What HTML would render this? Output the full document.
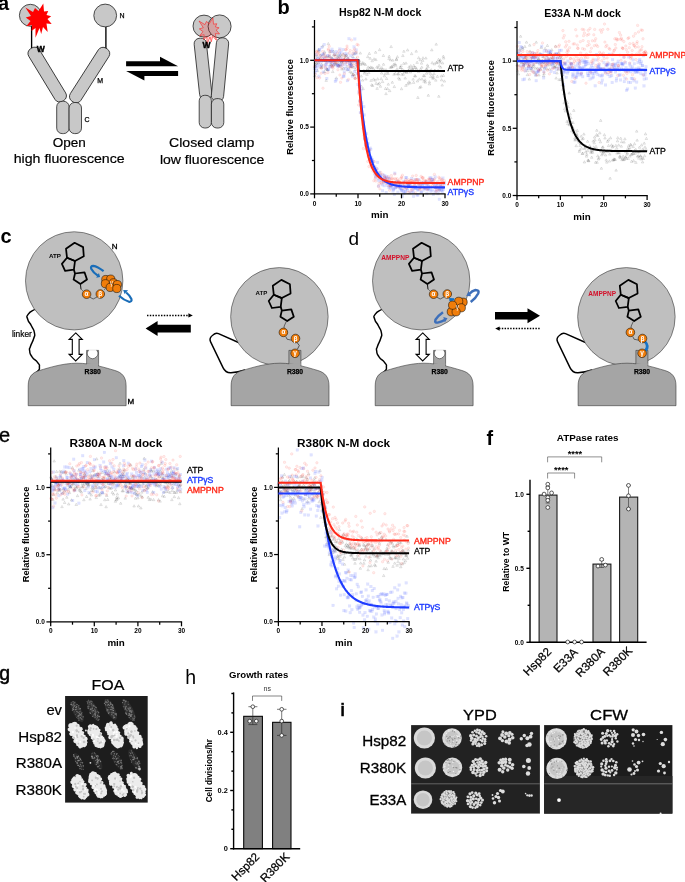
<!DOCTYPE html>
<html><head><meta charset="utf-8"><title>Figure</title>
<style>
html,body{margin:0;padding:0;background:#fff;}
svg{display:block;}
svg text{font-family:"Liberation Sans",Arial,Helvetica,sans-serif;fill:#000;}
</style></head><body>
<svg width="685" height="882" viewBox="0 0 685 882">
<rect width="685" height="882" fill="#fff"/>
<g id="pa">
<text x="-1.9" y="9.6" font-size="20" font-weight="bold">a</text>
<line x1="31.6" y1="25" x2="31.6" y2="48.5" stroke="#000" stroke-width="1.35"/>
<line x1="105.9" y1="25" x2="105.9" y2="48.5" stroke="#000" stroke-width="1.35"/>
<circle cx="30.4" cy="15.3" r="11" fill="#c8c8c8" stroke="#1a1a1a" stroke-width="0.75"/>
<circle cx="105.2" cy="15.5" r="11.4" fill="#c8c8c8" stroke="#1a1a1a" stroke-width="0.75"/>
<rect x="-6.25" y="-30.75" width="12.5" height="61.5" rx="5.5" fill="#c8c8c8" stroke="#1a1a1a" stroke-width="0.75" transform="translate(47.2 74.6) rotate(-31.3)"/>
<rect x="-6.25" y="-31.5" width="12.5" height="63" rx="5.5" fill="#c8c8c8" stroke="#1a1a1a" stroke-width="0.75" transform="translate(89.6 75.1) rotate(32.6)"/>
<rect x="56.7" y="101.3" width="12.4" height="32.3" rx="5.5" fill="#c8c8c8" stroke="#1a1a1a" stroke-width="0.75"/>
<rect x="69.1" y="102.5" width="12.4" height="31.1" rx="5.5" fill="#c8c8c8" stroke="#1a1a1a" stroke-width="0.75"/>
<polygon fill="#ff0000" points="25.4,7.4 33,12 35,7.9 38.5,11 43.3,3.5 44,11.5 48.2,10.9 46.5,15 51.2,16.2 47.5,19 51.7,24.1 46.5,23.5 47.7,32 43,27 41.2,34.1 39.5,28 35.5,37.7 35.5,28 31.5,31.1 32,25 26.3,26.3 30.5,21 25.8,17.5 31,16"/>
<text x="36.8" y="52.4" font-size="8.5" font-weight="bold" stroke="#000" stroke-width="0.4">W</text>
<text x="119.5" y="18.2" font-size="7" stroke="#000" stroke-width="0.25">N</text>
<text x="97.3" y="82.8" font-size="7" stroke="#000" stroke-width="0.25">M</text>
<text x="84.5" y="121.8" font-size="7" stroke="#000" stroke-width="0.25">C</text>
<text x="69.25" y="146.8" font-size="13.3" text-anchor="middle" textLength="33.1" lengthAdjust="spacingAndGlyphs" style="stroke:#000;stroke-width:0.2;">Open</text>
<text x="69.2" y="163.2" font-size="13.3" text-anchor="middle" textLength="111" lengthAdjust="spacingAndGlyphs" style="stroke:#000;stroke-width:0.2;">high fluorescence</text>
</g>
<g id="pa2">
<polygon points="126.1,61.3 160,61.3 160,56.7 178.1,66.3 126.1,66.3" fill="#000"/>
<polygon points="178.1,70.9 126.1,70.9 144.4,80.6 144.4,76 178.1,76" fill="#000"/>
<rect x="-6.15" y="-30.75" width="12.3" height="61.5" rx="5.5" fill="#c8c8c8" stroke="#1a1a1a" stroke-width="0.75" transform="translate(203 68.8) rotate(-6.2)"/>
<rect x="-6.15" y="-31.9" width="12.3" height="63.8" rx="5.5" fill="#c8c8c8" stroke="#1a1a1a" stroke-width="0.75" transform="translate(220 69.6) rotate(5.5)"/>
<rect x="199.2" y="95.3" width="12.2" height="32.7" rx="5.5" fill="#c8c8c8" stroke="#1a1a1a" stroke-width="0.75"/>
<rect x="211.4" y="98.6" width="12.4" height="29.4" rx="5.5" fill="#c8c8c8" stroke="#1a1a1a" stroke-width="0.75"/>
<circle cx="204" cy="26.1" r="11" fill="#c8c8c8" stroke="#1a1a1a" stroke-width="0.75"/>
<circle cx="219.6" cy="26.4" r="11.5" fill="#c8c8c8" stroke="#1a1a1a" stroke-width="0.75"/>
<polygon fill="#ff0000" fill-opacity="0.18" stroke="#ff2020" stroke-width="0.6" points="199.0,21.0 204.9,24.6 206.5,21.4 209.2,23.8 212.9,17.9 213.5,24.2 216.8,23.7 215.4,26.9 219.1,27.8 216.2,30.0 219.5,34.0 215.4,33.5 216.4,40.2 212.7,36.3 211.3,41.8 210.0,37.0 206.9,44.6 206.9,37.0 203.7,39.5 204.1,34.7 199.7,35.7 203.0,31.6 199.3,28.9 203.3,27.7"/>
<text x="202.6" y="48" font-size="8.5" font-weight="bold" stroke="#000" stroke-width="0.4">W</text>
<text x="211.7" y="147.1" font-size="13.3" text-anchor="middle" textLength="85.4" lengthAdjust="spacingAndGlyphs" style="stroke:#000;stroke-width:0.2;">Closed clamp</text>
<text x="212.15" y="163.8" font-size="13.3" text-anchor="middle" textLength="104.5" lengthAdjust="spacingAndGlyphs" style="stroke:#000;stroke-width:0.2;">low fluorescence</text>
</g>
<g id="plots">
<defs><marker id="mS" markerWidth="4" markerHeight="4" refX="2" refY="2" markerUnits="userSpaceOnUse"><rect x="0.65" y="0.65" width="2.7" height="2.7" fill="#2a44ff" fill-opacity="0.15" stroke="#2a44ff" stroke-opacity="0.08" stroke-width="0.35"/></marker><marker id="mC" markerWidth="4" markerHeight="4" refX="2" refY="2" markerUnits="userSpaceOnUse"><circle cx="2" cy="2" r="1.25" fill="#ff3a2a" fill-opacity="0.09" stroke="#ff3a2a" stroke-opacity="0.2" stroke-width="0.45"/></marker><marker id="mT" markerWidth="4" markerHeight="4" refX="2" refY="2.2" markerUnits="userSpaceOnUse"><path d="M2 0.8 L3.3 3.1 L0.7 3.1 Z" fill="#000" fill-opacity="0.03" stroke="#000" stroke-opacity="0.26" stroke-width="0.4"/></marker></defs>
<polyline points="314.7,75.8 315.1,66.4 315.6,64.3 316.0,62.8 316.5,59.4 316.8,63.4 317.1,56.2 317.6,70.8 318.4,49.9 318.7,62.7 318.9,51.3 319.3,59.5 319.8,60.2 320.3,58.5 320.8,55.4 321.3,67.7 321.7,64.5 322.0,67.2 322.7,46.2 323.0,60.7 323.3,59.5 323.6,54.3 324.4,71.8 324.6,52.0 325.3,60.2 325.4,60.5 326.2,80.5 326.4,56.4 326.7,69.1 327.2,69.6 327.5,69.7 328.3,43.8 328.4,60.2 328.8,56.9 329.6,56.2 329.9,51.8 330.2,60.7 330.8,64.2 331.0,64.8 331.5,57.9 332.3,58.2 332.7,66.2 332.8,71.7 333.4,51.4 333.6,55.2 334.1,60.6 334.8,63.2 334.9,54.9 335.3,65.1 336.0,63.0 336.3,78.1 336.8,54.9 337.3,57.2 337.5,63.8 338.3,58.0 338.4,65.4 339.1,55.8 339.6,62.1 340.0,66.4 340.1,65.0 340.5,55.0 341.3,61.6 341.5,55.9 341.9,69.2 342.3,60.8 342.8,63.0 343.4,54.2 343.7,68.4 344.4,59.9 344.5,59.0 345.0,56.1 345.4,58.6 346.0,55.6 346.5,55.2 347.0,66.5 347.3,69.7 347.5,58.9 348.3,60.0 348.6,58.8 349.0,60.7 349.4,61.1 350.1,66.7 350.1,71.8 350.9,63.7 351.2,64.0 351.7,72.8 351.9,66.6 352.6,74.8 352.8,56.6 353.3,74.5 353.8,67.5 354.2,53.8 354.4,75.2 355.2,78.2 355.6,69.5 355.9,52.6 356.3,58.7 356.9,62.9 357.0,67.1 357.5,65.3 358.2,73.2 358.7,70.8 358.8,63.1 359.4,70.4 359.7,61.2 360.3,53.2 360.6,64.5 361.2,76.2 361.4,86.4 362.2,63.9 362.6,80.2 362.8,62.8 363.1,88.8 363.9,70.6 364.2,63.8 364.4,73.3 365.0,72.0 365.4,64.6 365.9,79.1 366.5,70.7 367.0,74.5 367.0,69.9 367.8,56.8 368.1,67.2 368.4,70.5 368.8,72.8 369.3,53.6 369.7,68.3 370.1,58.4 370.6,67.2 371.1,80.5 371.7,85.0 372.0,67.7 372.2,60.9 372.6,85.6 373.1,68.4 373.6,79.2 374.1,59.1 374.6,70.6 375.1,80.3 375.6,52.4 375.9,59.7 376.1,83.5 376.9,67.2 377.1,88.5 377.7,79.0 378.2,84.2 378.3,67.9 379.0,65.4 379.4,83.2 379.6,49.8 380.4,86.4 380.6,68.9 381.2,78.9 381.6,73.2 381.9,67.8 382.4,69.8 382.6,81.7 383.4,55.6 383.5,64.4 384.0,69.8 384.4,76.0 385.0,73.9 385.5,88.6 386.0,93.8 386.1,69.9 386.6,78.6 387.2,72.3 387.6,88.8 388.0,73.6 388.3,84.3 389.0,58.7 389.2,56.4 389.7,90.8 390.2,67.5 390.6,59.9 391.1,46.7 391.5,66.7 391.8,67.2 392.3,82.4 392.8,60.3 393.2,66.3 393.8,64.4 394.0,74.4 394.3,86.7 395.1,64.0 395.3,73.5 395.8,65.4 396.4,59.8 396.5,59.2 397.0,69.0 397.4,56.9 397.9,74.2 398.5,74.0 398.7,78.1 399.1,71.5 399.7,79.4 400.1,67.5 400.6,67.6 401.1,65.7 401.5,88.9 401.9,74.4 402.4,69.3 402.9,55.7 403.3,74.3 403.8,63.5 403.9,51.4 404.3,71.2 404.8,72.1 405.2,78.2 405.9,85.5 406.0,63.2 406.6,71.7 406.9,72.6 407.6,50.1 407.8,84.0 408.4,70.4 408.9,82.0 409.1,67.0 409.5,69.1 410.1,83.1 410.4,72.1 410.8,65.9 411.6,53.8 412.0,68.2 412.5,69.1 412.7,70.2 413.1,79.3 413.6,82.5 413.8,65.6 414.5,67.7 414.8,75.9 415.4,76.1 415.6,67.5 416.2,51.3 416.7,69.1 417.1,62.5 417.4,81.1 417.9,97.6 418.5,71.7 418.7,57.9 419.3,79.2 419.8,87.5 420.2,59.9 420.6,69.3 420.9,86.8 421.5,63.3 421.8,67.3 422.0,79.2 422.7,60.5 423.0,58.0 423.5,75.7 424.0,81.4 424.4,75.9 425.1,80.1 425.4,82.3 425.9,58.2 426.2,69.1 426.5,73.4 426.9,69.2 427.4,65.2 428.0,66.9 428.3,95.4 428.8,72.2 429.4,82.0 429.4,84.0 430.1,70.8 430.7,73.8 430.8,76.6 431.3,70.0 431.8,50.0 432.2,62.9 432.7,78.3 433.0,76.1 433.6,78.1 434.0,73.8 434.3,64.0 434.6,70.4 435.1,70.7 435.8,80.3 436.2,44.3 436.7,62.3 436.8,62.8 437.4,76.5 438.1,70.5 438.5,59.6 438.8,96.4 439.3,65.9 439.6,61.2 440.0,62.3 440.3,60.1 440.7,67.3 441.3,76.1 441.6,80.0 442.2,85.2 442.6,63.1 443.3,56.4 443.4,75.5 443.7,58.2 444.4,81.2" fill="none" stroke="none" marker-start="url(#mT)" marker-mid="url(#mT)" marker-end="url(#mT)"/>
<polyline points="314.7,68.5 315.0,72.7 315.4,66.0 316.2,54.6 316.5,70.6 317.0,67.9 317.2,65.8 317.9,58.1 318.0,58.6 318.7,63.9 319.0,76.2 319.3,49.4 319.7,50.0 320.2,66.4 321.0,55.7 321.2,61.9 321.5,65.6 321.9,47.4 322.6,54.5 323.1,58.4 323.3,72.1 323.8,53.7 324.2,44.5 324.9,57.2 325.3,65.2 325.5,68.4 326.1,62.6 326.3,64.7 326.8,78.5 327.3,61.6 327.5,55.6 328.2,69.8 328.5,69.2 329.1,55.9 329.3,66.3 330.0,62.2 330.1,61.8 330.8,51.2 331.0,66.9 331.5,58.6 332.0,49.2 332.7,63.2 332.8,51.8 333.2,64.7 333.9,59.3 334.1,60.9 334.8,64.4 334.9,54.1 335.3,81.4 336.2,79.9 336.4,51.6 337.0,59.0 337.4,64.9 337.7,65.9 338.1,65.8 338.8,65.9 339.2,55.9 339.6,53.2 339.8,49.0 340.4,64.5 340.8,58.5 341.1,52.3 341.7,62.1 342.2,65.3 342.4,59.7 343.1,49.6 343.4,76.2 344.0,76.2 344.3,71.9 344.8,53.7 345.2,68.4 345.4,64.8 346.0,62.0 346.5,61.0 347.0,54.0 347.4,80.7 347.7,57.9 347.9,69.8 348.5,69.2 349.0,38.7 349.4,64.0 349.8,63.9 350.4,66.2 350.7,55.7 351.1,62.5 351.4,65.4 351.9,66.0 352.5,76.2 353.1,61.9 353.3,58.5 353.7,53.9 354.1,46.9 354.5,71.5 354.8,39.0 355.4,61.5 355.9,53.7 356.2,50.0 356.9,66.1 357.1,73.6 357.8,60.4 358.0,84.4 358.6,70.0 358.8,92.0 359.3,86.4 359.9,101.1 360.3,112.6 360.8,105.9 361.0,89.9 361.5,109.8 361.8,102.7 362.3,117.5 362.6,116.4 363.4,124.5 363.8,106.7 364.1,115.0 364.5,138.9 364.8,138.8 365.5,144.3 366.0,145.0 366.2,133.7 366.7,145.6 367.1,138.9 367.7,144.0 367.9,143.3 368.7,152.0 369.1,151.9 369.5,151.0 369.9,159.6 370.1,148.1 370.8,149.3 371.0,157.4 371.4,160.7 371.7,159.2 372.5,160.0 372.7,162.2 373.2,161.5 373.8,168.2 374.2,168.6 374.6,173.9 375.0,166.9 375.5,177.1 375.8,170.7 376.3,175.3 376.7,168.7 377.2,174.9 377.6,162.4 378.2,178.8 378.5,186.1 378.9,180.7 379.4,172.3 379.9,175.4 380.0,175.4 380.4,176.6 380.9,177.5 381.3,180.7 382.1,184.8 382.6,179.5 382.6,190.7 383.1,175.0 383.5,182.5 384.2,185.7 384.4,178.1 384.8,175.7 385.6,178.3 386.0,180.8 386.2,192.5 386.6,176.7 387.2,185.4 387.3,181.9 388.1,177.9 388.6,183.0 388.8,187.4 389.4,178.4 389.6,184.0 390.2,188.0 390.5,184.9 391.0,185.9 391.5,185.8 392.1,184.6 392.3,188.0 392.6,185.2 393.0,191.0 393.6,189.7 394.0,188.3 394.4,194.5 394.8,173.2 395.4,188.0 395.7,184.8 396.1,187.4 396.6,181.9 397.3,186.9 397.6,182.1 397.9,192.2 398.2,186.5 398.9,183.4 399.4,184.1 399.9,187.4 400.1,188.6 400.5,184.5 400.9,188.9 401.5,190.1 401.9,190.8 402.5,196.3 402.7,183.8 403.1,190.9 403.7,181.3 403.9,193.5 404.5,187.8 405.0,191.8 405.3,191.3 405.7,177.7 406.3,185.4 406.6,177.6 406.9,188.7 407.6,190.1 407.8,185.1 408.3,185.6 408.6,186.5 409.1,185.7 409.8,185.1 410.0,192.8 410.7,186.6 410.8,185.8 411.6,178.5 412.0,191.1 412.1,187.8 412.9,186.5 413.3,192.5 413.5,196.3 413.8,189.1 414.5,183.9 415.0,179.6 415.4,188.0 415.7,186.8 416.1,188.6 416.8,186.2 417.0,194.8 417.6,190.3 417.9,195.2 418.3,189.5 418.9,179.6 419.2,186.0 419.7,184.2 420.0,187.4 420.6,187.3 421.1,192.5 421.4,183.0 421.7,191.8 422.1,185.3 422.5,186.2 423.3,183.6 423.4,182.7 424.2,189.9 424.5,187.8 425.0,184.2 425.2,187.7 425.8,188.4 426.2,181.8 426.7,184.1 426.9,193.7 427.6,189.7 427.7,186.2 428.4,188.5 428.7,185.8 429.1,189.8 429.6,182.4 430.1,178.0 430.4,188.1 431.1,191.3 431.1,178.0 431.7,181.6 432.3,189.9 432.5,179.4 432.9,179.8 433.4,194.5 434.0,184.0 434.6,186.5 435.0,191.9 435.2,177.0 435.8,183.9 436.2,190.2 436.4,187.0 436.8,183.2 437.6,184.6 438.0,193.7 438.3,187.9 438.8,190.7 439.3,199.3 439.7,189.5 440.0,188.7 440.4,185.7 440.8,185.0 441.2,190.1 442.0,190.0 442.3,191.9 442.6,187.8 442.9,178.1 443.5,189.5 444.0,184.0 444.2,183.1" fill="none" stroke="none" marker-start="url(#mS)" marker-mid="url(#mS)" marker-end="url(#mS)"/>
<polyline points="314.6,66.3 315.3,74.3 315.4,59.6 315.9,54.7 316.6,51.9 316.8,51.3 317.2,77.7 317.8,52.3 318.0,61.2 318.8,54.7 319.2,53.8 319.6,77.9 320.1,58.2 320.5,67.7 320.8,59.9 321.2,73.2 321.6,68.2 321.9,56.6 322.7,51.6 323.0,88.2 323.4,60.4 323.9,65.7 324.2,57.3 324.7,54.3 325.0,73.5 325.5,56.9 325.8,67.6 326.3,59.9 326.7,62.9 327.4,57.4 327.9,72.6 328.3,50.1 328.4,48.9 329.2,46.2 329.5,54.7 330.1,51.6 330.5,58.1 330.9,66.7 331.1,61.4 331.8,65.6 332.1,61.5 332.5,67.1 333.0,68.2 333.5,65.4 333.7,62.0 334.3,54.5 334.5,59.7 335.2,56.6 335.6,63.0 335.9,61.1 336.3,59.7 337.0,59.9 337.1,62.8 337.7,52.8 337.9,69.7 338.7,58.5 338.8,66.3 339.6,50.2 339.9,75.0 340.2,57.9 340.5,82.3 341.3,60.5 341.5,68.1 341.9,78.1 342.5,64.9 342.8,54.4 343.2,62.0 343.7,58.0 344.0,59.6 344.4,73.8 345.2,56.1 345.5,49.6 345.9,62.9 346.2,49.9 347.0,46.1 347.1,48.2 347.6,62.3 347.9,58.6 348.5,79.4 349.2,53.0 349.2,65.4 350.0,61.5 350.2,50.5 350.5,68.1 350.9,60.1 351.4,40.1 352.0,66.7 352.6,53.6 352.7,63.2 353.5,74.9 353.7,50.8 354.2,65.5 354.7,48.9 354.9,78.4 355.3,78.2 355.9,64.2 356.3,52.1 356.6,62.3 357.0,44.4 357.5,57.2 358.2,45.0 358.6,105.0 358.9,94.0 359.5,100.9 359.7,92.4 360.2,102.2 360.9,112.7 361.2,109.1 361.5,111.3 361.9,116.5 362.3,115.7 363.0,128.4 363.4,148.6 363.8,121.9 364.1,135.4 364.7,131.7 365.0,138.4 365.4,137.2 365.7,146.2 366.4,149.1 366.6,142.7 367.1,146.6 367.8,161.4 368.2,155.8 368.4,156.8 368.9,166.6 369.5,149.9 369.6,159.4 370.4,162.1 370.6,162.5 371.3,165.8 371.6,160.2 371.8,167.6 372.4,168.2 372.9,171.1 373.1,166.4 373.8,180.8 374.2,166.6 374.4,161.8 375.1,178.8 375.6,176.8 375.9,181.1 376.3,174.6 376.8,172.5 377.2,169.0 377.6,173.5 378.0,174.8 378.4,186.3 379.0,183.4 379.3,177.4 379.9,188.9 380.1,174.0 380.7,172.3 381.0,182.3 381.3,183.6 382.1,178.6 382.5,174.4 382.7,180.0 383.2,179.8 383.5,181.8 383.9,181.8 384.7,176.9 384.8,176.9 385.3,182.1 386.0,178.9 386.1,179.6 386.5,183.4 387.0,179.0 387.3,181.7 387.9,182.7 388.4,176.5 388.9,186.0 389.4,179.0 389.6,190.2 390.0,185.7 390.6,185.6 391.1,178.7 391.4,175.6 391.9,181.9 392.4,178.4 392.8,179.1 393.3,184.2 393.4,183.8 394.2,184.5 394.7,182.6 394.8,174.1 395.3,178.5 395.6,179.5 396.3,186.7 396.7,184.6 397.0,184.6 397.3,178.8 398.1,180.8 398.5,181.5 399.0,187.1 399.1,181.1 399.5,186.0 400.0,183.1 400.7,178.4 401.1,182.2 401.5,176.9 401.9,178.1 402.4,175.2 402.8,185.6 403.3,188.5 403.7,182.5 404.1,183.4 404.6,182.2 404.8,186.1 405.4,181.2 405.7,179.8 406.2,188.1 406.8,188.0 407.2,180.8 407.6,183.2 408.0,192.3 408.4,181.6 408.8,179.8 409.2,181.8 409.6,183.7 410.2,191.3 410.4,180.6 411.1,188.2 411.2,180.4 411.8,180.5 412.3,189.8 412.7,176.1 413.1,181.2 413.7,186.4 414.2,185.9 414.3,181.1 415.1,183.4 415.3,192.9 415.7,179.5 416.2,175.4 416.7,180.0 416.9,179.4 417.7,179.8 418.1,184.1 418.5,182.7 418.6,183.6 419.4,188.2 419.5,181.0 419.9,189.8 420.5,184.9 421.1,176.3 421.4,189.1 421.7,182.7 422.2,177.6 422.5,178.1 423.1,180.5 423.3,177.7 423.8,188.0 424.6,188.0 424.9,180.4 425.3,183.0 425.8,181.8 426.0,180.7 426.6,181.3 427.0,189.8 427.3,183.9 427.7,188.3 428.4,182.8 428.7,179.1 429.3,179.1 429.5,179.9 430.1,181.5 430.6,186.2 430.9,182.2 431.4,179.4 431.9,183.1 432.3,183.0 432.7,185.9 433.1,181.4 433.6,183.3 434.1,180.5 434.4,174.4 434.6,178.9 435.2,187.8 435.9,187.5 436.0,191.3 436.5,186.9 437.1,189.9 437.6,181.5 437.8,183.3 438.4,187.1 438.8,177.2 439.2,190.1 439.8,179.7 439.8,178.1 440.5,184.4 441.0,186.3 441.3,182.0 441.8,180.2 442.1,179.3 442.8,181.8 443.0,184.9 443.3,187.3 444.0,182.4 444.4,180.7" fill="none" stroke="none" marker-start="url(#mC)" marker-mid="url(#mC)" marker-end="url(#mC)"/>
<line x1="314.5" y1="20" x2="314.5" y2="194.525" stroke="#000" stroke-width="1.25"/>
<line x1="313.875" y1="193.9" x2="445.625" y2="193.9" stroke="#000" stroke-width="1.25"/>
<line x1="310.2" y1="193.90" x2="314.5" y2="193.90" stroke="#000" stroke-width="1.25"/>
<text x="308.9" y="196.2" font-size="6.5" font-weight="bold" text-anchor="end">0.0</text>
<line x1="311.9" y1="160.50" x2="314.5" y2="160.50" stroke="#000" stroke-width="1.25"/>
<line x1="310.2" y1="127.10" x2="314.5" y2="127.10" stroke="#000" stroke-width="1.25"/>
<text x="308.9" y="129.4" font-size="6.5" font-weight="bold" text-anchor="end">0.5</text>
<line x1="311.9" y1="93.70" x2="314.5" y2="93.70" stroke="#000" stroke-width="1.25"/>
<line x1="310.2" y1="60.30" x2="314.5" y2="60.30" stroke="#000" stroke-width="1.25"/>
<text x="308.9" y="62.6" font-size="6.5" font-weight="bold" text-anchor="end">1.0</text>
<line x1="311.9" y1="26.90" x2="314.5" y2="26.90" stroke="#000" stroke-width="1.25"/>
<line x1="314.50" y1="193.9" x2="314.50" y2="198.3" stroke="#000" stroke-width="1.25"/>
<text x="314.5" y="205.6" font-size="6.5" font-weight="bold" text-anchor="middle">0</text>
<line x1="336.25" y1="193.9" x2="336.25" y2="196.70000000000002" stroke="#000" stroke-width="1.25"/>
<line x1="358.00" y1="193.9" x2="358.00" y2="198.3" stroke="#000" stroke-width="1.25"/>
<text x="358.0" y="205.6" font-size="6.5" font-weight="bold" text-anchor="middle">10</text>
<line x1="379.75" y1="193.9" x2="379.75" y2="196.70000000000002" stroke="#000" stroke-width="1.25"/>
<line x1="401.50" y1="193.9" x2="401.50" y2="198.3" stroke="#000" stroke-width="1.25"/>
<text x="401.5" y="205.6" font-size="6.5" font-weight="bold" text-anchor="middle">20</text>
<line x1="423.25" y1="193.9" x2="423.25" y2="196.70000000000002" stroke="#000" stroke-width="1.25"/>
<line x1="445.00" y1="193.9" x2="445.00" y2="198.3" stroke="#000" stroke-width="1.25"/>
<text x="445.0" y="205.6" font-size="6.5" font-weight="bold" text-anchor="middle">30</text>
<text x="380.1" y="15.5" font-size="10.6" font-weight="bold" text-anchor="middle">Hsp82 N-M dock</text>
<text transform="translate(293.2 107) rotate(-90)" font-size="9.3" font-weight="bold" text-anchor="middle">Relative fluorescence</text>
<text x="379.8" y="218.2" font-size="9.8" font-weight="bold" text-anchor="middle">min</text>
<polyline points="314.50,60.30 315.04,60.30 315.59,60.30 316.13,60.30 316.68,60.30 317.22,60.30 317.76,60.30 318.31,60.30 318.85,60.30 319.39,60.30 319.94,60.30 320.48,60.30 321.02,60.30 321.57,60.30 322.11,60.30 322.66,60.30 323.20,60.30 323.74,60.30 324.29,60.30 324.83,60.30 325.38,60.30 325.92,60.30 326.46,60.30 327.01,60.30 327.55,60.30 328.09,60.30 328.64,60.30 329.18,60.30 329.73,60.30 330.27,60.30 330.81,60.30 331.36,60.30 331.90,60.30 332.44,60.30 332.99,60.30 333.53,60.30 334.07,60.30 334.62,60.30 335.16,60.30 335.71,60.30 336.25,60.30 336.79,60.30 337.34,60.30 337.88,60.30 338.43,60.30 338.97,60.30 339.51,60.30 340.06,60.30 340.60,60.30 341.14,60.30 341.69,60.30 342.23,60.30 342.77,60.30 343.32,60.30 343.86,60.30 344.41,60.30 344.95,60.30 345.49,60.30 346.04,60.30 346.58,60.30 347.12,60.30 347.67,60.30 348.21,60.30 348.76,60.30 349.30,60.30 349.84,60.30 350.39,60.30 350.93,60.30 351.48,60.30 352.02,60.30 352.56,60.30 353.11,60.30 353.65,60.30 354.19,60.30 354.74,60.30 355.28,60.30 355.82,60.30 356.37,60.30 356.69,60.30 356.70,60.30 356.91,60.30 357.46,60.30 357.56,60.30 357.57,60.30 358.00,60.30 358.00,60.30 358.00,60.30 358.43,60.30 358.44,70.99 358.54,70.99 359.09,70.99 359.63,70.99 360.18,70.99 360.72,70.99 361.26,70.99 361.81,70.99 362.35,70.99 362.89,70.99 363.44,70.99 363.98,70.99 364.52,70.99 365.07,70.99 365.61,70.99 366.16,70.99 366.70,70.99 367.24,70.99 367.79,70.99 368.33,70.99 368.88,70.99 369.42,70.99 369.96,70.99 370.51,70.99 371.05,70.99 371.59,70.99 372.14,70.99 372.68,70.99 373.23,70.99 373.77,70.99 374.31,70.99 374.86,70.99 375.40,70.99 375.94,70.99 376.49,70.99 377.03,70.99 377.57,70.99 378.12,70.99 378.66,70.99 379.21,70.99 379.75,70.99 380.29,70.99 380.84,70.99 381.38,70.99 381.93,70.99 382.47,70.99 383.01,70.99 383.56,70.99 384.10,70.99 384.64,70.99 385.19,70.99 385.73,70.99 386.27,70.99 386.82,70.99 387.36,70.99 387.91,70.99 388.45,70.99 388.99,70.99 389.54,70.99 390.08,70.99 390.62,70.99 391.17,70.99 391.71,70.99 392.26,70.99 392.80,70.99 393.34,70.99 393.89,70.99 394.43,70.99 394.98,70.99 395.52,70.99 396.06,70.99 396.61,70.99 397.15,70.99 397.69,70.99 398.24,70.99 398.78,70.99 399.32,70.99 399.87,70.99 400.41,70.99 400.96,70.99 401.50,70.99 402.04,70.99 402.59,70.99 403.13,70.99 403.68,70.99 404.22,70.99 404.76,70.99 405.31,70.99 405.85,70.99 406.39,70.99 406.94,70.99 407.48,70.99 408.02,70.99 408.57,70.99 409.11,70.99 409.66,70.99 410.20,70.99 410.74,70.99 411.29,70.99 411.83,70.99 412.38,70.99 412.92,70.99 413.46,70.99 414.01,70.99 414.55,70.99 415.09,70.99 415.64,70.99 416.18,70.99 416.73,70.99 417.27,70.99 417.81,70.99 418.36,70.99 418.90,70.99 419.44,70.99 419.99,70.99 420.53,70.99 421.07,70.99 421.62,70.99 422.16,70.99 422.71,70.99 423.25,70.99 423.79,70.99 424.34,70.99 424.88,70.99 425.43,70.99 425.97,70.99 426.51,70.99 427.06,70.99 427.60,70.99 428.14,70.99 428.69,70.99 429.23,70.99 429.77,70.99 430.32,70.99 430.86,70.99 431.41,70.99 431.95,70.99 432.49,70.99 433.04,70.99 433.58,70.99 434.12,70.99 434.67,70.99 435.21,70.99 435.76,70.99 436.30,70.99 436.84,70.99 437.39,70.99 437.93,70.99 438.48,70.99 439.02,70.99 439.56,70.99 440.11,70.99 440.65,70.99 441.19,70.99 441.74,70.99 442.28,70.99 442.82,70.99 443.37,70.99 443.91,70.99 444.46,70.99 445.00,70.99" fill="none" stroke="#000000" stroke-width="2.0" stroke-linejoin="miter"/>
<polyline points="314.50,60.30 315.04,60.30 315.59,60.30 316.13,60.30 316.68,60.30 317.22,60.30 317.76,60.30 318.31,60.30 318.85,60.30 319.39,60.30 319.94,60.30 320.48,60.30 321.02,60.30 321.57,60.30 322.11,60.30 322.66,60.30 323.20,60.30 323.74,60.30 324.29,60.30 324.83,60.30 325.38,60.30 325.92,60.30 326.46,60.30 327.01,60.30 327.55,60.30 328.09,60.30 328.64,60.30 329.18,60.30 329.73,60.30 330.27,60.30 330.81,60.30 331.36,60.30 331.90,60.30 332.44,60.30 332.99,60.30 333.53,60.30 334.07,60.30 334.62,60.30 335.16,60.30 335.71,60.30 336.25,60.30 336.79,60.30 337.34,60.30 337.88,60.30 338.43,60.30 338.97,60.30 339.51,60.30 340.06,60.30 340.60,60.30 341.14,60.30 341.69,60.30 342.23,60.30 342.77,60.30 343.32,60.30 343.86,60.30 344.41,60.30 344.95,60.30 345.49,60.30 346.04,60.30 346.58,60.30 347.12,60.30 347.67,60.30 348.21,60.30 348.76,60.30 349.30,60.30 349.84,60.30 350.39,60.30 350.93,60.30 351.48,60.30 352.02,60.30 352.56,60.30 353.11,60.30 353.65,60.30 354.19,60.30 354.74,60.30 355.28,60.30 355.82,60.30 356.37,60.30 356.69,60.30 356.70,60.30 356.91,60.30 357.46,60.30 357.56,60.30 357.57,60.33 358.00,66.23 358.00,66.25 358.00,66.28 358.43,71.90 358.44,71.96 358.54,73.31 359.09,79.95 359.63,86.20 360.18,92.09 360.72,97.64 361.26,102.87 361.81,107.79 362.35,112.42 362.89,116.78 363.44,120.89 363.98,124.76 364.52,128.41 365.07,131.84 365.61,135.07 366.16,138.12 366.70,140.99 367.24,143.69 367.79,146.23 368.33,148.62 368.88,150.88 369.42,153.00 369.96,155.00 370.51,156.89 371.05,158.66 371.59,160.33 372.14,161.91 372.68,163.39 373.23,164.78 373.77,166.10 374.31,167.34 374.86,168.50 375.40,169.60 375.94,170.63 376.49,171.61 377.03,172.52 377.57,173.39 378.12,174.20 378.66,174.97 379.21,175.69 379.75,176.37 380.29,177.01 380.84,177.61 381.38,178.18 381.93,178.71 382.47,179.22 383.01,179.69 383.56,180.14 384.10,180.56 384.64,180.95 385.19,181.32 385.73,181.68 386.27,182.01 386.82,182.32 387.36,182.61 387.91,182.89 388.45,183.15 388.99,183.39 389.54,183.62 390.08,183.84 390.62,184.04 391.17,184.24 391.71,184.42 392.26,184.59 392.80,184.75 393.34,184.90 393.89,185.05 394.43,185.18 394.98,185.31 395.52,185.43 396.06,185.54 396.61,185.64 397.15,185.74 397.69,185.84 398.24,185.93 398.78,186.01 399.32,186.09 399.87,186.16 400.41,186.23 400.96,186.30 401.50,186.36 402.04,186.42 402.59,186.47 403.13,186.52 403.68,186.57 404.22,186.62 404.76,186.66 405.31,186.70 405.85,186.74 406.39,186.77 406.94,186.81 407.48,186.84 408.02,186.87 408.57,186.90 409.11,186.92 409.66,186.95 410.20,186.97 410.74,186.99 411.29,187.02 411.83,187.03 412.38,187.05 412.92,187.07 413.46,187.09 414.01,187.10 414.55,187.12 415.09,187.13 415.64,187.14 416.18,187.16 416.73,187.17 417.27,187.18 417.81,187.19 418.36,187.20 418.90,187.21 419.44,187.22 419.99,187.22 420.53,187.23 421.07,187.24 421.62,187.25 422.16,187.25 422.71,187.26 423.25,187.26 423.79,187.27 424.34,187.27 424.88,187.28 425.43,187.28 425.97,187.29 426.51,187.29 427.06,187.29 427.60,187.30 428.14,187.30 428.69,187.30 429.23,187.31 429.77,187.31 430.32,187.31 430.86,187.31 431.41,187.32 431.95,187.32 432.49,187.32 433.04,187.32 433.58,187.32 434.12,187.33 434.67,187.33 435.21,187.33 435.76,187.33 436.30,187.33 436.84,187.33 437.39,187.33 437.93,187.34 438.48,187.34 439.02,187.34 439.56,187.34 440.11,187.34 440.65,187.34 441.19,187.34 441.74,187.34 442.28,187.34 442.82,187.34 443.37,187.34 443.91,187.34 444.46,187.34 445.00,187.35" fill="none" stroke="#1f3cff" stroke-width="2.1" stroke-linejoin="miter"/>
<polyline points="314.50,60.30 315.04,60.30 315.59,60.30 316.13,60.30 316.68,60.30 317.22,60.30 317.76,60.30 318.31,60.30 318.85,60.30 319.39,60.30 319.94,60.30 320.48,60.30 321.02,60.30 321.57,60.30 322.11,60.30 322.66,60.30 323.20,60.30 323.74,60.30 324.29,60.30 324.83,60.30 325.38,60.30 325.92,60.30 326.46,60.30 327.01,60.30 327.55,60.30 328.09,60.30 328.64,60.30 329.18,60.30 329.73,60.30 330.27,60.30 330.81,60.30 331.36,60.30 331.90,60.30 332.44,60.30 332.99,60.30 333.53,60.30 334.07,60.30 334.62,60.30 335.16,60.30 335.71,60.30 336.25,60.30 336.79,60.30 337.34,60.30 337.88,60.30 338.43,60.30 338.97,60.30 339.51,60.30 340.06,60.30 340.60,60.30 341.14,60.30 341.69,60.30 342.23,60.30 342.77,60.30 343.32,60.30 343.86,60.30 344.41,60.30 344.95,60.30 345.49,60.30 346.04,60.30 346.58,60.30 347.12,60.30 347.67,60.30 348.21,60.30 348.76,60.30 349.30,60.30 349.84,60.30 350.39,60.30 350.93,60.30 351.48,60.30 352.02,60.30 352.56,60.30 353.11,60.30 353.65,60.30 354.19,60.30 354.74,60.30 355.28,60.30 355.82,60.30 356.37,60.30 356.69,60.30 356.70,60.30 356.91,60.30 357.46,60.30 357.56,60.30 357.57,60.34 358.00,67.64 358.00,67.67 358.00,67.71 358.43,74.57 358.44,74.64 358.54,76.27 359.09,84.22 359.63,91.59 360.18,98.40 360.72,104.70 361.26,110.54 361.81,115.94 362.35,120.94 362.89,125.56 363.44,129.84 363.98,133.80 364.52,137.46 365.07,140.86 365.61,143.99 366.16,146.90 366.70,149.59 367.24,152.07 367.79,154.38 368.33,156.51 368.88,158.48 369.42,160.30 369.96,161.99 370.51,163.55 371.05,165.00 371.59,166.34 372.14,167.58 372.68,168.72 373.23,169.78 373.77,170.76 374.31,171.67 374.86,172.51 375.40,173.29 375.94,174.01 376.49,174.68 377.03,175.29 377.57,175.86 378.12,176.39 378.66,176.88 379.21,177.33 379.75,177.75 380.29,178.14 380.84,178.50 381.38,178.83 381.93,179.14 382.47,179.42 383.01,179.68 383.56,179.93 384.10,180.15 384.64,180.36 385.19,180.55 385.73,180.73 386.27,180.90 386.82,181.05 387.36,181.19 387.91,181.32 388.45,181.44 388.99,181.55 389.54,181.66 390.08,181.75 390.62,181.84 391.17,181.92 391.71,182.00 392.26,182.07 392.80,182.14 393.34,182.20 393.89,182.25 394.43,182.30 394.98,182.35 395.52,182.40 396.06,182.44 396.61,182.47 397.15,182.51 397.69,182.54 398.24,182.57 398.78,182.60 399.32,182.63 399.87,182.65 400.41,182.67 400.96,182.69 401.50,182.71 402.04,182.73 402.59,182.74 403.13,182.76 403.68,182.77 404.22,182.79 404.76,182.80 405.31,182.81 405.85,182.82 406.39,182.83 406.94,182.84 407.48,182.85 408.02,182.85 408.57,182.86 409.11,182.87 409.66,182.87 410.20,182.88 410.74,182.88 411.29,182.89 411.83,182.89 412.38,182.90 412.92,182.90 413.46,182.90 414.01,182.91 414.55,182.91 415.09,182.91 415.64,182.91 416.18,182.92 416.73,182.92 417.27,182.92 417.81,182.92 418.36,182.92 418.90,182.93 419.44,182.93 419.99,182.93 420.53,182.93 421.07,182.93 421.62,182.93 422.16,182.93 422.71,182.93 423.25,182.93 423.79,182.94 424.34,182.94 424.88,182.94 425.43,182.94 425.97,182.94 426.51,182.94 427.06,182.94 427.60,182.94 428.14,182.94 428.69,182.94 429.23,182.94 429.77,182.94 430.32,182.94 430.86,182.94 431.41,182.94 431.95,182.94 432.49,182.94 433.04,182.94 433.58,182.94 434.12,182.94 434.67,182.94 435.21,182.94 435.76,182.94 436.30,182.94 436.84,182.94 437.39,182.94 437.93,182.94 438.48,182.94 439.02,182.94 439.56,182.94 440.11,182.94 440.65,182.94 441.19,182.94 441.74,182.94 442.28,182.94 442.82,182.94 443.37,182.94 443.91,182.94 444.46,182.94 445.00,182.94" fill="none" stroke="#ff2a1a" stroke-width="2.1" stroke-linejoin="miter"/>
<text x="447.6" y="70.8" font-size="8.7" style="stroke:#000;stroke-width:0.3">ATP</text>
<text x="447.6" y="184.6" font-size="8.7" style="fill:#ff2a1a;stroke:#ff2a1a;stroke-width:0.38">AMPPNP</text>
<text x="447.6" y="194.6" font-size="8.7" style="fill:#1f3cff;stroke:#1f3cff;stroke-width:0.38">ATPγS</text>
<polyline points="517.1,65.0 517.6,70.9 518.0,57.5 518.5,74.0 518.9,61.0 519.3,60.5 519.8,49.2 520.1,55.6 520.6,36.4 521.2,54.4 521.7,62.6 521.9,62.4 522.4,47.5 522.8,49.0 523.1,59.5 523.9,64.6 524.1,67.5 524.6,63.3 524.9,46.7 525.3,57.7 526.0,56.1 526.5,42.3 526.8,60.3 527.3,70.8 527.4,74.8 527.9,59.0 528.6,55.3 528.8,66.0 529.3,79.2 529.7,45.3 530.0,51.3 530.8,54.6 531.0,70.4 531.6,60.6 531.8,68.4 532.4,67.1 532.6,57.8 533.4,55.1 533.6,66.3 533.9,64.7 534.3,56.1 534.9,72.9 535.4,68.2 536.0,75.2 536.2,42.3 536.7,62.4 537.3,68.3 537.4,60.7 538.1,59.6 538.5,58.7 538.9,75.1 539.1,59.6 539.6,63.0 540.0,53.6 540.4,69.4 541.2,47.6 541.5,66.7 542.1,60.4 542.3,61.3 542.6,62.9 543.3,56.8 543.6,75.8 544.0,73.7 544.4,68.1 544.9,63.2 545.1,48.6 545.8,59.6 546.2,61.6 546.7,55.3 546.9,69.0 547.4,45.6 547.7,65.2 548.2,59.7 548.7,60.2 549.0,53.8 549.5,69.1 550.1,65.0 550.4,53.4 550.8,58.2 551.5,54.5 551.8,49.9 552.4,57.8 552.8,60.9 553.1,62.0 553.3,60.7 554.0,65.7 554.3,63.2 554.6,67.2 555.2,66.9 555.6,46.3 556.1,78.2 556.4,66.6 557.0,73.1 557.6,61.7 557.8,63.9 558.3,69.7 558.5,53.1 559.1,79.7 559.5,57.6 559.8,61.3 560.3,56.2 560.8,79.5 561.4,58.3 561.7,72.5 562.2,84.8 562.5,74.9 562.8,89.4 563.6,86.1 564.0,93.7 564.2,102.9 564.7,108.9 565.4,99.7 565.4,111.1 566.2,103.6 566.7,105.3 567.0,121.5 567.4,102.7 567.9,123.7 568.1,106.8 568.7,121.0 569.2,93.1 569.3,124.9 569.9,124.3 570.2,114.2 570.8,117.7 571.4,122.5 571.8,131.1 572.3,127.4 572.6,127.1 573.0,122.7 573.5,132.8 573.8,110.5 574.2,130.0 574.8,138.2 575.0,140.2 575.5,139.5 576.2,145.8 576.5,135.2 576.8,133.6 577.2,130.6 577.6,136.5 578.3,140.3 578.8,140.9 579.0,142.3 579.3,151.5 579.8,150.0 580.1,145.6 580.7,143.6 581.2,136.3 581.5,148.4 582.2,139.2 582.3,153.6 582.8,153.4 583.2,138.4 583.9,134.2 584.4,162.1 584.4,148.6 585.2,147.8 585.6,145.9 585.7,152.0 586.5,156.3 586.8,154.4 587.4,150.8 587.6,141.4 588.0,160.2 588.3,160.7 588.8,160.9 589.3,148.9 589.7,145.9 590.3,147.4 590.8,151.4 591.0,152.7 591.7,157.4 592.1,151.0 592.5,152.4 593.0,149.6 593.2,141.2 593.7,147.2 594.2,143.0 594.6,137.2 594.9,140.1 595.6,162.4 596.0,146.6 596.5,134.9 596.8,130.4 597.1,162.4 597.8,135.6 597.8,156.0 598.4,159.1 599.0,157.9 599.4,139.5 599.8,133.0 600.4,142.0 600.7,120.5 601.2,151.5 601.4,168.4 601.8,154.9 602.4,147.4 602.9,153.5 603.0,147.0 603.6,152.3 604.2,151.5 604.4,134.9 605.0,138.1 605.6,155.1 605.7,151.1 606.2,160.2 606.8,162.3 607.2,150.9 607.5,141.5 608.0,151.8 608.4,140.0 608.6,145.7 609.4,161.2 609.8,154.2 610.1,178.4 610.5,138.0 611.0,150.6 611.5,145.1 611.8,151.0 612.4,147.1 612.5,160.2 613.1,146.2 613.6,160.1 614.0,159.1 614.5,159.5 615.1,150.9 615.2,159.5 615.9,145.7 616.1,170.3 616.8,148.3 617.0,153.2 617.5,141.0 617.8,137.9 618.4,152.8 618.7,145.2 619.2,152.5 619.7,157.0 620.0,156.0 620.4,157.8 620.8,138.5 621.3,146.3 621.7,141.8 622.0,159.8 622.8,158.9 623.1,156.4 623.7,159.8 624.0,142.2 624.3,159.4 624.9,139.0 625.3,157.3 625.8,151.6 625.9,157.1 626.4,158.6 627.0,154.3 627.4,153.0 627.7,148.7 628.2,158.5 628.6,145.8 629.0,149.4 629.6,147.6 629.9,156.2 630.5,144.5 631.0,145.2 631.2,154.5 631.6,161.5 632.1,154.3 632.5,153.4 633.1,146.7 633.6,160.8 633.7,153.6 634.5,143.9 634.7,150.6 635.2,153.4 635.8,149.6 635.9,162.5 636.7,131.3 637.1,140.3 637.5,156.3 637.7,152.1 638.3,156.0 638.8,158.3 638.9,152.0 639.5,147.4 640.1,151.0 640.3,156.1 640.7,156.1 641.1,159.2 641.6,145.1 642.2,158.0 642.6,162.1 642.9,149.3 643.3,158.6 643.8,150.9 644.2,143.3 644.6,155.9 645.0,147.2 645.5,134.0 646.1,149.6 646.4,138.6" fill="none" stroke="none" marker-start="url(#mT)" marker-mid="url(#mT)" marker-end="url(#mT)"/>
<polyline points="517.4,60.1 517.9,59.9 517.9,53.3 518.4,53.7 519.1,59.0 519.3,42.5 519.9,50.9 520.4,65.8 520.8,46.5 521.1,56.5 521.5,55.8 522.0,47.7 522.6,58.3 522.9,79.7 523.4,65.5 523.9,64.8 524.1,57.5 524.6,79.1 524.8,56.1 525.3,70.9 525.7,63.0 526.5,61.5 526.7,68.6 527.2,61.9 527.8,63.6 528.1,54.4 528.4,68.7 528.9,66.3 529.4,64.2 530.0,61.7 530.1,67.9 530.8,58.0 531.2,68.6 531.3,61.7 532.1,56.7 532.3,52.9 532.7,64.1 533.0,57.3 533.7,58.1 533.9,71.3 534.6,53.9 535.1,58.7 535.6,75.0 535.8,57.6 536.2,80.7 536.8,72.6 537.1,62.6 537.5,71.6 538.1,56.8 538.6,70.3 538.6,71.6 539.2,61.1 539.5,63.9 540.0,68.5 540.4,54.4 540.8,62.5 541.3,61.6 541.7,46.3 542.2,54.3 542.6,56.3 543.1,62.7 543.7,77.9 543.8,71.4 544.2,51.1 544.7,68.3 545.4,60.6 545.8,66.6 546.1,59.9 546.5,51.1 546.9,56.7 547.6,62.6 547.9,63.1 548.4,52.9 548.6,58.9 549.3,50.7 549.8,60.8 550.2,60.1 550.3,52.0 550.9,52.2 551.1,71.4 551.7,64.0 552.4,64.6 552.8,67.7 553.2,63.3 553.5,58.8 553.8,55.6 554.5,72.5 555.0,61.8 555.5,58.3 555.8,54.1 556.2,69.3 556.4,54.0 556.8,54.2 557.3,58.8 557.9,56.9 558.3,61.9 558.9,68.5 559.3,66.3 559.4,50.4 560.1,64.7 560.6,60.1 560.7,61.5 561.3,50.3 561.7,72.5 562.2,67.8 562.8,74.8 563.2,70.9 563.6,84.6 564.0,71.7 564.2,63.8 564.6,63.8 565.0,72.3 565.5,63.2 566.0,64.8 566.3,77.3 566.9,68.6 567.5,73.0 567.9,61.1 568.4,71.3 568.8,68.3 569.1,69.0 569.4,66.0 569.9,68.3 570.6,68.0 570.9,63.4 571.4,64.3 571.7,63.7 572.1,67.0 572.7,76.9 573.0,73.9 573.2,75.1 573.9,82.2 574.2,70.1 574.5,68.8 575.0,82.1 575.4,66.1 576.0,76.7 576.2,77.7 577.0,75.2 577.2,73.0 577.8,63.7 578.1,72.6 578.6,66.4 579.2,63.1 579.5,67.3 580.0,75.0 580.4,68.4 580.8,60.9 581.2,74.2 581.6,73.1 582.0,67.7 582.7,76.7 582.9,68.8 583.2,62.2 583.9,60.2 584.1,67.0 584.8,62.0 585.2,61.9 585.4,65.0 586.0,64.6 586.3,61.9 586.9,69.4 587.1,61.6 587.5,73.0 587.9,75.6 588.4,63.7 588.8,75.5 589.4,69.9 589.8,73.0 590.1,79.0 590.6,68.3 591.0,71.7 591.4,65.6 592.2,78.0 592.5,73.8 593.0,63.1 593.2,67.4 593.5,77.0 594.1,73.7 594.8,71.4 595.2,85.8 595.5,71.0 595.9,59.9 596.5,54.5 596.7,72.0 597.2,67.9 597.8,74.5 598.1,65.9 598.6,66.9 599.0,64.6 599.1,67.2 599.9,75.7 600.2,69.1 600.5,68.6 601.0,69.2 601.6,83.0 601.8,76.0 602.3,80.1 602.6,75.0 603.1,68.8 603.6,55.8 604.0,62.7 604.7,69.9 605.1,70.9 605.5,85.0 605.8,72.3 606.0,66.1 606.8,64.7 607.3,64.8 607.4,65.2 607.9,74.4 608.3,63.7 608.9,69.1 609.3,54.3 609.7,69.2 610.0,76.6 610.4,71.3 611.1,64.6 611.4,71.4 611.7,75.6 612.2,82.5 612.6,59.7 613.0,66.7 613.8,65.1 614.2,69.5 614.5,67.5 614.9,64.0 615.4,64.9 615.5,72.0 616.3,80.9 616.6,78.5 616.9,67.8 617.5,69.4 617.7,63.3 618.2,61.2 618.7,66.7 619.2,75.2 619.5,70.0 620.1,74.9 620.5,80.0 621.0,63.6 621.5,68.9 621.8,63.7 622.4,65.1 622.5,63.2 623.3,64.2 623.5,69.7 623.8,57.2 624.3,81.6 625.0,78.2 625.2,70.6 625.5,62.8 626.0,67.7 626.5,90.3 626.8,71.1 627.6,89.0 627.8,70.3 628.4,82.3 628.7,57.0 629.0,69.9 629.6,63.8 630.2,66.0 630.5,82.5 630.7,71.8 631.3,78.4 631.8,68.9 632.4,66.9 632.7,78.6 633.1,59.9 633.5,70.7 633.9,80.8 634.3,63.7 635.0,72.4 635.3,88.1 635.7,70.8 636.1,68.8 636.6,71.9 636.7,82.1 637.5,71.2 638.0,62.6 638.2,72.2 638.5,69.3 639.0,67.9 639.3,61.1 639.8,59.5 640.6,63.6 640.9,73.7 641.4,70.2 641.5,62.0 642.3,65.7 642.5,65.5 643.2,74.9 643.5,55.7 644.0,85.9 644.2,79.1 644.8,70.8 645.0,75.2 645.4,72.6 646.0,66.7 646.4,78.7" fill="none" stroke="none" marker-start="url(#mS)" marker-mid="url(#mS)" marker-end="url(#mS)"/>
<polyline points="517.4,46.3 517.5,66.1 518.1,69.2 518.4,56.9 518.8,66.0 519.4,59.3 519.6,51.1 520.2,55.1 520.7,61.8 520.9,68.0 521.7,70.3 522.0,66.9 522.6,69.2 522.8,51.6 523.3,64.5 523.5,66.5 524.1,63.1 524.5,70.8 525.1,59.2 525.4,56.9 526.0,59.9 526.1,57.7 526.5,62.6 527.3,51.6 527.5,65.3 527.9,56.6 528.6,66.5 528.7,62.8 529.4,64.8 529.6,74.5 530.2,52.5 530.8,65.9 530.9,58.6 531.4,61.5 531.7,57.0 532.5,71.6 532.9,52.4 533.4,64.0 533.7,72.5 534.0,44.6 534.4,53.7 534.8,57.3 535.6,56.2 535.6,62.7 536.2,56.6 536.8,53.0 537.0,75.1 537.5,53.6 537.9,50.5 538.6,69.6 538.9,70.8 539.4,55.2 539.8,60.7 540.1,54.9 540.7,69.8 541.1,64.4 541.3,65.6 541.9,66.0 542.4,60.9 542.5,42.9 543.2,66.3 543.6,62.5 544.0,72.3 544.2,57.4 544.8,60.2 545.5,65.1 545.6,63.0 546.2,65.2 546.6,51.1 547.0,55.5 547.6,70.2 547.9,63.4 548.2,58.6 548.9,63.0 549.4,73.9 549.7,60.9 550.1,62.8 550.4,54.8 550.8,54.6 551.3,62.8 551.8,57.7 552.2,68.8 552.6,61.7 553.0,58.0 553.4,55.9 553.8,68.1 554.4,54.2 554.8,54.5 555.4,61.9 555.6,46.7 556.3,62.6 556.7,62.7 556.9,63.8 557.6,57.9 557.7,61.6 558.4,68.5 558.6,46.6 559.2,53.3 559.4,45.0 559.9,63.5 560.2,64.2 561.0,56.2 561.3,55.9 561.9,67.7 562.3,65.3 562.5,62.0 562.9,30.6 563.3,37.9 563.9,58.9 564.3,35.5 564.9,62.8 565.3,47.0 565.7,41.8 566.2,56.7 566.7,45.0 566.9,52.4 567.5,49.9 567.7,54.9 568.3,50.9 568.5,67.5 569.0,41.3 569.5,47.7 570.1,62.9 570.3,58.7 570.7,58.3 571.1,63.9 571.8,81.4 572.1,67.0 572.6,67.4 573.2,44.0 573.6,58.9 573.6,63.2 574.4,61.4 574.5,43.8 574.9,78.4 575.7,29.7 576.1,56.7 576.3,60.6 576.9,36.0 577.3,45.1 577.7,48.2 578.1,48.4 578.4,58.6 579.1,60.2 579.6,64.0 579.8,61.4 580.3,41.7 580.7,53.1 581.2,73.3 581.5,58.1 582.2,29.3 582.5,48.6 583.1,40.5 583.5,35.7 583.9,29.8 584.4,33.0 584.5,49.3 584.9,56.3 585.6,57.7 586.0,83.2 586.4,54.0 587.0,35.2 587.3,45.7 587.8,57.7 588.2,30.3 588.4,41.5 588.8,34.2 589.2,44.6 590.0,28.4 590.4,51.7 590.7,72.2 591.2,61.7 591.4,48.2 592.0,63.1 592.4,40.8 593.0,59.2 593.1,60.5 593.8,34.8 594.3,45.7 594.7,29.4 594.9,40.9 595.7,38.7 595.9,65.3 596.4,45.1 596.8,68.4 597.4,55.6 597.7,46.4 598.1,60.2 598.6,57.9 599.1,82.5 599.2,63.7 599.6,52.3 600.2,30.0 600.5,53.9 601.0,69.8 601.5,32.3 601.8,60.8 602.2,54.7 602.8,29.6 603.3,53.0 603.5,68.5 604.2,58.6 604.5,24.1 604.9,42.1 605.5,73.3 605.8,46.7 606.1,64.8 606.8,45.3 607.1,57.9 607.7,62.4 607.8,29.3 608.2,72.7 609.0,48.2 609.1,71.0 609.8,49.3 610.3,69.4 610.8,71.1 610.9,73.3 611.4,66.9 612.1,54.6 612.4,64.6 612.9,64.0 613.1,52.8 613.6,68.9 614.0,50.6 614.4,50.1 614.8,38.8 615.3,44.5 615.9,48.1 616.3,70.2 616.5,38.6 616.9,40.0 617.7,75.4 617.8,39.6 618.2,65.4 618.7,65.7 619.4,32.5 619.9,55.0 620.3,39.3 620.6,35.1 621.0,60.2 621.4,38.2 622.0,40.0 622.2,47.8 622.8,48.3 622.9,48.6 623.4,75.2 623.9,41.6 624.2,57.2 624.9,61.8 625.4,71.7 625.8,46.0 626.3,49.6 626.7,79.1 626.9,73.6 627.6,52.3 628.0,38.5 628.3,71.6 628.8,37.7 629.3,47.7 629.8,43.7 629.9,62.9 630.6,56.3 630.7,58.6 631.5,57.1 632.0,54.5 632.2,50.4 632.5,74.8 633.1,43.4 633.5,36.2 634.0,45.2 634.3,45.9 634.6,78.9 635.4,33.6 635.5,47.2 636.0,59.6 636.6,54.0 636.8,43.5 637.2,41.7 637.6,25.4 638.3,46.9 638.5,31.9 639.0,51.9 639.5,54.6 639.9,69.6 640.2,49.9 641.0,54.4 641.1,29.9 641.5,49.8 642.0,46.7 642.4,30.3 643.0,38.8 643.4,74.9 643.7,52.9 644.1,52.5 644.7,53.0 645.2,51.4 645.5,52.1 645.9,54.6 646.6,53.3" fill="none" stroke="none" marker-start="url(#mC)" marker-mid="url(#mC)" marker-end="url(#mC)"/>
<line x1="517.0" y1="21" x2="517.0" y2="196.125" stroke="#000" stroke-width="1.25"/>
<line x1="516.375" y1="195.5" x2="647.725" y2="195.5" stroke="#000" stroke-width="1.25"/>
<line x1="512.7" y1="195.50" x2="517.0" y2="195.50" stroke="#000" stroke-width="1.25"/>
<text x="511.4" y="197.8" font-size="6.5" font-weight="bold" text-anchor="end">0.0</text>
<line x1="514.4" y1="161.90" x2="517.0" y2="161.90" stroke="#000" stroke-width="1.25"/>
<line x1="512.7" y1="128.30" x2="517.0" y2="128.30" stroke="#000" stroke-width="1.25"/>
<text x="511.4" y="130.6" font-size="6.5" font-weight="bold" text-anchor="end">0.5</text>
<line x1="514.4" y1="94.70" x2="517.0" y2="94.70" stroke="#000" stroke-width="1.25"/>
<line x1="512.7" y1="61.10" x2="517.0" y2="61.10" stroke="#000" stroke-width="1.25"/>
<text x="511.4" y="63.4" font-size="6.5" font-weight="bold" text-anchor="end">1.0</text>
<line x1="514.4" y1="27.50" x2="517.0" y2="27.50" stroke="#000" stroke-width="1.25"/>
<line x1="517.00" y1="195.5" x2="517.00" y2="199.9" stroke="#000" stroke-width="1.25"/>
<text x="517.0" y="207.0" font-size="6.5" font-weight="bold" text-anchor="middle">0</text>
<line x1="538.68" y1="195.5" x2="538.68" y2="198.3" stroke="#000" stroke-width="1.25"/>
<line x1="560.37" y1="195.5" x2="560.37" y2="199.9" stroke="#000" stroke-width="1.25"/>
<text x="560.4" y="207.0" font-size="6.5" font-weight="bold" text-anchor="middle">10</text>
<line x1="582.05" y1="195.5" x2="582.05" y2="198.3" stroke="#000" stroke-width="1.25"/>
<line x1="603.73" y1="195.5" x2="603.73" y2="199.9" stroke="#000" stroke-width="1.25"/>
<text x="603.7" y="207.0" font-size="6.5" font-weight="bold" text-anchor="middle">20</text>
<line x1="625.42" y1="195.5" x2="625.42" y2="198.3" stroke="#000" stroke-width="1.25"/>
<line x1="647.10" y1="195.5" x2="647.10" y2="199.9" stroke="#000" stroke-width="1.25"/>
<text x="647.1" y="207.0" font-size="6.5" font-weight="bold" text-anchor="middle">30</text>
<text x="582.5" y="16.5" font-size="10.6" font-weight="bold" text-anchor="middle">E33A N-M dock</text>
<text transform="translate(493.9 108) rotate(-90)" font-size="9.3" font-weight="bold" text-anchor="middle">Relative fluorescence</text>
<text x="582.0" y="220.0" font-size="9.8" font-weight="bold" text-anchor="middle">min</text>
<polyline points="517.00,61.10 517.54,61.10 518.08,61.10 518.63,61.10 519.17,61.10 519.71,61.10 520.25,61.10 520.79,61.10 521.34,61.10 521.88,61.10 522.42,61.10 522.96,61.10 523.50,61.10 524.05,61.10 524.59,61.10 525.13,61.10 525.67,61.10 526.22,61.10 526.76,61.10 527.30,61.10 527.84,61.10 528.38,61.10 528.93,61.10 529.47,61.10 530.01,61.10 530.55,61.10 531.09,61.10 531.64,61.10 532.18,61.10 532.72,61.10 533.26,61.10 533.80,61.10 534.35,61.10 534.89,61.10 535.43,61.10 535.97,61.10 536.51,61.10 537.06,61.10 537.60,61.10 538.14,61.10 538.68,61.10 539.23,61.10 539.77,61.10 540.31,61.10 540.85,61.10 541.39,61.10 541.94,61.10 542.48,61.10 543.02,61.10 543.56,61.10 544.10,61.10 544.65,61.10 545.19,61.10 545.73,61.10 546.27,61.10 546.81,61.10 547.36,61.10 547.90,61.10 548.44,61.10 548.98,61.10 549.52,61.10 550.07,61.10 550.61,61.10 551.15,61.10 551.69,61.10 552.24,61.10 552.78,61.10 553.32,61.10 553.86,61.10 554.40,61.10 554.95,61.10 555.49,61.10 556.03,61.10 556.57,61.10 557.11,61.10 557.66,61.10 558.20,61.10 558.74,61.10 559.06,61.10 559.07,61.10 559.28,61.10 559.82,61.10 559.93,61.10 559.94,61.10 560.36,61.10 560.37,61.10 560.37,61.12 560.80,65.47 560.80,65.51 560.91,66.56 561.45,71.68 561.99,76.50 562.53,81.02 563.08,85.27 563.62,89.26 564.16,93.01 564.70,96.53 565.25,99.84 565.79,102.95 566.33,105.87 566.87,108.61 567.41,111.19 567.96,113.61 568.50,115.88 569.04,118.02 569.58,120.03 570.12,121.91 570.67,123.68 571.21,125.35 571.75,126.91 572.29,128.38 572.83,129.76 573.38,131.06 573.92,132.27 574.46,133.42 575.00,134.49 575.54,135.50 576.09,136.45 576.63,137.34 577.17,138.18 577.71,138.96 578.26,139.70 578.80,140.39 579.34,141.04 579.88,141.66 580.42,142.23 580.97,142.77 581.51,143.28 582.05,143.76 582.59,144.20 583.13,144.62 583.68,145.02 584.22,145.39 584.76,145.74 585.30,146.07 585.84,146.38 586.39,146.66 586.93,146.94 587.47,147.19 588.01,147.43 588.56,147.66 589.10,147.87 589.64,148.07 590.18,148.25 590.72,148.43 591.27,148.59 591.81,148.75 592.35,148.89 592.89,149.03 593.43,149.16 593.98,149.28 594.52,149.39 595.06,149.50 595.60,149.60 596.14,149.69 596.69,149.78 597.23,149.86 597.77,149.94 598.31,150.01 598.85,150.08 599.40,150.15 599.94,150.21 600.48,150.27 601.02,150.32 601.57,150.37 602.11,150.42 602.65,150.46 603.19,150.50 603.73,150.54 604.28,150.58 604.82,150.61 605.36,150.64 605.90,150.68 606.44,150.70 606.99,150.73 607.53,150.76 608.07,150.78 608.61,150.80 609.15,150.82 609.70,150.84 610.24,150.86 610.78,150.88 611.32,150.90 611.86,150.91 612.41,150.92 612.95,150.94 613.49,150.95 614.03,150.96 614.58,150.97 615.12,150.98 615.66,150.99 616.20,151.00 616.74,151.01 617.29,151.02 617.83,151.03 618.37,151.04 618.91,151.04 619.45,151.05 620.00,151.05 620.54,151.06 621.08,151.07 621.62,151.07 622.16,151.08 622.71,151.08 623.25,151.08 623.79,151.09 624.33,151.09 624.87,151.09 625.42,151.10 625.96,151.10 626.50,151.10 627.04,151.11 627.59,151.11 628.13,151.11 628.67,151.11 629.21,151.12 629.75,151.12 630.30,151.12 630.84,151.12 631.38,151.12 631.92,151.12 632.46,151.13 633.01,151.13 633.55,151.13 634.09,151.13 634.63,151.13 635.17,151.13 635.72,151.13 636.26,151.13 636.80,151.13 637.34,151.14 637.88,151.14 638.43,151.14 638.97,151.14 639.51,151.14 640.05,151.14 640.60,151.14 641.14,151.14 641.68,151.14 642.22,151.14 642.76,151.14 643.31,151.14 643.85,151.14 644.39,151.14 644.93,151.14 645.47,151.14 646.02,151.14 646.56,151.14 647.10,151.14" fill="none" stroke="#000000" stroke-width="2.0" stroke-linejoin="miter"/>
<polyline points="517.00,61.10 517.54,61.10 518.08,61.10 518.63,61.10 519.17,61.10 519.71,61.10 520.25,61.10 520.79,61.10 521.34,61.10 521.88,61.10 522.42,61.10 522.96,61.10 523.50,61.10 524.05,61.10 524.59,61.10 525.13,61.10 525.67,61.10 526.22,61.10 526.76,61.10 527.30,61.10 527.84,61.10 528.38,61.10 528.93,61.10 529.47,61.10 530.01,61.10 530.55,61.10 531.09,61.10 531.64,61.10 532.18,61.10 532.72,61.10 533.26,61.10 533.80,61.10 534.35,61.10 534.89,61.10 535.43,61.10 535.97,61.10 536.51,61.10 537.06,61.10 537.60,61.10 538.14,61.10 538.68,61.10 539.23,61.10 539.77,61.10 540.31,61.10 540.85,61.10 541.39,61.10 541.94,61.10 542.48,61.10 543.02,61.10 543.56,61.10 544.10,61.10 544.65,61.10 545.19,61.10 545.73,61.10 546.27,61.10 546.81,61.10 547.36,61.10 547.90,61.10 548.44,61.10 548.98,61.10 549.52,61.10 550.07,61.10 550.61,61.10 551.15,61.10 551.69,61.10 552.24,61.10 552.78,61.10 553.32,61.10 553.86,61.10 554.40,61.10 554.95,61.10 555.49,61.10 556.03,61.10 556.57,61.10 557.11,61.10 557.66,61.10 558.20,61.10 558.74,61.10 559.06,61.10 559.07,61.10 559.28,61.10 559.82,61.10 559.93,61.10 559.94,61.10 560.36,61.10 560.37,61.10 560.37,61.11 560.80,63.35 560.80,63.37 560.91,63.83 561.45,65.71 561.99,67.00 562.53,67.89 563.08,68.50 563.62,68.92 564.16,69.20 564.70,69.40 565.25,69.54 565.79,69.63 566.33,69.69 566.87,69.74 567.41,69.77 567.96,69.79 568.50,69.80 569.04,69.81 569.58,69.82 570.12,69.83 570.67,69.83 571.21,69.83 571.75,69.83 572.29,69.83 572.83,69.83 573.38,69.83 573.92,69.84 574.46,69.84 575.00,69.84 575.54,69.84 576.09,69.84 576.63,69.84 577.17,69.84 577.71,69.84 578.26,69.84 578.80,69.84 579.34,69.84 579.88,69.84 580.42,69.84 580.97,69.84 581.51,69.84 582.05,69.84 582.59,69.84 583.13,69.84 583.68,69.84 584.22,69.84 584.76,69.84 585.30,69.84 585.84,69.84 586.39,69.84 586.93,69.84 587.47,69.84 588.01,69.84 588.56,69.84 589.10,69.84 589.64,69.84 590.18,69.84 590.72,69.84 591.27,69.84 591.81,69.84 592.35,69.84 592.89,69.84 593.43,69.84 593.98,69.84 594.52,69.84 595.06,69.84 595.60,69.84 596.14,69.84 596.69,69.84 597.23,69.84 597.77,69.84 598.31,69.84 598.85,69.84 599.40,69.84 599.94,69.84 600.48,69.84 601.02,69.84 601.57,69.84 602.11,69.84 602.65,69.84 603.19,69.84 603.73,69.84 604.28,69.84 604.82,69.84 605.36,69.84 605.90,69.84 606.44,69.84 606.99,69.84 607.53,69.84 608.07,69.84 608.61,69.84 609.15,69.84 609.70,69.84 610.24,69.84 610.78,69.84 611.32,69.84 611.86,69.84 612.41,69.84 612.95,69.84 613.49,69.84 614.03,69.84 614.58,69.84 615.12,69.84 615.66,69.84 616.20,69.84 616.74,69.84 617.29,69.84 617.83,69.84 618.37,69.84 618.91,69.84 619.45,69.84 620.00,69.84 620.54,69.84 621.08,69.84 621.62,69.84 622.16,69.84 622.71,69.84 623.25,69.84 623.79,69.84 624.33,69.84 624.87,69.84 625.42,69.84 625.96,69.84 626.50,69.84 627.04,69.84 627.59,69.84 628.13,69.84 628.67,69.84 629.21,69.84 629.75,69.84 630.30,69.84 630.84,69.84 631.38,69.84 631.92,69.84 632.46,69.84 633.01,69.84 633.55,69.84 634.09,69.84 634.63,69.84 635.17,69.84 635.72,69.84 636.26,69.84 636.80,69.84 637.34,69.84 637.88,69.84 638.43,69.84 638.97,69.84 639.51,69.84 640.05,69.84 640.60,69.84 641.14,69.84 641.68,69.84 642.22,69.84 642.76,69.84 643.31,69.84 643.85,69.84 644.39,69.84 644.93,69.84 645.47,69.84 646.02,69.84 646.56,69.84 647.10,69.84" fill="none" stroke="#1f3cff" stroke-width="2.1" stroke-linejoin="miter"/>
<polyline points="517.00,55.05 517.54,55.05 518.08,55.05 518.63,55.05 519.17,55.05 519.71,55.05 520.25,55.05 520.79,55.05 521.34,55.05 521.88,55.05 522.42,55.05 522.96,55.05 523.50,55.05 524.05,55.05 524.59,55.05 525.13,55.05 525.67,55.05 526.22,55.05 526.76,55.05 527.30,55.05 527.84,55.05 528.38,55.05 528.93,55.05 529.47,55.05 530.01,55.05 530.55,55.05 531.09,55.05 531.64,55.05 532.18,55.05 532.72,55.05 533.26,55.05 533.80,55.05 534.35,55.05 534.89,55.05 535.43,55.05 535.97,55.05 536.51,55.05 537.06,55.05 537.60,55.05 538.14,55.05 538.68,55.05 539.23,55.05 539.77,55.05 540.31,55.05 540.85,55.05 541.39,55.05 541.94,55.05 542.48,55.05 543.02,55.05 543.56,55.05 544.10,55.05 544.65,55.05 545.19,55.05 545.73,55.05 546.27,55.05 546.81,55.05 547.36,55.05 547.90,55.05 548.44,55.05 548.98,55.05 549.52,55.05 550.07,55.05 550.61,55.05 551.15,55.05 551.69,55.05 552.24,55.05 552.78,55.05 553.32,55.05 553.86,55.05 554.40,55.05 554.95,55.05 555.49,55.05 556.03,55.05 556.57,55.05 557.11,55.05 557.66,55.05 558.20,55.05 558.74,55.05 559.06,55.05 559.07,55.05 559.28,55.05 559.82,55.05 559.93,55.05 559.94,55.05 560.36,55.05 560.37,55.05 560.37,55.05 560.80,55.05 560.80,55.05 560.91,55.05 561.45,55.05 561.99,55.05 562.53,55.05 563.08,55.05 563.62,55.05 564.16,55.05 564.70,55.05 565.25,55.05 565.79,55.05 566.33,55.05 566.87,55.05 567.41,55.05 567.96,55.05 568.50,55.05 569.04,55.05 569.58,55.05 570.12,55.05 570.67,55.05 571.21,55.05 571.75,55.05 572.29,55.05 572.83,55.05 573.38,55.05 573.92,55.05 574.46,55.05 575.00,55.05 575.54,55.05 576.09,55.05 576.63,55.05 577.17,55.05 577.71,55.05 578.26,55.05 578.80,55.05 579.34,55.05 579.88,55.05 580.42,55.05 580.97,55.05 581.51,55.05 582.05,55.05 582.59,55.05 583.13,55.05 583.68,55.05 584.22,55.05 584.76,55.05 585.30,55.05 585.84,55.05 586.39,55.05 586.93,55.05 587.47,55.05 588.01,55.05 588.56,55.05 589.10,55.05 589.64,55.05 590.18,55.05 590.72,55.05 591.27,55.05 591.81,55.05 592.35,55.05 592.89,55.05 593.43,55.05 593.98,55.05 594.52,55.05 595.06,55.05 595.60,55.05 596.14,55.05 596.69,55.05 597.23,55.05 597.77,55.05 598.31,55.05 598.85,55.05 599.40,55.05 599.94,55.05 600.48,55.05 601.02,55.05 601.57,55.05 602.11,55.05 602.65,55.05 603.19,55.05 603.73,55.05 604.28,55.05 604.82,55.05 605.36,55.05 605.90,55.05 606.44,55.05 606.99,55.05 607.53,55.05 608.07,55.05 608.61,55.05 609.15,55.05 609.70,55.05 610.24,55.05 610.78,55.05 611.32,55.05 611.86,55.05 612.41,55.05 612.95,55.05 613.49,55.05 614.03,55.05 614.58,55.05 615.12,55.05 615.66,55.05 616.20,55.05 616.74,55.05 617.29,55.05 617.83,55.05 618.37,55.05 618.91,55.05 619.45,55.05 620.00,55.05 620.54,55.05 621.08,55.05 621.62,55.05 622.16,55.05 622.71,55.05 623.25,55.05 623.79,55.05 624.33,55.05 624.87,55.05 625.42,55.05 625.96,55.05 626.50,55.05 627.04,55.05 627.59,55.05 628.13,55.05 628.67,55.05 629.21,55.05 629.75,55.05 630.30,55.05 630.84,55.05 631.38,55.05 631.92,55.05 632.46,55.05 633.01,55.05 633.55,55.05 634.09,55.05 634.63,55.05 635.17,55.05 635.72,55.05 636.26,55.05 636.80,55.05 637.34,55.05 637.88,55.05 638.43,55.05 638.97,55.05 639.51,55.05 640.05,55.05 640.60,55.05 641.14,55.05 641.68,55.05 642.22,55.05 642.76,55.05 643.31,55.05 643.85,55.05 644.39,55.05 644.93,55.05 645.47,55.05 646.02,55.05 646.56,55.05 647.10,55.05" fill="none" stroke="#ff2a1a" stroke-width="2.1" stroke-linejoin="miter"/>
<text x="649.5" y="58.4" font-size="8.7" style="fill:#ff2a1a;stroke:#ff2a1a;stroke-width:0.38">AMPPNP</text>
<text x="649.5" y="74" font-size="8.7" style="fill:#1f3cff;stroke:#1f3cff;stroke-width:0.38">ATPγS</text>
<text x="649.5" y="154" font-size="8.7" style="stroke:#000;stroke-width:0.3">ATP</text>
<polyline points="50.7,477.2 51.4,478.3 51.6,479.2 52.3,480.1 52.5,485.7 52.9,499.6 53.5,494.7 54.2,481.5 54.2,461.1 54.8,481.8 55.1,489.5 55.9,476.4 56.0,482.1 56.6,471.7 57.2,479.8 57.3,492.8 58.0,482.3 58.4,485.0 58.9,488.9 59.3,490.6 59.7,479.8 59.9,471.3 60.3,489.5 60.9,477.0 61.4,471.6 62.0,506.8 62.4,482.7 62.5,493.2 63.1,499.3 63.3,489.1 63.8,472.8 64.5,491.3 64.6,502.6 65.3,471.7 65.9,481.2 66.3,474.3 66.5,481.7 66.8,497.4 67.3,479.8 67.7,485.4 68.2,489.3 68.7,504.1 69.2,482.9 69.5,492.7 70.1,486.7 70.3,486.9 70.7,487.2 71.5,500.1 71.9,485.3 72.4,467.7 72.6,475.1 73.0,484.1 73.4,479.8 74.1,483.4 74.2,490.0 74.7,489.3 75.4,486.7 75.7,478.7 76.2,504.6 76.5,487.9 77.0,487.1 77.5,495.8 77.8,481.4 78.4,481.0 78.8,470.4 79.2,490.2 79.5,481.8 80.0,488.9 80.3,491.1 80.9,478.9 81.4,492.1 81.9,486.8 82.3,483.6 82.7,487.1 83.2,485.2 83.6,478.0 83.9,499.9 84.3,474.0 84.7,482.8 85.3,475.8 85.6,484.3 86.0,488.5 86.6,496.6 87.2,483.3 87.3,483.7 87.8,482.4 88.2,485.9 88.5,484.6 89.1,484.4 89.8,493.3 90.1,499.2 90.3,474.9 90.9,477.6 91.3,495.1 91.6,490.6 92.1,487.7 92.7,470.8 93.1,490.3 93.7,488.4 94.0,475.5 94.4,483.0 94.9,474.6 95.1,485.7 95.9,487.9 96.2,497.7 96.7,459.0 96.8,484.7 97.6,473.1 97.7,476.5 98.1,482.2 98.7,495.4 99.0,487.4 99.4,481.3 100.0,495.1 100.4,493.3 101.0,504.7 101.4,488.1 101.6,479.6 102.3,472.6 102.8,480.2 103.0,492.9 103.7,478.1 104.0,483.3 104.5,487.2 104.8,499.9 105.3,474.0 105.8,486.4 106.1,506.9 106.6,482.4 106.8,495.6 107.4,470.7 107.7,499.6 108.2,483.6 108.9,475.7 109.1,487.9 109.6,477.4 110.1,488.4 110.3,479.4 110.8,479.7 111.4,488.2 111.6,483.0 112.3,492.5 112.6,480.9 113.2,482.7 113.5,494.2 114.0,484.0 114.4,472.2 114.7,479.6 115.4,501.4 115.5,490.1 116.2,499.9 116.7,497.4 117.0,499.2 117.3,494.2 117.9,481.7 118.3,498.0 118.9,477.1 119.0,486.0 119.6,468.9 120.0,463.4 120.5,476.5 120.7,503.4 121.3,480.1 121.6,474.7 122.3,491.0 122.8,476.9 123.2,490.9 123.6,474.6 123.8,471.8 124.2,469.8 124.9,485.8 125.2,498.3 125.8,483.9 126.3,488.6 126.6,486.3 126.8,478.9 127.5,479.4 127.7,492.4 128.1,492.1 128.5,480.5 129.0,483.2 129.5,488.1 130.0,483.4 130.3,482.5 130.7,465.0 131.4,488.0 131.9,488.3 132.3,478.0 132.7,476.4 133.0,489.2 133.6,480.3 133.8,488.9 134.1,506.1 134.8,493.2 135.1,490.1 135.5,498.4 136.3,491.1 136.5,494.7 136.8,494.2 137.3,482.9 137.9,498.0 138.5,506.1 138.7,486.9 139.1,494.4 139.6,481.9 140.0,485.2 140.4,476.5 140.9,508.1 141.1,495.9 141.8,492.3 142.3,497.2 142.7,481.9 142.8,483.9 143.7,469.5 144.1,490.2 144.2,458.4 144.8,477.4 145.2,473.3 145.7,479.7 146.2,486.2 146.6,485.2 147.1,482.1 147.5,488.1 148.0,488.1 148.2,497.4 148.7,482.0 149.3,499.7 149.7,481.7 150.2,480.4 150.6,476.8 150.9,499.3 151.1,469.9 151.6,471.2 152.2,478.5 152.5,492.0 153.1,482.0 153.6,499.8 153.7,471.1 154.4,481.9 154.8,480.7 155.0,480.0 155.6,482.4 156.2,486.1 156.6,479.8 157.1,481.6 157.2,484.9 157.8,472.3 158.4,485.5 158.6,499.9 159.0,482.0 159.6,476.4 160.1,501.3 160.6,471.1 160.7,485.2 161.2,463.6 161.8,477.0 162.2,474.0 162.5,495.9 163.1,478.1 163.4,481.0 164.0,492.1 164.3,496.5 164.7,487.2 165.1,482.7 165.8,481.8 166.1,491.8 166.6,481.9 167.0,475.8 167.2,483.2 168.0,485.9 168.3,491.5 168.8,479.8 169.2,482.6 169.4,476.3 170.0,492.6 170.5,480.7 170.7,473.5 171.5,470.8 171.9,499.8 172.3,490.6 172.4,487.7 173.1,475.8 173.4,484.1 174.1,492.6 174.3,496.8 174.9,492.4 175.2,482.2 175.7,474.3 175.9,480.7 176.7,492.4 176.9,469.4 177.3,489.7 177.9,480.6 178.3,484.8 178.6,497.9 179.1,476.1 179.6,485.8 179.8,503.9 180.6,485.1 180.7,492.0" fill="none" stroke="none" marker-start="url(#mT)" marker-mid="url(#mT)" marker-end="url(#mT)"/>
<polyline points="50.7,485.8 51.5,480.0 51.8,488.0 52.2,491.0 52.8,507.7 53.3,489.8 53.5,472.1 53.8,486.6 54.2,488.6 55.0,503.0 55.5,485.1 55.5,482.8 56.3,482.1 56.4,482.6 56.8,477.9 57.3,483.8 57.8,480.8 58.4,487.7 58.8,495.7 59.3,490.0 59.6,484.1 59.9,477.3 60.4,475.7 60.7,485.5 61.3,481.0 61.9,493.2 62.0,472.6 62.5,479.4 63.0,488.5 63.3,480.3 63.7,471.2 64.6,487.7 64.8,467.0 65.3,488.5 65.7,489.7 66.1,483.7 66.7,477.5 67.0,467.1 67.5,477.5 67.7,494.2 68.2,480.7 68.9,482.6 69.2,467.6 69.5,485.4 70.2,473.7 70.3,486.7 70.8,477.9 71.2,474.8 71.9,475.8 72.3,482.4 72.7,500.5 73.0,479.4 73.7,459.2 73.8,476.4 74.2,470.9 74.9,490.5 75.4,483.9 75.6,477.8 76.3,474.3 76.5,481.3 77.0,479.7 77.6,480.8 77.8,484.6 78.1,481.5 78.9,503.2 79.3,480.2 79.7,469.3 80.2,474.3 80.5,474.4 81.1,477.1 81.5,479.0 81.9,471.4 82.2,469.1 82.7,455.7 83.0,468.4 83.6,477.2 83.8,466.6 84.6,471.1 84.8,490.6 85.3,476.1 85.5,479.0 86.0,472.2 86.4,482.9 87.1,474.2 87.3,462.6 87.8,481.7 88.1,487.0 88.7,482.4 89.0,492.6 89.6,481.0 89.9,471.6 90.7,481.5 91.0,468.6 91.2,478.0 91.9,481.3 92.4,476.3 92.8,486.9 92.9,485.2 93.7,481.5 93.9,468.0 94.4,459.7 94.8,476.0 95.2,467.0 95.8,491.4 96.3,480.5 96.5,474.8 97.0,474.8 97.5,491.9 97.9,483.8 98.1,488.0 98.7,478.6 99.2,474.8 99.7,480.7 100.1,465.4 100.5,468.7 100.7,487.8 101.4,483.3 101.8,470.7 102.1,492.5 102.4,492.9 103.2,480.4 103.6,486.7 103.7,462.0 104.4,452.4 104.7,471.6 105.3,471.2 105.9,473.2 106.1,466.7 106.6,474.0 107.1,479.7 107.5,478.6 108.0,473.7 108.4,480.8 108.7,474.2 109.2,483.8 109.4,471.1 109.9,475.6 110.3,463.6 110.8,483.9 111.2,476.8 111.9,477.0 112.0,466.9 112.6,481.1 112.9,487.1 113.3,479.5 113.8,469.2 114.3,481.3 114.9,478.3 115.4,480.9 115.8,487.2 116.3,457.7 116.6,484.8 117.2,477.5 117.2,485.8 117.8,480.1 118.2,484.7 118.5,471.5 119.3,476.4 119.4,472.9 120.2,471.0 120.3,475.4 120.8,477.3 121.1,479.6 121.6,480.8 122.0,478.6 122.5,474.4 122.9,476.8 123.4,465.8 123.8,460.6 124.5,476.8 125.0,480.4 125.2,487.1 125.5,486.6 126.3,474.8 126.4,482.5 127.0,491.5 127.4,473.3 127.8,476.8 128.3,463.2 128.6,481.7 129.0,477.9 129.7,479.4 129.8,491.8 130.3,487.9 130.7,487.5 131.1,488.4 131.7,474.0 132.1,492.6 132.4,486.1 133.0,485.4 133.5,486.7 133.9,483.1 134.4,476.0 134.6,493.4 135.3,477.7 135.5,469.0 136.0,485.8 136.4,472.4 136.9,486.4 137.4,475.8 137.6,495.8 138.4,484.9 138.7,475.2 139.0,486.1 139.6,477.8 140.1,471.1 140.4,475.3 141.0,472.7 141.4,466.6 141.6,486.6 142.3,464.8 142.8,490.3 142.9,478.1 143.6,472.7 144.0,483.5 144.3,480.2 144.9,460.1 145.3,474.4 145.8,468.1 146.0,481.4 146.5,490.0 146.9,477.2 147.3,492.4 147.6,479.2 148.4,484.2 148.7,486.4 149.3,485.1 149.4,474.8 149.9,471.9 150.5,475.6 150.8,469.8 151.4,483.3 151.6,461.2 152.3,480.5 152.7,483.1 153.2,478.7 153.7,492.4 154.0,474.1 154.5,467.5 154.6,485.0 155.2,484.1 155.7,479.7 156.0,471.1 156.6,473.8 157.0,482.2 157.5,469.9 158.0,473.6 158.2,474.5 158.6,475.0 159.0,471.4 159.4,486.5 160.0,473.9 160.6,468.8 160.8,481.8 161.3,489.1 161.9,474.0 162.3,462.2 162.7,479.4 163.2,479.3 163.5,492.5 164.1,486.6 164.4,479.8 164.6,475.6 165.1,488.4 165.7,481.1 166.0,489.7 166.5,469.2 166.7,477.4 167.4,472.5 167.9,475.1 168.3,477.7 168.9,476.0 169.1,468.1 169.7,474.3 170.0,480.7 170.4,467.9 171.0,476.4 171.3,483.8 171.9,476.7 172.2,473.5 172.7,487.8 173.1,473.1 173.5,471.6 173.7,473.5 174.2,467.7 174.9,484.4 175.2,477.3 175.8,474.5 176.2,478.8 176.6,484.2 177.1,481.7 177.6,468.5 177.7,486.8 178.3,490.5 178.9,483.3 179.0,478.1 179.5,486.6 180.1,478.5 180.5,474.5 180.7,489.3" fill="none" stroke="none" marker-start="url(#mS)" marker-mid="url(#mS)" marker-end="url(#mS)"/>
<polyline points="50.9,498.3 51.3,499.2 51.9,472.4 52.1,499.2 52.7,494.5 53.3,493.6 53.5,506.3 54.0,479.4 54.3,490.1 54.6,476.8 55.3,486.9 55.8,495.1 56.3,498.2 56.4,490.3 56.8,478.5 57.3,486.4 58.0,485.2 58.2,489.7 58.6,485.2 59.2,483.9 59.5,489.2 59.9,481.2 60.3,474.4 60.9,494.7 61.2,481.7 61.7,480.6 62.0,484.9 62.5,478.0 63.2,493.2 63.5,481.0 64.0,481.8 64.2,490.7 64.8,494.2 65.1,472.6 65.9,472.0 66.1,481.7 66.5,472.2 66.8,491.3 67.4,484.1 67.7,483.7 68.3,483.3 68.7,491.6 69.2,483.0 69.8,463.8 70.0,472.8 70.6,480.2 70.8,476.9 71.4,477.7 71.8,483.7 72.3,468.9 72.8,476.1 73.2,488.7 73.7,470.5 74.0,491.0 74.4,473.0 74.9,489.9 75.1,474.2 75.7,476.0 76.2,477.9 76.8,474.1 76.8,466.0 77.5,486.0 78.1,479.5 78.5,479.9 78.7,465.0 79.0,486.8 79.4,463.6 80.2,476.4 80.3,472.0 81.0,472.7 81.4,462.6 81.9,494.9 82.4,476.8 82.8,477.5 83.1,479.6 83.4,473.4 83.9,486.8 84.2,476.9 84.6,475.7 85.1,472.5 85.6,466.0 86.1,465.3 86.5,480.8 86.8,481.7 87.2,481.1 87.7,469.7 88.2,476.2 88.7,477.7 89.1,479.6 89.5,463.0 89.8,463.7 90.4,456.4 90.7,464.4 91.5,479.0 91.7,475.8 92.1,479.1 92.8,492.1 93.0,478.3 93.7,466.0 93.8,471.0 94.2,469.9 94.9,483.0 95.1,479.1 95.7,495.7 96.0,487.3 96.7,495.4 97.0,480.0 97.5,474.4 97.7,476.3 98.1,474.5 98.7,482.1 99.1,476.0 99.7,472.9 100.0,474.1 100.6,466.9 100.7,482.4 101.5,458.0 101.8,477.6 102.1,489.9 102.8,484.8 103.1,484.3 103.5,477.1 104.0,478.7 104.5,467.3 104.7,476.9 105.4,469.3 105.6,467.4 106.3,494.5 106.7,473.5 107.1,467.8 107.3,490.9 108.0,487.3 108.2,475.1 108.6,475.3 109.2,479.8 109.6,460.8 110.1,473.1 110.5,483.7 110.8,477.8 111.4,472.6 111.9,463.1 112.0,474.1 112.6,484.4 113.0,459.5 113.5,480.9 113.8,471.5 114.2,465.8 114.9,475.8 115.3,478.3 115.5,450.7 116.1,479.5 116.7,472.0 117.1,473.1 117.5,472.7 117.8,479.1 118.2,469.8 118.7,481.2 119.0,465.9 119.6,483.4 120.2,480.6 120.6,481.7 120.7,484.3 121.4,478.0 121.8,471.7 122.1,486.2 122.4,488.1 123.1,473.9 123.6,469.4 124.1,482.5 124.3,463.3 125.0,470.8 125.0,465.3 125.7,477.6 126.2,496.0 126.5,486.7 127.0,469.5 127.4,480.0 128.0,490.8 128.3,466.5 128.6,486.8 129.3,487.6 129.7,464.5 130.2,465.4 130.4,483.9 130.8,488.6 131.2,490.9 131.6,475.9 132.0,495.9 132.5,468.3 133.2,469.6 133.4,476.1 133.8,479.4 134.4,476.2 134.9,486.9 135.2,484.4 135.4,469.4 136.0,484.3 136.4,466.5 136.8,464.1 137.4,477.5 137.9,480.3 138.3,492.5 138.7,469.2 139.1,471.5 139.5,488.8 139.9,463.1 140.3,479.4 140.7,472.2 141.5,478.7 141.8,477.3 142.0,497.7 142.8,474.5 143.0,474.7 143.3,486.7 143.9,471.1 144.4,490.8 145.0,486.7 145.4,467.5 145.8,464.6 146.0,489.6 146.5,480.0 146.9,479.7 147.3,475.2 147.9,471.4 148.2,462.1 148.9,471.3 149.0,478.2 149.4,480.1 149.8,483.8 150.6,485.4 150.9,476.2 151.3,494.5 151.6,467.8 152.3,462.1 152.7,461.6 153.0,481.5 153.3,494.2 154.1,468.1 154.1,467.3 155.0,476.3 155.4,475.0 155.5,479.6 156.2,483.9 156.7,473.9 156.7,494.8 157.5,475.2 158.0,478.3 158.5,465.7 158.5,501.1 159.0,465.3 159.7,476.8 160.2,483.5 160.5,458.9 161.0,457.2 161.3,461.7 161.8,474.0 162.3,468.0 162.7,472.0 163.1,473.1 163.4,469.8 163.9,456.5 164.1,478.1 164.8,465.4 165.2,463.5 165.8,459.6 165.9,487.8 166.3,475.3 167.1,486.4 167.4,489.0 167.8,469.5 168.2,487.2 168.5,468.9 169.1,488.4 169.7,483.2 169.9,463.5 170.4,480.0 170.9,485.0 171.1,467.1 171.9,477.6 172.0,475.7 172.5,478.1 173.0,460.1 173.6,478.2 174.1,468.8 174.5,472.8 174.6,478.4 175.3,478.9 175.5,473.2 176.0,481.5 176.7,464.8 176.8,473.6 177.5,488.0 178.0,472.7 178.3,479.1 178.8,478.4 179.2,475.2 179.6,475.8 180.1,491.4 180.2,456.4 180.8,484.6" fill="none" stroke="none" marker-start="url(#mC)" marker-mid="url(#mC)" marker-end="url(#mC)"/>
<line x1="50.7" y1="447.5" x2="50.7" y2="622.525" stroke="#000" stroke-width="1.25"/>
<line x1="50.075" y1="621.9" x2="182.125" y2="621.9" stroke="#000" stroke-width="1.25"/>
<line x1="46.400000000000006" y1="621.90" x2="50.7" y2="621.90" stroke="#000" stroke-width="1.25"/>
<text x="44.8" y="624.2" font-size="6.5" font-weight="bold" text-anchor="end">0.0</text>
<line x1="48.1" y1="588.30" x2="50.7" y2="588.30" stroke="#000" stroke-width="1.25"/>
<line x1="46.400000000000006" y1="554.70" x2="50.7" y2="554.70" stroke="#000" stroke-width="1.25"/>
<text x="44.8" y="557.0" font-size="6.5" font-weight="bold" text-anchor="end">0.5</text>
<line x1="48.1" y1="521.10" x2="50.7" y2="521.10" stroke="#000" stroke-width="1.25"/>
<line x1="46.400000000000006" y1="487.50" x2="50.7" y2="487.50" stroke="#000" stroke-width="1.25"/>
<text x="44.8" y="489.8" font-size="6.5" font-weight="bold" text-anchor="end">1.0</text>
<line x1="48.1" y1="453.90" x2="50.7" y2="453.90" stroke="#000" stroke-width="1.25"/>
<line x1="50.70" y1="621.9" x2="50.70" y2="626.3" stroke="#000" stroke-width="1.25"/>
<text x="50.7" y="633.4" font-size="6.5" font-weight="bold" text-anchor="middle">0</text>
<line x1="72.50" y1="621.9" x2="72.50" y2="624.6999999999999" stroke="#000" stroke-width="1.25"/>
<line x1="94.30" y1="621.9" x2="94.30" y2="626.3" stroke="#000" stroke-width="1.25"/>
<text x="94.3" y="633.4" font-size="6.5" font-weight="bold" text-anchor="middle">10</text>
<line x1="116.10" y1="621.9" x2="116.10" y2="624.6999999999999" stroke="#000" stroke-width="1.25"/>
<line x1="137.90" y1="621.9" x2="137.90" y2="626.3" stroke="#000" stroke-width="1.25"/>
<text x="137.9" y="633.4" font-size="6.5" font-weight="bold" text-anchor="middle">20</text>
<line x1="159.70" y1="621.9" x2="159.70" y2="624.6999999999999" stroke="#000" stroke-width="1.25"/>
<line x1="181.50" y1="621.9" x2="181.50" y2="626.3" stroke="#000" stroke-width="1.25"/>
<text x="181.5" y="633.4" font-size="6.5" font-weight="bold" text-anchor="middle">30</text>
<text x="115.9" y="446.6" font-size="11.8" font-weight="bold" text-anchor="middle">R380A N-M dock</text>
<text transform="translate(28.6 534.5) rotate(-90)" font-size="9.3" font-weight="bold" text-anchor="middle">Relative fluorescence</text>
<text x="116.1" y="646.2" font-size="9.8" font-weight="bold" text-anchor="middle">min</text>
<polyline points="50.70,481.32 51.25,481.32 51.79,481.32 52.34,481.32 52.88,481.32 53.43,481.32 53.97,481.32 54.52,481.32 55.06,481.32 55.61,481.32 56.15,481.32 56.70,481.32 57.24,481.32 57.79,481.32 58.33,481.32 58.88,481.32 59.42,481.32 59.97,481.32 60.51,481.32 61.06,481.32 61.60,481.32 62.15,481.32 62.69,481.32 63.23,481.32 63.78,481.32 64.33,481.32 64.87,481.32 65.42,481.32 65.96,481.32 66.51,481.32 67.05,481.32 67.59,481.32 68.14,481.32 68.69,481.32 69.23,481.32 69.78,481.32 70.32,481.32 70.87,481.32 71.41,481.32 71.96,481.32 72.50,481.32 73.05,481.32 73.59,481.32 74.14,481.32 74.68,481.32 75.23,481.32 75.77,481.32 76.31,481.32 76.86,481.32 77.41,481.32 77.95,481.32 78.50,481.32 79.04,481.32 79.59,481.32 80.13,481.32 80.68,481.32 81.22,481.32 81.77,481.32 82.31,481.32 82.86,481.32 83.40,481.32 83.95,481.32 84.49,481.32 85.04,481.32 85.58,481.32 86.12,481.32 86.67,481.32 87.22,481.32 87.76,481.32 88.31,481.32 88.85,481.32 89.40,481.32 89.94,481.32 90.49,481.32 91.03,481.32 91.58,481.32 92.12,481.32 92.67,481.32 92.99,481.32 92.99,481.32 93.21,481.32 93.75,481.32 93.86,481.32 93.87,481.32 94.30,481.32 94.30,481.32 94.30,481.32 94.73,481.32 94.74,481.32 94.84,481.32 95.39,481.32 95.94,481.32 96.48,481.32 97.03,481.32 97.57,481.32 98.12,481.32 98.66,481.32 99.21,481.32 99.75,481.32 100.30,481.32 100.84,481.32 101.39,481.32 101.93,481.32 102.48,481.32 103.02,481.32 103.56,481.32 104.11,481.32 104.66,481.32 105.20,481.32 105.75,481.32 106.29,481.32 106.84,481.32 107.38,481.32 107.93,481.32 108.47,481.32 109.02,481.32 109.56,481.32 110.11,481.32 110.65,481.32 111.20,481.32 111.74,481.32 112.29,481.32 112.83,481.32 113.38,481.32 113.92,481.32 114.47,481.32 115.01,481.32 115.56,481.32 116.10,481.32 116.65,481.32 117.19,481.32 117.74,481.32 118.28,481.32 118.83,481.32 119.37,481.32 119.92,481.32 120.46,481.32 121.01,481.32 121.55,481.32 122.10,481.32 122.64,481.32 123.19,481.32 123.73,481.32 124.28,481.32 124.82,481.32 125.37,481.32 125.91,481.32 126.46,481.32 127.00,481.32 127.55,481.32 128.09,481.32 128.63,481.32 129.18,481.32 129.73,481.32 130.27,481.32 130.81,481.32 131.36,481.32 131.91,481.32 132.45,481.32 133.00,481.32 133.54,481.32 134.09,481.32 134.63,481.32 135.18,481.32 135.72,481.32 136.27,481.32 136.81,481.32 137.36,481.32 137.90,481.32 138.45,481.32 138.99,481.32 139.54,481.32 140.08,481.32 140.62,481.32 141.17,481.32 141.72,481.32 142.26,481.32 142.81,481.32 143.35,481.32 143.90,481.32 144.44,481.32 144.99,481.32 145.53,481.32 146.08,481.32 146.62,481.32 147.17,481.32 147.71,481.32 148.25,481.32 148.80,481.32 149.35,481.32 149.89,481.32 150.44,481.32 150.98,481.32 151.53,481.32 152.07,481.32 152.62,481.32 153.16,481.32 153.71,481.32 154.25,481.32 154.80,481.32 155.34,481.32 155.88,481.32 156.43,481.32 156.98,481.32 157.52,481.32 158.06,481.32 158.61,481.32 159.16,481.32 159.70,481.32 160.25,481.32 160.79,481.32 161.34,481.32 161.88,481.32 162.43,481.32 162.97,481.32 163.52,481.32 164.06,481.32 164.61,481.32 165.15,481.32 165.70,481.32 166.24,481.32 166.79,481.32 167.33,481.32 167.88,481.32 168.42,481.32 168.97,481.32 169.51,481.32 170.06,481.32 170.60,481.32 171.15,481.32 171.69,481.32 172.24,481.32 172.78,481.32 173.33,481.32 173.87,481.32 174.42,481.32 174.96,481.32 175.51,481.32 176.05,481.32 176.60,481.32 177.14,481.32 177.69,481.32 178.23,481.32 178.78,481.32 179.32,481.32 179.87,481.32 180.41,481.32 180.96,481.32 181.50,481.32" fill="none" stroke="#1f3cff" stroke-width="2.1" stroke-linejoin="miter"/>
<polyline points="50.70,481.72 51.25,481.72 51.79,481.72 52.34,481.72 52.88,481.72 53.43,481.72 53.97,481.72 54.52,481.72 55.06,481.72 55.61,481.72 56.15,481.72 56.70,481.72 57.24,481.72 57.79,481.72 58.33,481.72 58.88,481.72 59.42,481.72 59.97,481.72 60.51,481.72 61.06,481.72 61.60,481.72 62.15,481.72 62.69,481.72 63.23,481.72 63.78,481.72 64.33,481.72 64.87,481.72 65.42,481.72 65.96,481.72 66.51,481.72 67.05,481.72 67.59,481.72 68.14,481.72 68.69,481.72 69.23,481.72 69.78,481.72 70.32,481.72 70.87,481.72 71.41,481.72 71.96,481.72 72.50,481.72 73.05,481.72 73.59,481.72 74.14,481.72 74.68,481.72 75.23,481.72 75.77,481.72 76.31,481.72 76.86,481.72 77.41,481.72 77.95,481.72 78.50,481.72 79.04,481.72 79.59,481.72 80.13,481.72 80.68,481.72 81.22,481.72 81.77,481.72 82.31,481.72 82.86,481.72 83.40,481.72 83.95,481.72 84.49,481.72 85.04,481.72 85.58,481.72 86.12,481.72 86.67,481.72 87.22,481.72 87.76,481.72 88.31,481.72 88.85,481.72 89.40,481.72 89.94,481.72 90.49,481.72 91.03,481.72 91.58,481.72 92.12,481.72 92.67,481.72 92.99,481.72 92.99,481.72 93.21,481.72 93.75,481.72 93.86,481.72 93.87,481.72 94.30,481.72 94.30,481.72 94.30,481.72 94.73,481.72 94.74,481.72 94.84,481.72 95.39,481.72 95.94,481.72 96.48,481.72 97.03,481.72 97.57,481.72 98.12,481.72 98.66,481.72 99.21,481.72 99.75,481.72 100.30,481.72 100.84,481.72 101.39,481.72 101.93,481.72 102.48,481.72 103.02,481.72 103.56,481.72 104.11,481.72 104.66,481.72 105.20,481.72 105.75,481.72 106.29,481.72 106.84,481.72 107.38,481.72 107.93,481.72 108.47,481.72 109.02,481.72 109.56,481.72 110.11,481.72 110.65,481.72 111.20,481.72 111.74,481.72 112.29,481.72 112.83,481.72 113.38,481.72 113.92,481.72 114.47,481.72 115.01,481.72 115.56,481.72 116.10,481.72 116.65,481.72 117.19,481.72 117.74,481.72 118.28,481.72 118.83,481.72 119.37,481.72 119.92,481.72 120.46,481.72 121.01,481.72 121.55,481.72 122.10,481.72 122.64,481.72 123.19,481.72 123.73,481.72 124.28,481.72 124.82,481.72 125.37,481.72 125.91,481.72 126.46,481.72 127.00,481.72 127.55,481.72 128.09,481.72 128.63,481.72 129.18,481.72 129.73,481.72 130.27,481.72 130.81,481.72 131.36,481.72 131.91,481.72 132.45,481.72 133.00,481.72 133.54,481.72 134.09,481.72 134.63,481.72 135.18,481.72 135.72,481.72 136.27,481.72 136.81,481.72 137.36,481.72 137.90,481.72 138.45,481.72 138.99,481.72 139.54,481.72 140.08,481.72 140.62,481.72 141.17,481.72 141.72,481.72 142.26,481.72 142.81,481.72 143.35,481.72 143.90,481.72 144.44,481.72 144.99,481.72 145.53,481.72 146.08,481.72 146.62,481.72 147.17,481.72 147.71,481.72 148.25,481.72 148.80,481.72 149.35,481.72 149.89,481.72 150.44,481.72 150.98,481.72 151.53,481.72 152.07,481.72 152.62,481.72 153.16,481.72 153.71,481.72 154.25,481.72 154.80,481.72 155.34,481.72 155.88,481.72 156.43,481.72 156.98,481.72 157.52,481.72 158.06,481.72 158.61,481.72 159.16,481.72 159.70,481.72 160.25,481.72 160.79,481.72 161.34,481.72 161.88,481.72 162.43,481.72 162.97,481.72 163.52,481.72 164.06,481.72 164.61,481.72 165.15,481.72 165.70,481.72 166.24,481.72 166.79,481.72 167.33,481.72 167.88,481.72 168.42,481.72 168.97,481.72 169.51,481.72 170.06,481.72 170.60,481.72 171.15,481.72 171.69,481.72 172.24,481.72 172.78,481.72 173.33,481.72 173.87,481.72 174.42,481.72 174.96,481.72 175.51,481.72 176.05,481.72 176.60,481.72 177.14,481.72 177.69,481.72 178.23,481.72 178.78,481.72 179.32,481.72 179.87,481.72 180.41,481.72 180.96,481.72 181.50,481.72" fill="none" stroke="#000000" stroke-width="2.0" stroke-linejoin="miter"/>
<polyline points="50.70,480.78 51.25,480.78 51.79,480.78 52.34,480.78 52.88,480.78 53.43,480.78 53.97,480.78 54.52,480.78 55.06,480.78 55.61,480.78 56.15,480.78 56.70,480.78 57.24,480.78 57.79,480.78 58.33,480.78 58.88,480.78 59.42,480.78 59.97,480.78 60.51,480.78 61.06,480.78 61.60,480.78 62.15,480.78 62.69,480.78 63.23,480.78 63.78,480.78 64.33,480.78 64.87,480.78 65.42,480.78 65.96,480.78 66.51,480.78 67.05,480.78 67.59,480.78 68.14,480.78 68.69,480.78 69.23,480.78 69.78,480.78 70.32,480.78 70.87,480.78 71.41,480.78 71.96,480.78 72.50,480.78 73.05,480.78 73.59,480.78 74.14,480.78 74.68,480.78 75.23,480.78 75.77,480.78 76.31,480.78 76.86,480.78 77.41,480.78 77.95,480.78 78.50,480.78 79.04,480.78 79.59,480.78 80.13,480.78 80.68,480.78 81.22,480.78 81.77,480.78 82.31,480.78 82.86,480.78 83.40,480.78 83.95,480.78 84.49,480.78 85.04,480.78 85.58,480.78 86.12,480.78 86.67,480.78 87.22,480.78 87.76,480.78 88.31,480.78 88.85,480.78 89.40,480.78 89.94,480.78 90.49,480.78 91.03,480.78 91.58,480.78 92.12,480.78 92.67,480.78 92.99,480.78 92.99,480.78 93.21,480.78 93.75,480.78 93.86,480.78 93.87,480.78 94.30,480.78 94.30,480.78 94.30,480.78 94.73,480.78 94.74,480.78 94.84,480.78 95.39,480.78 95.94,480.78 96.48,480.78 97.03,480.78 97.57,480.78 98.12,480.78 98.66,480.78 99.21,480.78 99.75,480.78 100.30,480.78 100.84,480.78 101.39,480.78 101.93,480.78 102.48,480.78 103.02,480.78 103.56,480.78 104.11,480.78 104.66,480.78 105.20,480.78 105.75,480.78 106.29,480.78 106.84,480.78 107.38,480.78 107.93,480.78 108.47,480.78 109.02,480.78 109.56,480.78 110.11,480.78 110.65,480.78 111.20,480.78 111.74,480.78 112.29,480.78 112.83,480.78 113.38,480.78 113.92,480.78 114.47,480.78 115.01,480.78 115.56,480.78 116.10,480.78 116.65,480.78 117.19,480.78 117.74,480.78 118.28,480.78 118.83,480.78 119.37,480.78 119.92,480.78 120.46,480.78 121.01,480.78 121.55,480.78 122.10,480.78 122.64,480.78 123.19,480.78 123.73,480.78 124.28,480.78 124.82,480.78 125.37,480.78 125.91,480.78 126.46,480.78 127.00,480.78 127.55,480.78 128.09,480.78 128.63,480.78 129.18,480.78 129.73,480.78 130.27,480.78 130.81,480.78 131.36,480.78 131.91,480.78 132.45,480.78 133.00,480.78 133.54,480.78 134.09,480.78 134.63,480.78 135.18,480.78 135.72,480.78 136.27,480.78 136.81,480.78 137.36,480.78 137.90,480.78 138.45,480.78 138.99,480.78 139.54,480.78 140.08,480.78 140.62,480.78 141.17,480.78 141.72,480.78 142.26,480.78 142.81,480.78 143.35,480.78 143.90,480.78 144.44,480.78 144.99,480.78 145.53,480.78 146.08,480.78 146.62,480.78 147.17,480.78 147.71,480.78 148.25,480.78 148.80,480.78 149.35,480.78 149.89,480.78 150.44,480.78 150.98,480.78 151.53,480.78 152.07,480.78 152.62,480.78 153.16,480.78 153.71,480.78 154.25,480.78 154.80,480.78 155.34,480.78 155.88,480.78 156.43,480.78 156.98,480.78 157.52,480.78 158.06,480.78 158.61,480.78 159.16,480.78 159.70,480.78 160.25,480.78 160.79,480.78 161.34,480.78 161.88,480.78 162.43,480.78 162.97,480.78 163.52,480.78 164.06,480.78 164.61,480.78 165.15,480.78 165.70,480.78 166.24,480.78 166.79,480.78 167.33,480.78 167.88,480.78 168.42,480.78 168.97,480.78 169.51,480.78 170.06,480.78 170.60,480.78 171.15,480.78 171.69,480.78 172.24,480.78 172.78,480.78 173.33,480.78 173.87,480.78 174.42,480.78 174.96,480.78 175.51,480.78 176.05,480.78 176.60,480.78 177.14,480.78 177.69,480.78 178.23,480.78 178.78,480.78 179.32,480.78 179.87,480.78 180.41,480.78 180.96,480.78 181.50,480.78" fill="none" stroke="#ff2a1a" stroke-width="2.1" stroke-linejoin="miter"/>
<text x="187" y="473.2" font-size="8.7" style="stroke:#000;stroke-width:0.3">ATP</text>
<text x="187" y="483.2" font-size="8.7" style="fill:#1f3cff;stroke:#1f3cff;stroke-width:0.38">ATPγS</text>
<text x="187" y="493.2" font-size="8.7" style="fill:#ff2a1a;stroke:#ff2a1a;stroke-width:0.38">AMPPNP</text>
<polyline points="278.6,486.8 279.2,482.6 279.5,491.2 279.9,496.9 280.5,499.9 280.9,493.9 281.4,491.7 281.5,485.7 282.2,481.6 282.6,477.2 282.8,487.0 283.6,489.4 284.0,484.6 284.4,474.7 284.5,489.4 285.3,491.0 285.6,484.7 285.9,487.7 286.5,491.4 287.0,490.6 287.5,488.8 287.8,483.1 288.1,492.3 288.6,495.4 288.8,481.5 289.6,480.7 289.9,487.8 290.5,497.4 290.8,489.3 291.0,483.4 291.4,476.7 292.2,499.9 292.3,489.6 293.1,491.0 293.4,487.4 293.8,498.4 294.4,481.6 294.7,488.8 295.2,490.9 295.5,494.9 296.2,488.3 296.5,481.9 296.8,481.7 297.5,491.7 297.7,477.3 298.3,496.3 298.5,486.4 298.9,485.7 299.5,481.9 299.9,485.1 300.2,490.2 300.8,482.3 301.0,476.5 301.7,487.6 302.1,508.8 302.7,487.1 303.1,476.8 303.6,485.4 303.9,499.0 304.1,488.4 304.8,486.7 305.1,490.4 305.6,494.7 306.2,477.6 306.6,489.0 307.0,483.1 307.3,479.6 307.6,501.7 308.2,492.1 308.7,473.8 308.9,498.2 309.3,487.4 309.7,490.5 310.3,486.9 310.9,486.2 311.3,489.8 311.7,487.9 312.2,489.2 312.4,485.1 312.9,494.1 313.2,483.6 314.0,491.6 314.2,480.4 314.7,478.0 314.9,484.5 315.3,493.1 316.1,488.5 316.3,495.3 316.8,498.0 317.3,493.8 317.7,488.4 318.0,492.5 318.6,487.0 319.2,501.9 319.4,488.3 319.8,491.1 320.1,470.5 320.8,517.5 321.3,504.0 321.4,485.2 322.0,510.3 322.3,490.9 322.8,494.2 323.3,502.9 324.0,521.8 324.1,502.5 324.8,504.7 325.2,525.6 325.7,507.7 325.8,536.9 326.5,527.9 326.7,537.1 327.4,542.4 327.9,532.4 328.1,535.2 328.6,524.1 328.9,543.5 329.3,554.7 330.0,539.8 330.2,550.2 330.8,542.9 331.3,536.7 331.5,530.0 332.2,535.7 332.4,552.8 333.0,539.7 333.1,549.0 333.9,551.2 334.2,538.5 334.7,550.4 334.9,545.5 335.4,541.6 335.8,551.4 336.4,547.2 337.0,542.2 337.4,558.3 337.8,555.7 337.9,556.5 338.7,538.7 339.1,559.3 339.5,529.8 340.0,556.4 340.1,541.0 340.7,554.5 341.1,551.5 341.6,549.3 342.1,535.9 342.6,542.3 343.0,559.5 343.3,553.7 343.7,534.6 344.4,557.1 344.6,564.4 345.0,553.1 345.3,545.9 345.8,552.9 346.4,544.1 346.6,547.3 347.4,539.9 347.6,545.4 348.2,546.3 348.4,571.7 349.2,548.2 349.2,546.7 349.8,543.8 350.5,547.8 350.8,554.9 351.3,555.7 351.5,548.6 351.9,554.3 352.6,553.0 352.8,558.1 353.3,553.0 353.6,547.3 354.2,559.5 354.6,549.2 355.0,563.4 355.3,544.1 355.7,559.3 356.3,550.9 356.9,539.1 357.4,558.0 357.5,555.3 358.0,549.9 358.4,552.6 359.1,545.9 359.4,545.2 359.9,558.9 360.3,568.4 360.7,563.2 361.1,552.7 361.5,549.5 361.9,539.6 362.2,538.6 362.8,553.0 363.4,544.9 363.9,563.4 364.3,545.6 364.5,560.0 365.2,548.0 365.4,549.1 366.0,556.3 366.4,546.2 366.9,551.7 367.2,544.7 367.6,550.0 368.1,569.9 368.6,544.1 368.9,566.2 369.3,548.7 369.8,553.0 370.1,556.7 370.5,560.2 371.2,565.9 371.6,545.7 372.0,551.7 372.3,553.2 372.7,545.4 373.1,554.8 373.7,554.0 374.1,548.5 374.6,564.9 374.8,556.3 375.5,565.8 376.1,561.3 376.3,552.8 376.6,556.2 377.3,556.3 377.7,555.3 378.1,557.9 378.7,539.5 378.8,554.4 379.5,543.3 379.6,533.0 380.0,555.9 380.9,551.3 381.3,554.2 381.5,537.0 382.1,539.6 382.4,539.7 382.7,553.6 383.1,553.1 383.7,575.7 384.1,568.7 384.5,553.3 385.2,551.5 385.5,554.4 386.0,539.7 386.4,568.8 386.9,548.4 387.3,549.8 387.7,545.1 388.2,562.4 388.3,553.5 388.7,554.6 389.2,541.2 389.9,557.3 390.2,558.4 390.8,542.1 391.2,551.0 391.7,558.9 392.1,543.2 392.3,551.1 393.0,566.5 393.2,545.7 393.8,547.1 394.3,552.8 394.7,563.3 395.1,558.1 395.2,557.4 395.9,545.7 396.5,552.6 396.6,558.1 397.1,565.4 397.6,543.5 398.0,561.7 398.7,556.1 399.0,558.5 399.5,542.2 399.9,563.9 400.1,552.7 400.8,566.9 400.9,542.7 401.7,554.1 401.9,551.1 402.3,564.0 402.8,550.4 403.4,559.1 403.8,550.9 404.2,562.8 404.6,553.6 405.0,553.0 405.5,560.9 405.9,556.0 406.1,555.0 406.6,555.6 407.0,536.4 407.6,558.4 408.2,550.2 408.4,541.7" fill="none" stroke="none" marker-start="url(#mT)" marker-mid="url(#mT)" marker-end="url(#mT)"/>
<polyline points="278.7,483.3 278.9,491.8 279.6,505.4 279.7,517.6 280.3,484.6 280.8,491.8 281.0,487.6 281.7,475.9 282.0,513.1 282.3,505.8 283.1,497.2 283.2,504.5 284.0,496.4 284.1,488.6 284.8,511.8 285.2,507.5 285.6,481.2 286.0,495.5 286.6,512.1 286.9,510.6 287.4,484.6 287.6,490.8 288.0,492.8 288.5,487.6 289.1,501.5 289.3,484.2 289.8,476.4 290.4,500.6 290.6,494.4 291.2,501.0 291.9,503.8 292.2,506.0 292.7,491.9 292.7,502.5 293.3,494.4 294.0,484.7 294.4,500.8 294.6,476.3 295.3,503.1 295.4,490.9 296.0,494.8 296.6,476.6 296.8,485.0 297.3,450.0 297.5,487.6 298.2,491.6 298.7,497.5 299.0,491.3 299.7,526.8 300.1,499.6 300.1,497.0 300.8,512.4 301.1,497.4 301.6,498.2 302.0,468.5 302.4,500.9 302.9,481.2 303.5,468.1 303.7,504.7 304.1,506.8 304.8,514.9 305.1,498.9 305.3,494.6 306.2,491.2 306.6,488.1 306.6,503.0 307.4,488.3 307.7,495.2 308.0,492.0 308.4,515.1 309.0,503.0 309.6,496.5 309.8,489.7 310.4,478.0 310.6,509.2 311.2,454.9 311.6,499.9 311.9,494.2 312.4,501.3 312.8,498.3 313.2,499.7 314.0,500.2 314.4,485.0 314.7,489.4 315.0,473.3 315.6,471.4 315.9,488.4 316.3,516.1 316.7,505.6 317.2,487.8 317.8,510.5 318.0,526.0 318.5,506.9 318.9,472.0 319.3,506.1 319.8,489.2 320.2,481.2 320.9,499.8 321.2,447.3 321.8,480.2 322.2,477.4 322.3,511.3 322.9,502.0 323.1,494.3 323.7,501.3 324.3,516.6 324.6,546.1 325.3,507.4 325.5,525.3 325.9,533.2 326.6,544.4 326.9,540.0 327.1,546.2 327.8,545.1 328.0,533.2 328.4,541.8 329.0,547.9 329.3,553.1 330.0,548.0 330.3,532.7 330.7,564.8 331.3,562.0 331.5,556.6 332.0,565.9 332.5,562.3 333.0,550.0 333.1,605.4 334.0,552.1 334.0,561.8 334.8,557.0 335.2,559.1 335.4,576.8 336.1,575.6 336.6,588.8 336.9,549.3 337.1,572.3 337.7,568.7 337.9,578.1 338.4,586.2 339.0,581.4 339.5,574.0 339.7,562.4 340.3,560.4 340.5,595.2 341.1,582.7 341.7,582.5 342.1,585.9 342.5,564.1 342.8,580.6 343.5,586.4 343.9,610.6 344.2,594.7 344.5,580.6 345.2,581.5 345.6,572.4 345.8,611.1 346.2,573.0 347.0,578.3 347.2,597.3 347.8,597.8 348.2,570.1 348.7,597.1 348.8,594.7 349.6,606.0 350.0,579.6 350.2,612.7 350.8,575.6 351.3,579.9 351.4,590.6 351.9,609.7 352.6,596.9 352.7,594.6 353.2,575.8 353.6,623.1 354.2,627.5 354.6,577.6 355.2,573.8 355.3,576.8 356.1,600.3 356.3,593.8 356.9,607.0 357.2,584.3 357.6,609.3 358.2,605.4 358.3,586.8 359.0,608.5 359.5,607.3 359.6,612.3 360.3,607.3 360.8,592.4 361.2,605.7 361.5,592.0 361.9,604.5 362.4,596.4 363.0,615.1 363.3,627.8 363.6,603.6 364.1,603.5 364.6,619.8 365.0,612.6 365.4,600.5 366.1,589.9 366.5,601.5 366.8,599.4 367.3,616.3 367.7,584.1 368.1,603.1 368.3,596.1 368.8,629.2 369.2,600.9 369.8,610.6 370.3,611.1 370.7,604.3 370.9,586.5 371.6,604.5 371.9,611.3 372.3,590.5 372.6,609.4 373.2,597.3 373.8,617.1 374.2,588.5 374.8,607.0 375.2,621.3 375.4,619.1 376.0,631.9 376.4,614.0 376.7,606.6 377.2,596.5 377.7,623.9 378.0,608.5 378.3,608.4 378.8,596.3 379.4,600.3 379.9,599.3 380.3,594.4 380.7,601.3 381.1,602.9 381.7,593.7 382.0,615.0 382.5,630.3 382.8,594.7 383.4,606.2 383.9,593.9 384.2,610.5 384.6,613.9 384.9,612.2 385.4,595.4 385.9,604.7 386.3,599.5 386.6,594.5 387.2,594.3 387.6,604.8 387.8,611.2 388.5,612.3 388.7,613.3 389.3,600.9 389.9,622.5 390.4,592.4 390.5,604.9 391.1,605.8 391.7,618.0 392.1,592.1 392.4,606.3 392.7,638.3 393.0,603.3 393.8,601.8 394.1,603.2 394.7,587.8 394.8,623.8 395.3,620.4 396.0,601.3 396.1,608.6 396.6,621.4 397.1,636.1 397.7,589.9 398.1,598.3 398.3,603.8 398.9,631.9 399.2,585.1 399.7,609.6 400.2,617.7 400.6,596.3 401.2,604.7 401.7,612.8 402.0,597.9 402.3,625.0 402.9,597.5 403.4,609.6 403.7,621.0 404.2,606.0 404.4,593.1 404.8,626.7 405.6,606.9 405.9,593.2 406.2,582.9 406.6,603.0 407.0,604.0 407.7,618.6 408.1,607.8 408.6,605.7" fill="none" stroke="none" marker-start="url(#mS)" marker-mid="url(#mS)" marker-end="url(#mS)"/>
<polyline points="278.4,484.8 279.0,488.7 279.6,479.4 279.9,494.8 280.1,492.7 280.9,478.2 281.2,482.3 281.5,494.9 282.2,478.0 282.3,492.7 283.0,502.3 283.4,482.2 283.8,492.6 284.1,487.8 284.5,462.3 285.0,490.5 285.7,488.0 286.2,483.4 286.5,467.0 286.7,489.8 287.4,477.1 287.7,506.5 288.2,484.8 288.8,489.3 289.2,468.2 289.4,478.0 289.8,506.6 290.4,501.1 290.6,502.5 291.4,482.1 291.7,453.9 292.1,475.1 292.3,479.3 293.0,479.2 293.2,480.8 293.8,487.8 294.2,481.9 294.9,482.5 295.3,469.5 295.8,469.6 296.2,474.9 296.5,489.5 296.9,466.3 297.4,489.5 297.9,496.3 298.0,470.8 298.5,472.0 299.1,487.2 299.5,483.7 300.1,467.6 300.3,486.9 300.6,476.7 301.3,490.7 301.7,511.1 302.3,481.4 302.4,475.5 302.9,474.6 303.3,483.2 303.6,468.6 304.3,480.3 304.7,463.2 305.3,494.3 305.6,483.2 306.1,476.7 306.3,465.0 306.7,482.0 307.3,479.1 307.5,471.3 308.1,486.9 308.4,474.9 309.0,485.4 309.2,489.8 309.8,485.6 310.4,491.4 310.6,484.5 311.1,488.8 311.7,498.8 312.0,480.2 312.6,486.7 312.9,470.2 313.5,482.5 313.9,497.1 314.3,485.0 314.7,496.3 315.0,467.9 315.7,489.6 316.0,477.3 316.6,481.9 316.9,462.8 317.1,496.4 317.9,496.9 318.1,494.5 318.5,495.4 318.9,481.6 319.4,491.1 319.7,479.5 320.4,489.5 320.9,475.8 321.3,496.6 321.7,487.5 321.9,502.7 322.7,494.2 322.8,509.0 323.1,507.2 323.6,487.0 324.1,517.6 324.5,492.3 325.2,515.2 325.7,512.5 326.1,499.8 326.2,514.4 327.0,492.6 327.3,502.7 327.6,502.2 328.2,520.3 328.6,514.6 328.9,530.7 329.4,514.5 329.8,527.4 330.4,529.6 330.7,522.1 331.2,535.5 331.5,532.8 332.0,544.8 332.5,518.8 332.7,532.8 333.3,507.1 333.9,524.7 334.1,536.7 334.8,537.8 335.0,517.4 335.3,526.9 336.1,519.4 336.3,540.6 336.9,528.9 337.2,533.1 337.5,522.9 338.2,547.4 338.6,534.1 339.0,526.7 339.5,543.3 340.0,543.5 340.2,552.0 340.8,552.8 341.1,543.5 341.6,541.4 342.2,539.6 342.6,537.4 342.7,523.0 343.4,534.9 343.6,549.9 344.0,533.7 344.7,538.5 345.1,520.9 345.5,536.3 345.7,519.4 346.3,534.9 346.6,535.9 347.2,533.9 347.6,536.6 348.2,534.2 348.6,523.3 349.1,526.3 349.3,572.1 350.0,543.4 350.2,531.1 350.5,540.3 351.2,544.4 351.4,547.4 352.2,535.9 352.3,545.8 352.7,532.1 353.4,542.8 353.7,531.2 354.1,537.7 354.4,547.6 355.0,548.4 355.3,543.9 355.8,516.4 356.3,546.0 356.7,532.2 357.3,525.0 357.5,543.8 358.0,543.9 358.4,535.5 359.0,555.3 359.4,552.6 359.7,544.4 360.4,536.9 360.6,551.0 361.3,520.9 361.4,537.7 361.9,549.6 362.3,527.3 362.9,565.9 363.3,542.3 363.6,550.0 364.1,551.1 364.7,506.9 365.2,538.4 365.3,541.8 366.1,546.2 366.3,540.6 366.8,549.1 367.0,537.6 367.5,548.9 368.0,543.9 368.4,540.4 368.9,557.4 369.2,545.2 369.9,562.6 370.2,513.3 370.6,543.4 371.3,536.8 371.6,540.1 372.0,547.0 372.3,542.0 372.9,529.1 373.3,551.3 373.7,572.7 374.3,511.4 374.5,549.5 375.2,541.1 375.6,542.6 376.1,532.2 376.4,546.7 376.9,555.7 377.1,534.9 377.8,548.8 378.0,541.7 378.5,547.7 379.0,533.3 379.3,545.2 379.7,540.1 380.1,550.5 380.6,539.3 380.9,532.6 381.3,540.9 382.0,526.0 382.6,536.9 382.6,561.8 383.1,537.0 383.5,524.0 384.2,534.2 384.5,559.4 384.9,513.7 385.6,536.0 386.0,552.2 386.2,525.0 386.8,551.3 387.3,550.9 387.5,560.8 388.0,529.0 388.4,544.6 389.0,547.6 389.4,530.9 389.6,531.9 390.0,553.6 390.5,543.7 391.2,528.8 391.6,541.6 392.0,558.9 392.2,551.6 392.6,525.2 393.1,530.4 393.6,539.4 394.1,534.1 394.4,527.6 395.1,534.4 395.6,550.6 395.9,555.6 396.3,546.4 396.6,533.9 397.3,545.3 397.5,555.5 398.0,545.4 398.7,534.0 398.8,549.6 399.5,530.4 399.6,544.4 400.2,552.4 400.7,537.6 400.9,556.3 401.5,547.4 401.7,563.6 402.4,551.1 402.8,546.1 403.2,534.9 403.9,531.2 404.1,527.6 404.4,540.1 404.8,531.6 405.2,535.8 405.9,549.1 406.3,552.9 406.5,541.7 407.0,525.6 407.7,525.7 408.2,543.4 408.5,548.1" fill="none" stroke="none" marker-start="url(#mC)" marker-mid="url(#mC)" marker-end="url(#mC)"/>
<line x1="278.4" y1="447.5" x2="278.4" y2="622.325" stroke="#000" stroke-width="1.25"/>
<line x1="277.775" y1="621.7" x2="409.725" y2="621.7" stroke="#000" stroke-width="1.25"/>
<line x1="274.09999999999997" y1="621.70" x2="278.4" y2="621.70" stroke="#000" stroke-width="1.25"/>
<text x="272.8" y="624.0" font-size="6.5" font-weight="bold" text-anchor="end">0.0</text>
<line x1="275.79999999999995" y1="588.12" x2="278.4" y2="588.12" stroke="#000" stroke-width="1.25"/>
<line x1="274.09999999999997" y1="554.55" x2="278.4" y2="554.55" stroke="#000" stroke-width="1.25"/>
<text x="272.8" y="556.9" font-size="6.5" font-weight="bold" text-anchor="end">0.5</text>
<line x1="275.79999999999995" y1="520.98" x2="278.4" y2="520.98" stroke="#000" stroke-width="1.25"/>
<line x1="274.09999999999997" y1="487.40" x2="278.4" y2="487.40" stroke="#000" stroke-width="1.25"/>
<text x="272.8" y="489.7" font-size="6.5" font-weight="bold" text-anchor="end">1.0</text>
<line x1="275.79999999999995" y1="453.83" x2="278.4" y2="453.83" stroke="#000" stroke-width="1.25"/>
<line x1="278.40" y1="621.7" x2="278.40" y2="626.1" stroke="#000" stroke-width="1.25"/>
<text x="278.4" y="633.4" font-size="6.5" font-weight="bold" text-anchor="middle">0</text>
<line x1="300.18" y1="621.7" x2="300.18" y2="624.5" stroke="#000" stroke-width="1.25"/>
<line x1="321.97" y1="621.7" x2="321.97" y2="626.1" stroke="#000" stroke-width="1.25"/>
<text x="322.0" y="633.4" font-size="6.5" font-weight="bold" text-anchor="middle">10</text>
<line x1="343.75" y1="621.7" x2="343.75" y2="624.5" stroke="#000" stroke-width="1.25"/>
<line x1="365.53" y1="621.7" x2="365.53" y2="626.1" stroke="#000" stroke-width="1.25"/>
<text x="365.5" y="633.4" font-size="6.5" font-weight="bold" text-anchor="middle">20</text>
<line x1="387.32" y1="621.7" x2="387.32" y2="624.5" stroke="#000" stroke-width="1.25"/>
<line x1="409.10" y1="621.7" x2="409.10" y2="626.1" stroke="#000" stroke-width="1.25"/>
<text x="409.1" y="633.4" font-size="6.5" font-weight="bold" text-anchor="middle">30</text>
<text x="343.6" y="446.6" font-size="11.8" font-weight="bold" text-anchor="middle">R380K N-M dock</text>
<text transform="translate(256.5 534.5) rotate(-90)" font-size="9.3" font-weight="bold" text-anchor="middle">Relative fluorescence</text>
<text x="343.8" y="646.2" font-size="9.8" font-weight="bold" text-anchor="middle">min</text>
<polyline points="278.40,493.44 278.94,493.44 279.49,493.44 280.03,493.44 280.58,493.44 281.12,493.44 281.67,493.44 282.21,493.44 282.76,493.44 283.30,493.44 283.85,493.44 284.39,493.44 284.94,493.44 285.48,493.44 286.02,493.44 286.57,493.44 287.11,493.44 287.66,493.44 288.20,493.44 288.75,493.44 289.29,493.44 289.84,493.44 290.38,493.44 290.93,493.44 291.47,493.44 292.01,493.44 292.56,493.44 293.10,493.44 293.65,493.44 294.19,493.44 294.74,493.44 295.28,493.44 295.83,493.44 296.37,493.44 296.92,493.44 297.46,493.44 298.00,493.44 298.55,493.44 299.09,493.44 299.64,493.44 300.18,493.44 300.73,493.44 301.27,493.44 301.82,493.44 302.36,493.44 302.91,493.44 303.45,493.44 304.00,493.44 304.54,493.44 305.08,493.44 305.63,493.44 306.17,493.44 306.72,493.44 307.26,493.44 307.81,493.44 308.35,493.44 308.90,493.44 309.44,493.44 309.99,493.44 310.53,493.44 311.07,493.44 311.62,493.44 312.16,493.44 312.71,493.44 313.25,493.44 313.80,493.44 314.34,493.44 314.89,493.44 315.43,493.44 315.98,493.44 316.52,493.44 317.07,493.44 317.61,493.44 318.15,493.44 318.70,493.44 319.24,493.44 319.79,493.44 320.33,493.44 320.66,493.44 320.66,493.44 320.88,493.44 321.42,493.44 321.53,493.44 321.53,493.46 321.96,497.21 321.97,497.23 321.97,497.25 322.40,500.87 322.40,500.90 322.51,501.78 323.06,506.14 323.60,510.33 324.14,514.34 324.69,518.19 325.23,521.88 325.78,525.41 326.32,528.80 326.87,532.05 327.41,535.17 327.96,538.16 328.50,541.02 329.05,543.77 329.59,546.40 330.14,548.93 330.68,551.35 331.22,553.67 331.77,555.89 332.31,558.02 332.86,560.07 333.40,562.03 333.95,563.91 334.49,565.71 335.04,567.44 335.58,569.10 336.13,570.68 336.67,572.21 337.22,573.67 337.76,575.07 338.30,576.41 338.85,577.69 339.39,578.93 339.94,580.11 340.48,581.24 341.03,582.33 341.57,583.37 342.12,584.37 342.66,585.33 343.21,586.25 343.75,587.13 344.29,587.97 344.84,588.78 345.38,589.56 345.93,590.30 346.47,591.02 347.02,591.70 347.56,592.36 348.11,592.99 348.65,593.59 349.20,594.17 349.74,594.72 350.28,595.25 350.83,595.76 351.37,596.25 351.92,596.72 352.46,597.17 353.01,597.60 353.55,598.01 354.10,598.41 354.64,598.78 355.19,599.15 355.73,599.50 356.28,599.83 356.82,600.15 357.36,600.46 357.91,600.75 358.45,601.04 359.00,601.31 359.54,601.57 360.09,601.81 360.63,602.05 361.18,602.28 361.72,602.50 362.27,602.71 362.81,602.91 363.36,603.11 363.90,603.29 364.44,603.47 364.99,603.64 365.53,603.80 366.08,603.96 366.62,604.11 367.17,604.25 367.71,604.39 368.26,604.52 368.80,604.65 369.35,604.77 369.89,604.89 370.43,605.00 370.98,605.11 371.52,605.21 372.07,605.31 372.61,605.40 373.16,605.49 373.70,605.58 374.25,605.66 374.79,605.74 375.34,605.82 375.88,605.89 376.43,605.96 376.97,606.03 377.51,606.10 378.06,606.16 378.60,606.22 379.15,606.27 379.69,606.33 380.24,606.38 380.78,606.43 381.33,606.48 381.87,606.53 382.42,606.57 382.96,606.61 383.50,606.65 384.05,606.69 384.59,606.73 385.14,606.77 385.68,606.80 386.23,606.83 386.77,606.86 387.32,606.89 387.86,606.92 388.41,606.95 388.95,606.98 389.50,607.00 390.04,607.03 390.58,607.05 391.13,607.07 391.67,607.10 392.22,607.12 392.76,607.14 393.31,607.16 393.85,607.17 394.40,607.19 394.94,607.21 395.49,607.22 396.03,607.24 396.57,607.25 397.12,607.27 397.66,607.28 398.21,607.30 398.75,607.31 399.30,607.32 399.84,607.33 400.39,607.34 400.93,607.35 401.48,607.36 402.02,607.37 402.56,607.38 403.11,607.39 403.65,607.40 404.20,607.41 404.74,607.42 405.29,607.42 405.83,607.43 406.38,607.44 406.92,607.44 407.47,607.45 408.01,607.46 408.56,607.46 409.10,607.47" fill="none" stroke="#1f3cff" stroke-width="2.1" stroke-linejoin="miter"/>
<polyline points="278.40,487.40 278.94,487.40 279.49,487.40 280.03,487.40 280.58,487.40 281.12,487.40 281.67,487.40 282.21,487.40 282.76,487.40 283.30,487.40 283.85,487.40 284.39,487.40 284.94,487.40 285.48,487.40 286.02,487.40 286.57,487.40 287.11,487.40 287.66,487.40 288.20,487.40 288.75,487.40 289.29,487.40 289.84,487.40 290.38,487.40 290.93,487.40 291.47,487.40 292.01,487.40 292.56,487.40 293.10,487.40 293.65,487.40 294.19,487.40 294.74,487.40 295.28,487.40 295.83,487.40 296.37,487.40 296.92,487.40 297.46,487.40 298.00,487.40 298.55,487.40 299.09,487.40 299.64,487.40 300.18,487.40 300.73,487.40 301.27,487.40 301.82,487.40 302.36,487.40 302.91,487.40 303.45,487.40 304.00,487.40 304.54,487.40 305.08,487.40 305.63,487.40 306.17,487.40 306.72,487.40 307.26,487.40 307.81,487.40 308.35,487.40 308.90,487.40 309.44,487.40 309.99,487.40 310.53,487.40 311.07,487.40 311.62,487.40 312.16,487.40 312.71,487.40 313.25,487.40 313.80,487.40 314.34,487.40 314.89,487.40 315.43,487.40 315.98,487.40 316.52,487.40 317.07,487.40 317.61,487.40 318.15,487.40 318.70,487.40 319.24,487.40 319.79,487.40 320.33,487.40 320.66,487.40 320.66,487.42 320.88,489.82 321.42,495.49 321.53,496.55 321.53,496.59 321.96,500.64 321.97,500.66 321.97,500.68 322.40,504.44 322.40,504.47 322.51,505.36 323.06,509.64 323.60,513.54 324.14,517.09 324.69,520.32 325.23,523.27 325.78,525.95 326.32,528.39 326.87,530.61 327.41,532.63 327.96,534.47 328.50,536.15 329.05,537.67 329.59,539.06 330.14,540.33 330.68,541.48 331.22,542.53 331.77,543.49 332.31,544.36 332.86,545.15 333.40,545.87 333.95,546.53 334.49,547.12 335.04,547.67 335.58,548.16 336.13,548.62 336.67,549.03 337.22,549.40 337.76,549.74 338.30,550.05 338.85,550.33 339.39,550.59 339.94,550.82 340.48,551.04 341.03,551.23 341.57,551.41 342.12,551.57 342.66,551.72 343.21,551.85 343.75,551.97 344.29,552.08 344.84,552.18 345.38,552.27 345.93,552.36 346.47,552.43 347.02,552.50 347.56,552.57 348.11,552.62 348.65,552.68 349.20,552.72 349.74,552.77 350.28,552.81 350.83,552.84 351.37,552.87 351.92,552.90 352.46,552.93 353.01,552.96 353.55,552.98 354.10,553.00 354.64,553.02 355.19,553.03 355.73,553.05 356.28,553.06 356.82,553.08 357.36,553.09 357.91,553.10 358.45,553.11 359.00,553.12 359.54,553.13 360.09,553.13 360.63,553.14 361.18,553.15 361.72,553.15 362.27,553.16 362.81,553.16 363.36,553.16 363.90,553.17 364.44,553.17 364.99,553.18 365.53,553.18 366.08,553.18 366.62,553.18 367.17,553.19 367.71,553.19 368.26,553.19 368.80,553.19 369.35,553.19 369.89,553.19 370.43,553.19 370.98,553.20 371.52,553.20 372.07,553.20 372.61,553.20 373.16,553.20 373.70,553.20 374.25,553.20 374.79,553.20 375.34,553.20 375.88,553.20 376.43,553.20 376.97,553.20 377.51,553.20 378.06,553.20 378.60,553.20 379.15,553.20 379.69,553.20 380.24,553.20 380.78,553.20 381.33,553.21 381.87,553.21 382.42,553.21 382.96,553.21 383.50,553.21 384.05,553.21 384.59,553.21 385.14,553.21 385.68,553.21 386.23,553.21 386.77,553.21 387.32,553.21 387.86,553.21 388.41,553.21 388.95,553.21 389.50,553.21 390.04,553.21 390.58,553.21 391.13,553.21 391.67,553.21 392.22,553.21 392.76,553.21 393.31,553.21 393.85,553.21 394.40,553.21 394.94,553.21 395.49,553.21 396.03,553.21 396.57,553.21 397.12,553.21 397.66,553.21 398.21,553.21 398.75,553.21 399.30,553.21 399.84,553.21 400.39,553.21 400.93,553.21 401.48,553.21 402.02,553.21 402.56,553.21 403.11,553.21 403.65,553.21 404.20,553.21 404.74,553.21 405.29,553.21 405.83,553.21 406.38,553.21 406.92,553.21 407.47,553.21 408.01,553.21 408.56,553.21 409.10,553.21" fill="none" stroke="#000000" stroke-width="2.0" stroke-linejoin="miter"/>
<polyline points="278.40,482.70 278.94,482.70 279.49,482.70 280.03,482.70 280.58,482.70 281.12,482.70 281.67,482.70 282.21,482.70 282.76,482.70 283.30,482.70 283.85,482.70 284.39,482.70 284.94,482.70 285.48,482.70 286.02,482.70 286.57,482.70 287.11,482.70 287.66,482.70 288.20,482.70 288.75,482.70 289.29,482.70 289.84,482.70 290.38,482.70 290.93,482.70 291.47,482.70 292.01,482.70 292.56,482.70 293.10,482.70 293.65,482.70 294.19,482.70 294.74,482.70 295.28,482.70 295.83,482.70 296.37,482.70 296.92,482.70 297.46,482.70 298.00,482.70 298.55,482.70 299.09,482.70 299.64,482.70 300.18,482.70 300.73,482.70 301.27,482.70 301.82,482.70 302.36,482.70 302.91,482.70 303.45,482.70 304.00,482.70 304.54,482.70 305.08,482.70 305.63,482.70 306.17,482.70 306.72,482.70 307.26,482.70 307.81,482.70 308.35,482.70 308.90,482.70 309.44,482.70 309.99,482.70 310.53,482.70 311.07,482.70 311.62,482.70 312.16,482.70 312.71,482.70 313.25,482.70 313.80,482.70 314.34,482.70 314.89,482.70 315.43,482.70 315.98,482.70 316.52,482.70 317.07,482.70 317.61,482.70 318.15,482.70 318.70,482.70 319.24,482.70 319.79,482.70 320.33,482.70 320.66,482.70 320.66,482.72 320.88,484.41 321.42,488.46 321.53,489.21 321.53,489.25 321.96,492.20 321.97,492.21 321.97,492.23 322.40,495.01 322.40,495.04 322.51,495.70 323.06,498.93 323.60,501.93 324.14,504.71 324.69,507.30 325.23,509.69 325.78,511.91 326.32,513.98 326.87,515.89 327.41,517.66 327.96,519.31 328.50,520.84 329.05,522.25 329.59,523.57 330.14,524.79 330.68,525.92 331.22,526.97 331.77,527.94 332.31,528.85 332.86,529.69 333.40,530.46 333.95,531.18 334.49,531.85 335.04,532.48 335.58,533.05 336.13,533.59 336.67,534.08 337.22,534.54 337.76,534.97 338.30,535.36 338.85,535.73 339.39,536.07 339.94,536.39 340.48,536.68 341.03,536.95 341.57,537.21 342.12,537.44 342.66,537.66 343.21,537.86 343.75,538.05 344.29,538.22 344.84,538.38 345.38,538.53 345.93,538.67 346.47,538.80 347.02,538.92 347.56,539.03 348.11,539.13 348.65,539.23 349.20,539.31 349.74,539.40 350.28,539.47 350.83,539.54 351.37,539.61 351.92,539.67 352.46,539.73 353.01,539.78 353.55,539.83 354.10,539.87 354.64,539.91 355.19,539.95 355.73,539.99 356.28,540.02 356.82,540.05 357.36,540.08 357.91,540.11 358.45,540.13 359.00,540.15 359.54,540.18 360.09,540.20 360.63,540.21 361.18,540.23 361.72,540.25 362.27,540.26 362.81,540.27 363.36,540.29 363.90,540.30 364.44,540.31 364.99,540.32 365.53,540.33 366.08,540.34 366.62,540.35 367.17,540.35 367.71,540.36 368.26,540.37 368.80,540.37 369.35,540.38 369.89,540.38 370.43,540.39 370.98,540.39 371.52,540.40 372.07,540.40 372.61,540.40 373.16,540.41 373.70,540.41 374.25,540.41 374.79,540.42 375.34,540.42 375.88,540.42 376.43,540.42 376.97,540.42 377.51,540.43 378.06,540.43 378.60,540.43 379.15,540.43 379.69,540.43 380.24,540.43 380.78,540.43 381.33,540.43 381.87,540.44 382.42,540.44 382.96,540.44 383.50,540.44 384.05,540.44 384.59,540.44 385.14,540.44 385.68,540.44 386.23,540.44 386.77,540.44 387.32,540.44 387.86,540.44 388.41,540.44 388.95,540.44 389.50,540.44 390.04,540.44 390.58,540.44 391.13,540.44 391.67,540.45 392.22,540.45 392.76,540.45 393.31,540.45 393.85,540.45 394.40,540.45 394.94,540.45 395.49,540.45 396.03,540.45 396.57,540.45 397.12,540.45 397.66,540.45 398.21,540.45 398.75,540.45 399.30,540.45 399.84,540.45 400.39,540.45 400.93,540.45 401.48,540.45 402.02,540.45 402.56,540.45 403.11,540.45 403.65,540.45 404.20,540.45 404.74,540.45 405.29,540.45 405.83,540.45 406.38,540.45 406.92,540.45 407.47,540.45 408.01,540.45 408.56,540.45 409.10,540.45" fill="none" stroke="#ff2a1a" stroke-width="2.1" stroke-linejoin="miter"/>
<text x="414" y="544.4" font-size="8.7" style="fill:#ff2a1a;stroke:#ff2a1a;stroke-width:0.38">AMPPNP</text>
<text x="414" y="553.8" font-size="8.7" style="stroke:#000;stroke-width:0.3">ATP</text>
<text x="414" y="609.5" font-size="8.7" style="fill:#1f3cff;stroke:#1f3cff;stroke-width:0.38">ATPγS</text>
<text x="277.6" y="13.8" font-size="20" font-weight="bold">b</text>
<text x="-1" y="441.7" font-size="20" style="stroke:#000;stroke-width:0.35">e</text>
</g>
<g id="pcd">
<path d="M34.6,309.5 C32.5,311.1 30.6,310.9 28.3,314.2 C26.0,317.5 26.6,315.4 27.7,319.3 C28.8,323.2 29.3,321.5 31.5,326.0 C33.7,330.5 33.7,328.5 34.4,332.7 C35.1,336.9 35.0,334.0 33.7,338.5 C32.4,343.0 31.8,342.0 30.5,346.2 C29.2,350.4 29.2,347.5 29.7,351.0 C30.2,354.5 29.3,352.9 32.0,356.8 C34.7,360.7 35.2,359.2 37.7,362.6 C40.2,366.0 39.4,364.0 39.4,366.9 C39.4,369.8 40.1,368.4 37.7,371.3 C35.3,374.2 34.0,374.2 32.2,375.6" fill="none" stroke="#000" stroke-width="1.45" stroke-linecap="round"/>
<path d="M86.6,366 V350.4 H98.6 V366 Z" fill="#a5a5a5" stroke="#2a2a2a" stroke-width="0.55"/>
<path d="M28.2,405.7 V386 C28.2,377 32.0,372.5 40.0,370.3 C48.0,368.1 62.1,363.2 77.1,363.2 C92.1,363.2 106.3,368.1 114.3,370.3 C122.3,372.5 126.1,377 126.1,386 V405.7 Z" fill="#a5a5a5" stroke="#2a2a2a" stroke-width="0.55"/>
<rect x="86.9" y="363.4" width="11.4" height="4" fill="#a5a5a5"/>
<path d="M88.3,350.4 A5.2,5.2 0 1 0 96.9,350.4 Z" fill="#fff" stroke="#2a2a2a" stroke-width="0.6"/><rect x="88.7" y="349.4" width="7.8" height="1.5" fill="#fff"/>
<ellipse cx="74.2" cy="280.85" rx="48.7" ry="49.1" fill="#bfbfbf" stroke="#2a2a2a" stroke-width="0.55"/>
<path d="M75.7,332.9 L82.3,339.4 H79.1 V354.4 H82.3 L75.7,360.9 L69.1,354.4 H72.3 V339.4 H69.1 Z" fill="#fff" stroke="#000" stroke-width="1.1" stroke-linejoin="miter"/>
<polygon points="74.6,242.8 83.1,247.1 83.8,256.3 75.0,261.0 67.0,257.7 66.0,248.7" fill="none" stroke="#000" stroke-width="1.75" stroke-linejoin="round"/>
<polygon points="67.0,257.7 75.0,261.0 73.9,269.7 65.1,270.9 61.9,263.9" fill="none" stroke="#000" stroke-width="1.75" stroke-linejoin="round"/>
<polygon points="75.0,273.5 84.5,272.3 87.0,279.6 80.4,284.0 73.6,279.6" fill="none" stroke="#000" stroke-width="1.75" stroke-linejoin="round"/>
<line x1="73.9" y1="269.7" x2="75.0" y2="273.5" stroke="#000" stroke-width="1.75"/>
<path d="M80.4,284 L81.0,289.3" fill="none" stroke="#111" stroke-width="1"/><path d="M81.0,289 L83.2,291.2" fill="none" stroke="#444" stroke-width="0.6"/>
<path d="M89.5,297 L93.2,299 L97.0,297" fill="none" stroke="#333" stroke-width="0.7"/>
<path d="M104.1,290 L105.8,288.3" stroke="#333" stroke-width="0.6"/>
<path d="M103.6,271.2 Q97.5,266.6 93.2,265.9 Q90.4,266 91.2,268.8 Q93.2,272.6 97.8,275.7" fill="none" stroke="#1a6db8" stroke-width="2.2" stroke-linejoin="round"/>
<path d="M100.1,277.1 L96.2,277.7 L98.9,273 Z" fill="#1a6db8"/>
<path d="M119.0,295.7 Q124.2,300.3 129.0,301.8 Q132.2,301.9 131.4,299 Q129.4,295 126.2,292.5" fill="none" stroke="#1a6db8" stroke-width="2.2" stroke-linejoin="round"/>
<path d="M123.2,290.1 L128.1,290.3 L124.5,294.1 Z" fill="#1a6db8"/>
<circle cx="86.6" cy="294.2" r="4.3" fill="#f07d0a" stroke="#20160a" stroke-width="0.6"/><text x="86.6" y="296.2" font-size="6.5" font-weight="bold" text-anchor="middle" style="fill:#fff">α</text>
<circle cx="100.3" cy="294.0" r="4.3" fill="#f07d0a" stroke="#20160a" stroke-width="0.6"/><text x="100.3" y="296.0" font-size="6.5" font-weight="bold" text-anchor="middle" style="fill:#fff">β</text>
<circle cx="105.8" cy="279.5" r="4.1" fill="#f07d0a" stroke="#20160a" stroke-width="0.6"/>
<circle cx="110.7" cy="279.1" r="4.1" fill="#f07d0a" stroke="#20160a" stroke-width="0.6"/>
<circle cx="105.4" cy="283.7" r="4.1" fill="#f07d0a" stroke="#20160a" stroke-width="0.6"/>
<circle cx="113.5" cy="282.8" r="4.1" fill="#f07d0a" stroke="#20160a" stroke-width="0.6"/>
<circle cx="110.2" cy="287.4" r="4.1" fill="#f07d0a" stroke="#20160a" stroke-width="0.6"/>
<circle cx="117.4" cy="284.6" r="4.1" fill="#f07d0a" stroke="#20160a" stroke-width="0.6"/>
<circle cx="116.8" cy="288.5" r="4.1" fill="#f07d0a" stroke="#20160a" stroke-width="0.6"/>
<text x="111.3" y="284.5" font-size="6.5" text-anchor="middle" style="fill:#fff" fill-opacity="0.85">γ</text>
<path d="M238.5,342.5 L218.5,333.6 Q215.6,332.4 213.0,335 Q208.8,338 210.5,341.6 L223.0,367.6 Q225.6,373 231.0,372.7 Q238.0,372.4 245.0,370" fill="none" stroke="#000" stroke-width="1.45" stroke-linejoin="round"/>
<ellipse cx="279.4" cy="316.7" rx="48.75" ry="49.1" fill="#bfbfbf" stroke="#2a2a2a" stroke-width="0.55"/>
<path d="M288.9,366 V350.4 H300.9 V366 Z" fill="#a5a5a5" stroke="#2a2a2a" stroke-width="0.55"/>
<path d="M231.1,405.7 V386 C231.1,377 234.9,372.5 242.9,370.3 C250.9,368.1 265.1,363.2 280.1,363.2 C295.1,363.2 309.2,368.1 317.2,370.3 C325.2,372.5 329.0,377 329.0,386 V405.7 Z" fill="#a5a5a5" stroke="#2a2a2a" stroke-width="0.55"/>
<rect x="289.2" y="363.4" width="11.4" height="4" fill="#a5a5a5"/>
<polygon points="281.4,279.9 289.9,284.2 290.6,293.4 281.8,298.1 273.8,294.8 272.8,285.8" fill="none" stroke="#000" stroke-width="1.75" stroke-linejoin="round"/>
<polygon points="273.8,294.8 281.8,298.1 280.7,306.8 271.9,308.0 268.7,301.0" fill="none" stroke="#000" stroke-width="1.75" stroke-linejoin="round"/>
<polygon points="281.8,310.6 291.3,309.4 293.8,316.7 287.2,321.1 280.4,316.7" fill="none" stroke="#000" stroke-width="1.75" stroke-linejoin="round"/>
<line x1="280.7" y1="306.8" x2="281.8" y2="310.6" stroke="#000" stroke-width="1.75"/>
<path d="M286.3,321.5 L284.2,326 L284.0,328.5" fill="none" stroke="#333" stroke-width="0.7"/>
<path d="M285.8,336.5 L287.0,339.2 L291.5,340.2" fill="none" stroke="#333" stroke-width="0.7"/>
<path d="M297.0,342.5 L299.3,345.5 L297.5,349" fill="none" stroke="#222" stroke-width="0.7"/>
<circle cx="283.4" cy="332.4" r="4.3" fill="#f07d0a" stroke="#20160a" stroke-width="0.6"/><text x="283.4" y="334.4" font-size="6.5" font-weight="bold" text-anchor="middle" style="fill:#fff">α</text>
<circle cx="295.5" cy="338.5" r="4.3" fill="#f07d0a" stroke="#20160a" stroke-width="0.6"/><text x="295.5" y="340.5" font-size="6.5" font-weight="bold" text-anchor="middle" style="fill:#fff">β</text>
<circle cx="295.1" cy="353.3" r="4.3" fill="#f07d0a" stroke="#20160a" stroke-width="0.6"/><text x="295.1" y="355.3" font-size="6.5" font-weight="bold" text-anchor="middle" style="fill:#fff">γ</text>
<text x="49" y="258.2" font-size="6.2" font-weight="bold">ATP</text>
<text x="255.6" y="295.2" font-size="6.1" font-weight="bold">ATP</text>
<text x="92.6" y="373.7" font-size="6.8" font-weight="bold" text-anchor="middle" stroke="#000" stroke-width="0.25">R380</text>
<text x="295" y="373.8" font-size="6.8" font-weight="bold" text-anchor="middle" stroke="#000" stroke-width="0.25">R380</text>
<text x="11.9" y="337.3" font-size="8.4" stroke="#000" stroke-width="0.2">linker</text>
<text x="111.8" y="248.8" font-size="8" stroke="#000" stroke-width="0.35">N</text>
<text x="127.6" y="403.7" font-size="8" stroke="#000" stroke-width="0.35">M</text>
<text x="0.4" y="242.5" font-size="20" font-weight="bold">c</text>
<line x1="147" y1="315.4" x2="189" y2="315.4" stroke="#000" stroke-width="1.5" stroke-dasharray="1.45 1.35"/>
<polygon points="188.4,313.2 192.8,315.4 188.4,317.6" fill="#000"/>
<polygon points="145.6,328.5 157.6,321.1 157.6,324.7 190.8,324.7 190.8,332.4 157.6,332.4 157.6,336 " fill="#000"/>
<path d="M381.6,309.5 C379.5,311.1 377.6,310.9 375.3,314.2 C373.0,317.5 373.6,315.4 374.7,319.3 C375.8,323.2 376.3,321.5 378.5,326.0 C380.7,330.5 380.7,328.5 381.4,332.7 C382.1,336.9 382.0,334.0 380.7,338.5 C379.4,343.0 378.8,342.0 377.5,346.2 C376.2,350.4 376.2,347.5 376.7,351.0 C377.2,354.5 376.3,352.9 379.0,356.8 C381.7,360.7 382.2,359.2 384.7,362.6 C387.2,366.0 386.4,364.0 386.4,366.9 C386.4,369.8 387.1,368.4 384.7,371.3 C382.3,374.2 381.0,374.2 379.2,375.6" fill="none" stroke="#000" stroke-width="1.45" stroke-linecap="round"/>
<path d="M433.6,366 V350.4 H445.6 V366 Z" fill="#a5a5a5" stroke="#2a2a2a" stroke-width="0.55"/>
<path d="M375.2,405.7 V386 C375.2,377 379.0,372.5 387.0,370.3 C395.0,368.1 409.1,363.2 424.1,363.2 C439.1,363.2 453.3,368.1 461.3,370.3 C469.3,372.5 473.1,377 473.1,386 V405.7 Z" fill="#a5a5a5" stroke="#2a2a2a" stroke-width="0.55"/>
<rect x="433.9" y="363.4" width="11.4" height="4" fill="#a5a5a5"/>
<path d="M435.3,350.4 A5.2,5.2 0 1 0 443.9,350.4 Z" fill="#fff" stroke="#2a2a2a" stroke-width="0.6"/><rect x="435.7" y="349.4" width="7.8" height="1.5" fill="#fff"/>
<ellipse cx="421.2" cy="280.85" rx="48.7" ry="49.1" fill="#bfbfbf" stroke="#2a2a2a" stroke-width="0.55"/>
<path d="M422.7,332.9 L429.3,339.4 H426.1 V354.4 H429.3 L422.7,360.9 L416.1,354.4 H419.3 V339.4 H416.1 Z" fill="#fff" stroke="#000" stroke-width="1.1" stroke-linejoin="miter"/>
<polygon points="421.6,242.8 430.1,247.1 430.8,256.3 422.0,261.0 414.0,257.7 413.0,248.7" fill="none" stroke="#000" stroke-width="1.75" stroke-linejoin="round"/>
<polygon points="414.0,257.7 422.0,261.0 420.9,269.7 412.1,270.9 408.9,263.9" fill="none" stroke="#000" stroke-width="1.75" stroke-linejoin="round"/>
<polygon points="422.0,273.5 431.5,272.3 434.0,279.6 427.4,284.0 420.6,279.6" fill="none" stroke="#000" stroke-width="1.75" stroke-linejoin="round"/>
<line x1="420.9" y1="269.7" x2="422.0" y2="273.5" stroke="#000" stroke-width="1.75"/>
<path d="M427.4,284 L428.0,289.3" fill="none" stroke="#111" stroke-width="1"/><path d="M428.0,289 L430.2,291.2" fill="none" stroke="#444" stroke-width="0.6"/>
<path d="M436.5,297 L440.2,299 L444.0,297" fill="none" stroke="#333" stroke-width="0.7"/>
<circle cx="433.6" cy="294.2" r="4.3" fill="#f07d0a" stroke="#20160a" stroke-width="0.6"/><text x="433.6" y="296.2" font-size="6.5" font-weight="bold" text-anchor="middle" style="fill:#fff">α</text>
<circle cx="447.3" cy="294.0" r="4.3" fill="#f07d0a" stroke="#20160a" stroke-width="0.6"/><text x="447.3" y="296.0" font-size="6.5" font-weight="bold" text-anchor="middle" style="fill:#fff">β</text>
<path d="M449.1,297.9 L454.3,298.2 L453.9,300.6 L449.5,301.3 Z" fill="#1070c8"/>
<circle cx="463.1" cy="302.2" r="4.1" fill="#f07d0a" stroke="#20160a" stroke-width="0.6"/>
<circle cx="458.7" cy="301.3" r="4.1" fill="#f07d0a" stroke="#20160a" stroke-width="0.6"/>
<circle cx="461.3" cy="307.8" r="4.1" fill="#f07d0a" stroke="#20160a" stroke-width="0.6"/>
<circle cx="451.3" cy="311.8" r="4.1" fill="#f07d0a" stroke="#20160a" stroke-width="0.6"/>
<circle cx="456.1" cy="311.8" r="4.1" fill="#f07d0a" stroke="#20160a" stroke-width="0.6"/>
<circle cx="452.6" cy="305.2" r="4.1" fill="#f07d0a" stroke="#20160a" stroke-width="0.6"/>
<text x="457.4" y="308.5" font-size="6.5" text-anchor="middle" style="fill:#fff" fill-opacity="0.85">γ</text>
<path d="M469.3,294 Q472.0,290.5 475.4,289.9 Q479.7,290 478.2,293.5 Q476.0,298 470.7,302" fill="none" stroke="#3d6fba" stroke-width="2.5" stroke-linejoin="round"/>
<path d="M466.2,296 L468.8,291 L471.0,296.2 Z" fill="#3d6fba"/>
<path d="M443.0,312.2 Q437.5,316 435.5,319.7 Q434.3,323.4 438.5,322.4 Q442.0,321.5 444.5,320" fill="none" stroke="#3d6fba" stroke-width="2.5" stroke-linejoin="round"/>
<path d="M447.5,318.3 L443.3,317 L444.8,322.6 Z" fill="#3d6fba"/>
<path d="M585.5,342.5 L565.5,333.6 Q562.6,332.4 560.0,335 Q555.8,338 557.5,341.6 L570.0,367.6 Q572.6,373 578.0,372.7 Q585.0,372.4 592.0,370" fill="none" stroke="#000" stroke-width="1.45" stroke-linejoin="round"/>
<ellipse cx="626.4" cy="316.7" rx="48.75" ry="49.1" fill="#bfbfbf" stroke="#2a2a2a" stroke-width="0.55"/>
<path d="M635.9,366 V350.4 H647.9 V366 Z" fill="#a5a5a5" stroke="#2a2a2a" stroke-width="0.55"/>
<path d="M578.1,405.7 V386 C578.1,377 581.9,372.5 589.9,370.3 C597.9,368.1 612.0,363.2 627.0,363.2 C642.0,363.2 656.2,368.1 664.2,370.3 C672.2,372.5 676.0,377 676.0,386 V405.7 Z" fill="#a5a5a5" stroke="#2a2a2a" stroke-width="0.55"/>
<rect x="636.2" y="363.4" width="11.4" height="4" fill="#a5a5a5"/>
<polygon points="628.4,279.9 636.9,284.2 637.6,293.4 628.8,298.1 620.8,294.8 619.8,285.8" fill="none" stroke="#000" stroke-width="1.75" stroke-linejoin="round"/>
<polygon points="620.8,294.8 628.8,298.1 627.7,306.8 618.9,308.0 615.7,301.0" fill="none" stroke="#000" stroke-width="1.75" stroke-linejoin="round"/>
<polygon points="628.8,310.6 638.3,309.4 640.8,316.7 634.2,321.1 627.4,316.7" fill="none" stroke="#000" stroke-width="1.75" stroke-linejoin="round"/>
<line x1="627.7" y1="306.8" x2="628.8" y2="310.6" stroke="#000" stroke-width="1.75"/>
<path d="M633.3,321.5 L631.2,326 L631.0,328.5" fill="none" stroke="#333" stroke-width="0.7"/>
<path d="M632.8,336.5 L634.0,339.2 L638.5,340.2" fill="none" stroke="#333" stroke-width="0.7"/>
<path d="M645.0,341.6 Q649.3,346.2 645.6,350.4" fill="none" stroke="#1874c8" stroke-width="2.8" stroke-linecap="round"/>
<circle cx="630.4" cy="332.4" r="4.3" fill="#f07d0a" stroke="#20160a" stroke-width="0.6"/><text x="630.4" y="334.4" font-size="6.5" font-weight="bold" text-anchor="middle" style="fill:#fff">α</text>
<circle cx="642.5" cy="338.5" r="4.3" fill="#f07d0a" stroke="#20160a" stroke-width="0.6"/><text x="642.5" y="340.5" font-size="6.5" font-weight="bold" text-anchor="middle" style="fill:#fff">β</text>
<circle cx="642.1" cy="353.3" r="4.3" fill="#f07d0a" stroke="#20160a" stroke-width="0.6"/><text x="642.1" y="355.3" font-size="6.5" font-weight="bold" text-anchor="middle" style="fill:#fff">γ</text>
<text x="381.2" y="260" font-size="6.6" font-weight="bold" style="fill:#d4102a">AMPPNP</text>
<text x="588.3" y="296.4" font-size="6.5" font-weight="bold" style="fill:#d4102a">AMPPNP</text>
<text x="439.6" y="373.7" font-size="6.8" font-weight="bold" text-anchor="middle" stroke="#000" stroke-width="0.25">R380</text>
<text x="642" y="373.8" font-size="6.8" font-weight="bold" text-anchor="middle" stroke="#000" stroke-width="0.25">R380</text>
<text x="348.5" y="245.4" font-size="19">d</text>
<polygon points="540,315.8 527.5,308.3 527.5,312 495,312 495,319.6 527.5,319.6 527.5,323.3" fill="#000"/>
<line x1="499" y1="328.6" x2="540" y2="328.6" stroke="#000" stroke-width="1.5" stroke-dasharray="1.45 1.35"/>
<polygon points="499.6,326.4 495.2,328.6 499.6,330.8" fill="#000"/>
</g>
<g id="pf">
<rect x="539.1" y="495.1" width="17.9" height="147.2" fill="#b4b4b4" stroke="#1a1a1a" stroke-width="1.1"/>
<rect x="593.0" y="564.1" width="17.9" height="78.2" fill="#b4b4b4" stroke="#1a1a1a" stroke-width="1.1"/>
<rect x="619.6" y="497.1" width="18.1" height="145.2" fill="#b4b4b4" stroke="#1a1a1a" stroke-width="1.1"/>
<line x1="530.0" y1="479.7" x2="530.0" y2="643.0" stroke="#000" stroke-width="1.4"/>
<line x1="529.3" y1="642.3" x2="646.6" y2="642.3" stroke="#000" stroke-width="1.4"/>
<line x1="526.4" y1="642.30" x2="530.0" y2="642.30" stroke="#000" stroke-width="1.4"/>
<text x="523.8" y="644.6" font-size="6.5" font-weight="bold" text-anchor="end">0.0</text>
<line x1="527.6" y1="605.30" x2="530.0" y2="605.30" stroke="#000" stroke-width="1.4"/>
<line x1="526.4" y1="568.30" x2="530.0" y2="568.30" stroke="#000" stroke-width="1.4"/>
<text x="523.8" y="570.6" font-size="6.5" font-weight="bold" text-anchor="end">0.5</text>
<line x1="527.6" y1="531.30" x2="530.0" y2="531.30" stroke="#000" stroke-width="1.4"/>
<line x1="526.4" y1="494.30" x2="530.0" y2="494.30" stroke="#000" stroke-width="1.4"/>
<text x="523.8" y="496.6" font-size="6.5" font-weight="bold" text-anchor="end">1.0</text>
<path d="M547.8,486.5 V503 M545.6,486.5 H550 M545.6,503 H550" stroke="#333" stroke-width="0.6" fill="none"/>
<path d="M628.5,485.4 V509 M626,485.4 H631 M626,509 H631" stroke="#333" stroke-width="0.6" fill="none"/>
<path d="M601.7,560.5 V567.5 M599.5,560.5 H604 M599.5,567.5 H604" stroke="#333" stroke-width="0.6" fill="none"/>
<circle cx="547.8" cy="484.2" r="1.9" fill="#fff" stroke="#1a1a1a" stroke-width="0.7"/>
<circle cx="547.8" cy="487.9" r="1.9" fill="#fff" stroke="#1a1a1a" stroke-width="0.7"/>
<circle cx="544.1" cy="494.1" r="1.9" fill="#fff" stroke="#1a1a1a" stroke-width="0.7"/>
<circle cx="551.6" cy="492.9" r="1.9" fill="#fff" stroke="#1a1a1a" stroke-width="0.7"/>
<circle cx="547.8" cy="497.5" r="1.9" fill="#fff" stroke="#1a1a1a" stroke-width="0.7"/>
<circle cx="547.8" cy="500.3" r="1.9" fill="#fff" stroke="#1a1a1a" stroke-width="0.7"/>
<circle cx="547.8" cy="507.5" r="1.9" fill="#fff" stroke="#1a1a1a" stroke-width="0.7"/>
<circle cx="567.7" cy="642.0" r="1.9" fill="#fff" stroke="#1a1a1a" stroke-width="0.7"/>
<circle cx="574.6" cy="642.0" r="1.9" fill="#fff" stroke="#1a1a1a" stroke-width="0.7"/>
<circle cx="581.6" cy="642.0" r="1.9" fill="#fff" stroke="#1a1a1a" stroke-width="0.7"/>
<circle cx="601.7" cy="559.4" r="1.9" fill="#fff" stroke="#1a1a1a" stroke-width="0.7"/>
<circle cx="598.0" cy="566.1" r="1.9" fill="#fff" stroke="#1a1a1a" stroke-width="0.7"/>
<circle cx="605.4" cy="565.1" r="1.9" fill="#fff" stroke="#1a1a1a" stroke-width="0.7"/>
<circle cx="628.5" cy="485.4" r="1.9" fill="#fff" stroke="#1a1a1a" stroke-width="0.7"/>
<circle cx="628.5" cy="495.8" r="1.9" fill="#fff" stroke="#1a1a1a" stroke-width="0.7"/>
<circle cx="628.5" cy="509.0" r="1.9" fill="#fff" stroke="#1a1a1a" stroke-width="0.7"/>
<path d="M547.6,462.3 V456.9 H601.7 V462.3" fill="none" stroke="#444" stroke-width="0.6"/>
<path d="M547.6,478.5 V473 H574.6 V478.5" fill="none" stroke="#444" stroke-width="0.6"/>
<text x="574.9" y="457" font-size="9.3" font-weight="bold" text-anchor="middle">****</text>
<text x="561.2" y="473.1" font-size="9.3" font-weight="bold" text-anchor="middle">****</text>
<text x="587.7" y="440.8" font-size="9.9" font-weight="bold" text-anchor="middle">ATPase rates</text>
<text transform="translate(508.8 561.8) rotate(-90)" font-size="8.7" font-weight="bold" text-anchor="middle">Relative to WT</text>
<text transform="translate(552.0 652.5) rotate(-45)" font-size="11.7" text-anchor="end" style="stroke:#000;stroke-width:0.25">Hsp82</text>
<text transform="translate(578.5 653.0) rotate(-45)" font-size="11.7" text-anchor="end" style="stroke:#000;stroke-width:0.25">E33A</text>
<text transform="translate(605.5 652.5) rotate(-45)" font-size="11.7" text-anchor="end" style="stroke:#000;stroke-width:0.25">R380A</text>
<text transform="translate(633.0 651.5) rotate(-45)" font-size="11.7" text-anchor="end" style="stroke:#000;stroke-width:0.25">R380K</text>
<text x="486.5" y="444.7" font-size="19.8" font-weight="bold">f</text>
</g>
<g id="ph">
<rect x="243.7" y="716.3" width="18.7" height="132.4" fill="#808080" stroke="#000" stroke-width="1.05"/>
<rect x="272.6" y="722.3" width="18.4" height="126.4" fill="#808080" stroke="#000" stroke-width="1.05"/>
<line x1="233.6" y1="692.4" x2="233.6" y2="849.4000000000001" stroke="#000" stroke-width="1.4"/>
<line x1="232.9" y1="848.7" x2="300.2" y2="848.7" stroke="#000" stroke-width="1.4"/>
<line x1="230.2" y1="848.70" x2="233.6" y2="848.70" stroke="#000" stroke-width="1.4"/>
<line x1="231.4" y1="829.30" x2="233.6" y2="829.30" stroke="#000" stroke-width="1.4"/>
<line x1="231.4" y1="809.90" x2="233.6" y2="809.90" stroke="#000" stroke-width="1.4"/>
<line x1="230.2" y1="790.50" x2="233.6" y2="790.50" stroke="#000" stroke-width="1.4"/>
<line x1="231.4" y1="771.10" x2="233.6" y2="771.10" stroke="#000" stroke-width="1.4"/>
<line x1="231.4" y1="751.70" x2="233.6" y2="751.70" stroke="#000" stroke-width="1.4"/>
<line x1="230.2" y1="732.30" x2="233.6" y2="732.30" stroke="#000" stroke-width="1.4"/>
<line x1="231.4" y1="712.90" x2="233.6" y2="712.90" stroke="#000" stroke-width="1.4"/>
<line x1="231.4" y1="693.50" x2="233.6" y2="693.50" stroke="#000" stroke-width="1.4"/>
<text x="227.8" y="851.3" font-size="7.4" font-weight="bold" text-anchor="end">0</text>
<text x="227.8" y="793.1" font-size="7.4" font-weight="bold" text-anchor="end">0.2</text>
<text x="227.8" y="734.9" font-size="7.4" font-weight="bold" text-anchor="end">0.4</text>
<path d="M252.8,706.7 V724.6 M248.4,706.7 H257.4 M248.4,724.6 H257.4" stroke="#222" stroke-width="0.6" fill="none"/>
<path d="M281.7,709.3 V735.4 M277,709.3 H286.5 M277,735.4 H286.5" stroke="#222" stroke-width="0.6" fill="none"/>
<circle cx="252.8" cy="706.7" r="1.85" fill="#fff" stroke="#1a1a1a" stroke-width="0.7"/>
<circle cx="249.7" cy="721.1" r="1.85" fill="#fff" stroke="#1a1a1a" stroke-width="0.7"/>
<circle cx="256.3" cy="721.1" r="1.85" fill="#fff" stroke="#1a1a1a" stroke-width="0.7"/>
<circle cx="281.7" cy="709.3" r="1.85" fill="#fff" stroke="#1a1a1a" stroke-width="0.7"/>
<circle cx="281.7" cy="721.1" r="1.85" fill="#fff" stroke="#1a1a1a" stroke-width="0.7"/>
<circle cx="281.7" cy="735.4" r="1.85" fill="#fff" stroke="#1a1a1a" stroke-width="0.7"/>
<path d="M252.5,700.9 V696 H281.7 V700.9" fill="none" stroke="#333" stroke-width="0.6"/>
<text x="267.2" y="690.9" font-size="7" text-anchor="middle" style="fill:#333">ns</text>
<text x="258.7" y="677.6" font-size="9.6" font-weight="bold" text-anchor="middle">Growth rates</text>
<text transform="translate(211.8 770.7) rotate(-90)" font-size="8.2" font-weight="bold" text-anchor="middle">Cell divisions/hr</text>
<text transform="translate(260.2 857.6) rotate(-45)" font-size="11.7" text-anchor="end" style="stroke:#000;stroke-width:0.25">Hsp82</text>
<text transform="translate(290.2 857.6) rotate(-45)" font-size="11.7" text-anchor="end" style="stroke:#000;stroke-width:0.25">R380K</text>
<text x="185.2" y="683.8" font-size="19.5">h</text>
</g>
<g id="pg">
<defs><filter id="blur1" x="-20%" y="-20%" width="140%" height="140%"><feGaussianBlur stdDeviation="0.45"/></filter></defs>
<rect x="65.1" y="696" width="82.6" height="106.6" fill="#1d1d1d"/>
<g filter="url(#blur1)">
<g transform="translate(77.3 711.5) rotate(-27)"><ellipse rx="4.2" ry="11.5" fill="#909090" fill-opacity="0.16"/><g fill="#8c8c8c" fill-opacity="0.75"><circle cx="-0.7" cy="4.0" r="0.58"/><circle cx="2.8" cy="3.7" r="0.48"/><circle cx="2.8" cy="2.9" r="0.36"/><circle cx="-1.0" cy="1.2" r="0.38"/><circle cx="-3.4" cy="4.8" r="0.39"/><circle cx="0.6" cy="9.0" r="0.68"/><circle cx="-2.3" cy="-3.4" r="0.69"/><circle cx="3.7" cy="3.1" r="0.45"/><circle cx="0.9" cy="3.1" r="0.46"/><circle cx="0.7" cy="-4.5" r="0.55"/><circle cx="-1.6" cy="-5.4" r="0.54"/><circle cx="0.9" cy="1.1" r="0.42"/><circle cx="-1.2" cy="-6.8" r="0.46"/><circle cx="-2.4" cy="-4.0" r="0.45"/><circle cx="1.0" cy="-9.2" r="0.44"/><circle cx="-2.7" cy="-3.8" r="0.66"/><circle cx="-0.3" cy="-6.1" r="0.69"/><circle cx="2.0" cy="5.0" r="0.61"/><circle cx="1.7" cy="6.6" r="0.36"/><circle cx="-1.8" cy="-8.8" r="0.55"/><circle cx="1.7" cy="-4.5" r="0.59"/><circle cx="-2.7" cy="-4.9" r="0.51"/><circle cx="2.2" cy="-9.4" r="0.52"/><circle cx="-0.5" cy="-2.4" r="0.60"/><circle cx="-2.5" cy="-9.1" r="0.64"/><circle cx="-0.6" cy="7.0" r="0.58"/><circle cx="2.8" cy="1.1" r="0.41"/><circle cx="0.8" cy="1.9" r="0.62"/><circle cx="1.4" cy="4.2" r="0.49"/><circle cx="0.8" cy="-2.4" r="0.51"/><circle cx="-3.8" cy="-3.3" r="0.64"/><circle cx="1.5" cy="-4.6" r="0.50"/><circle cx="-2.5" cy="8.4" r="0.69"/><circle cx="1.0" cy="3.9" r="0.43"/><circle cx="0.3" cy="8.0" r="0.56"/><circle cx="-0.0" cy="0.7" r="0.50"/><circle cx="-2.2" cy="6.3" r="0.68"/><circle cx="-1.1" cy="-7.7" r="0.57"/><circle cx="-0.4" cy="-2.4" r="0.66"/><circle cx="0.7" cy="-10.6" r="0.63"/><circle cx="-2.1" cy="4.5" r="0.39"/><circle cx="-0.7" cy="-2.1" r="0.37"/><circle cx="0.4" cy="4.5" r="0.47"/><circle cx="0.1" cy="0.1" r="0.40"/><circle cx="2.0" cy="4.1" r="0.36"/><circle cx="2.3" cy="-6.4" r="0.40"/><circle cx="-0.0" cy="6.8" r="0.48"/><circle cx="2.8" cy="7.4" r="0.70"/><circle cx="-2.9" cy="1.7" r="0.38"/><circle cx="2.0" cy="4.0" r="0.44"/><circle cx="0.8" cy="-4.1" r="0.36"/><circle cx="2.9" cy="-2.5" r="0.40"/><circle cx="-0.7" cy="-0.5" r="0.53"/><circle cx="3.9" cy="-1.4" r="0.59"/><circle cx="-0.2" cy="6.9" r="0.41"/><circle cx="0.4" cy="-8.3" r="0.62"/><circle cx="-1.0" cy="4.8" r="0.63"/><circle cx="3.9" cy="-1.0" r="0.63"/><circle cx="1.5" cy="-9.0" r="0.43"/><circle cx="-2.5" cy="-0.8" r="0.36"/><circle cx="2.2" cy="1.1" r="0.44"/><circle cx="-1.5" cy="-10.5" r="0.51"/><circle cx="3.9" cy="-4.4" r="0.68"/><circle cx="-1.3" cy="4.1" r="0.43"/><circle cx="0.6" cy="4.9" r="0.57"/><circle cx="3.1" cy="-6.2" r="0.52"/><circle cx="-2.2" cy="-8.4" r="0.38"/><circle cx="-2.1" cy="-9.3" r="0.62"/><circle cx="0.0" cy="-8.0" r="0.41"/><circle cx="0.6" cy="-6.4" r="0.63"/><circle cx="2.6" cy="-1.3" r="0.49"/><circle cx="3.4" cy="-3.2" r="0.41"/><circle cx="1.1" cy="3.2" r="0.67"/><circle cx="0.6" cy="-4.1" r="0.64"/><circle cx="3.4" cy="-1.2" r="0.47"/></g></g>
<g transform="translate(93.3 710.1) rotate(-27)"><ellipse rx="4.2" ry="11.5" fill="#909090" fill-opacity="0.16"/><g fill="#8c8c8c" fill-opacity="0.75"><circle cx="-1.4" cy="-1.3" r="0.35"/><circle cx="3.3" cy="-1.7" r="0.53"/><circle cx="2.5" cy="-3.1" r="0.66"/><circle cx="0.9" cy="-4.7" r="0.44"/><circle cx="-0.5" cy="5.4" r="0.56"/><circle cx="-0.2" cy="7.4" r="0.40"/><circle cx="2.1" cy="-3.7" r="0.51"/><circle cx="-3.5" cy="-5.5" r="0.50"/><circle cx="2.6" cy="-4.0" r="0.54"/><circle cx="-0.6" cy="-0.2" r="0.50"/><circle cx="0.1" cy="0.7" r="0.63"/><circle cx="1.4" cy="7.0" r="0.60"/><circle cx="-2.2" cy="-2.3" r="0.53"/><circle cx="-3.5" cy="-3.5" r="0.39"/><circle cx="-1.9" cy="-2.1" r="0.45"/><circle cx="0.4" cy="-8.1" r="0.55"/><circle cx="0.3" cy="-11.0" r="0.51"/><circle cx="-2.3" cy="-5.3" r="0.53"/><circle cx="-1.0" cy="-7.2" r="0.54"/><circle cx="-4.0" cy="1.5" r="0.59"/><circle cx="2.9" cy="-7.8" r="0.44"/><circle cx="-3.8" cy="-4.1" r="0.64"/><circle cx="1.0" cy="3.0" r="0.50"/><circle cx="1.8" cy="2.5" r="0.38"/><circle cx="-1.8" cy="-8.9" r="0.66"/><circle cx="2.0" cy="8.0" r="0.58"/><circle cx="2.5" cy="8.5" r="0.69"/><circle cx="0.8" cy="11.0" r="0.49"/><circle cx="-4.2" cy="0.9" r="0.64"/><circle cx="1.5" cy="6.4" r="0.53"/><circle cx="-1.0" cy="4.3" r="0.46"/><circle cx="-0.1" cy="-1.6" r="0.54"/><circle cx="-0.5" cy="0.6" r="0.47"/><circle cx="-2.1" cy="-5.8" r="0.37"/><circle cx="3.7" cy="-1.0" r="0.69"/><circle cx="1.7" cy="3.6" r="0.36"/><circle cx="0.4" cy="-5.9" r="0.40"/><circle cx="-3.5" cy="5.2" r="0.64"/><circle cx="-0.1" cy="4.4" r="0.67"/><circle cx="-3.2" cy="-4.1" r="0.38"/><circle cx="3.3" cy="3.4" r="0.50"/><circle cx="3.7" cy="4.9" r="0.57"/><circle cx="0.4" cy="-3.2" r="0.65"/><circle cx="3.6" cy="4.3" r="0.51"/><circle cx="-1.7" cy="7.2" r="0.67"/><circle cx="-0.2" cy="4.1" r="0.53"/><circle cx="0.1" cy="3.8" r="0.41"/><circle cx="1.8" cy="1.6" r="0.46"/><circle cx="-1.2" cy="9.4" r="0.45"/><circle cx="-1.8" cy="-0.0" r="0.47"/><circle cx="2.1" cy="0.7" r="0.36"/><circle cx="-0.3" cy="-8.5" r="0.42"/><circle cx="-4.0" cy="1.8" r="0.39"/><circle cx="1.2" cy="-6.9" r="0.52"/><circle cx="1.3" cy="-6.2" r="0.53"/><circle cx="-1.6" cy="-10.5" r="0.47"/><circle cx="1.7" cy="-8.4" r="0.57"/><circle cx="-2.0" cy="3.8" r="0.37"/><circle cx="0.8" cy="2.2" r="0.61"/><circle cx="-0.1" cy="4.6" r="0.38"/><circle cx="2.1" cy="-9.0" r="0.58"/><circle cx="-0.4" cy="5.5" r="0.45"/><circle cx="-1.6" cy="1.2" r="0.51"/><circle cx="-0.3" cy="11.2" r="0.69"/><circle cx="-2.0" cy="-1.7" r="0.69"/><circle cx="-0.9" cy="6.4" r="0.35"/><circle cx="-2.1" cy="5.4" r="0.53"/><circle cx="0.9" cy="7.8" r="0.35"/><circle cx="-0.1" cy="3.4" r="0.49"/><circle cx="0.6" cy="0.4" r="0.46"/><circle cx="0.3" cy="8.7" r="0.54"/><circle cx="0.0" cy="-9.3" r="0.60"/><circle cx="1.9" cy="-4.9" r="0.46"/><circle cx="1.6" cy="-0.4" r="0.60"/><circle cx="-0.5" cy="-1.9" r="0.64"/></g></g>
<g transform="translate(110.6 709.4) rotate(-27)"><ellipse rx="4.2" ry="11.5" fill="#909090" fill-opacity="0.16"/><g fill="#8c8c8c" fill-opacity="0.75"><circle cx="2.6" cy="-5.7" r="0.61"/><circle cx="0.6" cy="-4.0" r="0.53"/><circle cx="-3.8" cy="-0.3" r="0.63"/><circle cx="1.5" cy="-7.8" r="0.66"/><circle cx="-1.4" cy="-8.7" r="0.43"/><circle cx="1.5" cy="0.8" r="0.48"/><circle cx="3.0" cy="6.4" r="0.55"/><circle cx="-2.3" cy="-6.5" r="0.59"/><circle cx="-0.2" cy="0.0" r="0.63"/><circle cx="-0.0" cy="-8.2" r="0.54"/><circle cx="-0.6" cy="-2.5" r="0.61"/><circle cx="-0.0" cy="3.1" r="0.44"/><circle cx="-0.2" cy="-5.2" r="0.61"/><circle cx="2.9" cy="-1.2" r="0.48"/><circle cx="-3.4" cy="1.3" r="0.62"/><circle cx="-2.5" cy="-6.2" r="0.38"/><circle cx="1.3" cy="4.6" r="0.61"/><circle cx="-1.1" cy="8.2" r="0.35"/><circle cx="2.0" cy="2.2" r="0.59"/><circle cx="-1.2" cy="-8.8" r="0.45"/><circle cx="-2.8" cy="-0.8" r="0.51"/><circle cx="2.9" cy="7.4" r="0.42"/><circle cx="4.0" cy="-1.5" r="0.36"/><circle cx="-3.7" cy="2.7" r="0.69"/><circle cx="-2.1" cy="1.9" r="0.42"/><circle cx="1.8" cy="-1.8" r="0.55"/><circle cx="1.9" cy="6.5" r="0.68"/><circle cx="2.6" cy="7.7" r="0.53"/><circle cx="2.7" cy="-6.3" r="0.43"/><circle cx="2.3" cy="-4.8" r="0.36"/><circle cx="2.9" cy="0.2" r="0.51"/><circle cx="-0.5" cy="4.1" r="0.47"/><circle cx="-1.6" cy="9.6" r="0.35"/><circle cx="0.0" cy="-10.5" r="0.39"/><circle cx="3.2" cy="-4.3" r="0.67"/><circle cx="-0.6" cy="6.8" r="0.49"/><circle cx="3.2" cy="-0.1" r="0.48"/><circle cx="-2.0" cy="2.6" r="0.37"/><circle cx="3.1" cy="6.3" r="0.45"/><circle cx="1.9" cy="-2.3" r="0.44"/><circle cx="-1.8" cy="-0.3" r="0.48"/><circle cx="3.8" cy="-2.9" r="0.63"/><circle cx="-2.7" cy="-8.1" r="0.68"/><circle cx="-3.4" cy="-3.0" r="0.37"/><circle cx="-0.3" cy="-7.7" r="0.61"/><circle cx="-1.4" cy="-4.8" r="0.37"/><circle cx="1.3" cy="-1.8" r="0.52"/><circle cx="-1.3" cy="5.2" r="0.61"/><circle cx="2.1" cy="-0.9" r="0.58"/><circle cx="-1.0" cy="8.2" r="0.49"/><circle cx="0.8" cy="4.0" r="0.42"/><circle cx="2.5" cy="-4.5" r="0.43"/><circle cx="3.5" cy="-6.4" r="0.51"/><circle cx="1.2" cy="3.9" r="0.38"/><circle cx="-0.7" cy="2.9" r="0.43"/><circle cx="-0.2" cy="8.7" r="0.66"/><circle cx="-0.0" cy="-7.4" r="0.49"/><circle cx="-2.5" cy="-1.1" r="0.47"/><circle cx="2.0" cy="2.3" r="0.69"/><circle cx="2.1" cy="5.8" r="0.57"/><circle cx="1.3" cy="-4.1" r="0.44"/><circle cx="0.0" cy="7.3" r="0.51"/><circle cx="3.7" cy="-3.0" r="0.66"/><circle cx="0.7" cy="0.3" r="0.60"/><circle cx="2.3" cy="-4.8" r="0.56"/><circle cx="2.6" cy="0.0" r="0.67"/><circle cx="1.8" cy="-9.5" r="0.69"/><circle cx="0.0" cy="3.8" r="0.40"/><circle cx="-3.4" cy="-1.3" r="0.68"/><circle cx="-0.6" cy="-9.1" r="0.62"/><circle cx="-3.0" cy="2.3" r="0.36"/><circle cx="0.4" cy="-5.4" r="0.67"/><circle cx="-1.4" cy="-5.0" r="0.39"/><circle cx="-0.0" cy="9.2" r="0.59"/><circle cx="0.8" cy="2.0" r="0.53"/></g></g>
<g transform="translate(128.9 710.1) rotate(-27)"><ellipse rx="4.2" ry="11.5" fill="#909090" fill-opacity="0.16"/><g fill="#8c8c8c" fill-opacity="0.75"><circle cx="-2.3" cy="-3.6" r="0.43"/><circle cx="-0.3" cy="-0.7" r="0.46"/><circle cx="-4.0" cy="2.8" r="0.58"/><circle cx="2.2" cy="-5.3" r="0.43"/><circle cx="0.1" cy="11.3" r="0.60"/><circle cx="-0.2" cy="1.6" r="0.52"/><circle cx="-1.2" cy="-6.6" r="0.44"/><circle cx="-2.0" cy="-9.6" r="0.43"/><circle cx="2.4" cy="1.4" r="0.50"/><circle cx="-0.8" cy="-4.7" r="0.63"/><circle cx="-0.2" cy="-8.2" r="0.42"/><circle cx="2.3" cy="-1.2" r="0.64"/><circle cx="0.2" cy="5.4" r="0.62"/><circle cx="-1.1" cy="10.8" r="0.52"/><circle cx="0.8" cy="5.0" r="0.50"/><circle cx="-2.1" cy="-9.7" r="0.40"/><circle cx="-1.5" cy="3.3" r="0.69"/><circle cx="0.6" cy="2.0" r="0.37"/><circle cx="-3.1" cy="6.8" r="0.66"/><circle cx="-0.5" cy="-11.4" r="0.68"/><circle cx="-0.9" cy="4.4" r="0.68"/><circle cx="-0.0" cy="-2.1" r="0.58"/><circle cx="-1.9" cy="4.9" r="0.47"/><circle cx="0.1" cy="0.5" r="0.45"/><circle cx="-2.4" cy="9.0" r="0.39"/><circle cx="1.9" cy="-1.2" r="0.47"/><circle cx="1.7" cy="-9.4" r="0.50"/><circle cx="2.8" cy="2.4" r="0.48"/><circle cx="1.6" cy="-2.4" r="0.48"/><circle cx="0.6" cy="-1.2" r="0.49"/><circle cx="1.4" cy="-9.3" r="0.36"/><circle cx="1.0" cy="0.6" r="0.67"/><circle cx="-0.2" cy="9.9" r="0.66"/><circle cx="-1.2" cy="5.1" r="0.69"/><circle cx="-1.6" cy="-3.9" r="0.60"/><circle cx="-0.9" cy="5.5" r="0.35"/><circle cx="0.1" cy="-11.0" r="0.57"/><circle cx="0.6" cy="-0.6" r="0.43"/><circle cx="-4.1" cy="1.7" r="0.68"/><circle cx="-1.6" cy="3.8" r="0.50"/><circle cx="-4.0" cy="0.5" r="0.41"/><circle cx="1.2" cy="-9.3" r="0.64"/><circle cx="0.5" cy="-8.9" r="0.46"/><circle cx="-1.1" cy="6.3" r="0.62"/><circle cx="1.6" cy="2.4" r="0.61"/><circle cx="0.0" cy="2.9" r="0.36"/><circle cx="-2.3" cy="-2.1" r="0.69"/><circle cx="3.1" cy="-7.6" r="0.44"/><circle cx="1.1" cy="1.8" r="0.52"/><circle cx="-0.7" cy="-7.4" r="0.43"/><circle cx="-2.9" cy="4.5" r="0.59"/><circle cx="-0.0" cy="-10.6" r="0.58"/><circle cx="2.8" cy="7.3" r="0.45"/><circle cx="-2.3" cy="-2.9" r="0.61"/><circle cx="0.7" cy="5.4" r="0.44"/><circle cx="2.3" cy="8.9" r="0.55"/><circle cx="-1.2" cy="6.4" r="0.70"/><circle cx="-2.0" cy="-0.3" r="0.63"/><circle cx="-2.4" cy="-9.4" r="0.39"/><circle cx="-3.8" cy="1.6" r="0.64"/><circle cx="0.7" cy="-1.2" r="0.45"/><circle cx="1.3" cy="3.4" r="0.69"/><circle cx="-3.5" cy="-5.5" r="0.48"/><circle cx="1.9" cy="-5.7" r="0.44"/><circle cx="0.7" cy="-11.0" r="0.39"/><circle cx="-2.7" cy="-5.1" r="0.43"/><circle cx="-1.1" cy="3.2" r="0.42"/><circle cx="-0.1" cy="8.9" r="0.58"/><circle cx="0.1" cy="1.2" r="0.46"/><circle cx="-0.8" cy="-4.5" r="0.46"/><circle cx="1.1" cy="9.8" r="0.54"/><circle cx="1.2" cy="1.4" r="0.49"/><circle cx="-3.2" cy="-2.8" r="0.38"/><circle cx="1.8" cy="8.2" r="0.49"/><circle cx="-0.5" cy="6.2" r="0.68"/></g></g>
<g transform="translate(78.0 735.1) rotate(-27)"><polygon points="5.4,0.0 5.4,4.0 5.5,7.0 4.7,8.5 4.3,10.6 3.1,10.6 2.4,12.1 1.1,12.4 -1.1,12.5 -2.2,11.3 -3.5,11.6 -3.9,9.6 -4.7,8.5 -4.9,6.3 -5.5,4.1 -5.3,0.0 -5.7,-4.3 -5.0,-6.3 -5.1,-9.2 -4.2,-10.2 -3.6,-12.1 -2.5,-12.9 -1.2,-13.2 1.1,-13.1 2.4,-12.0 3.6,-12.0 4.0,-9.8 4.8,-8.7 4.9,-6.2 5.7,-4.2" fill="#ececec"/><g fill="#ececec"><circle cx="5.3" cy="0.0" r="1.5"/><circle cx="5.2" cy="3.9" r="1.4"/><circle cx="5.3" cy="6.8" r="1.9"/><circle cx="4.6" cy="8.2" r="1.2"/><circle cx="4.2" cy="10.2" r="1.2"/><circle cx="3.0" cy="10.2" r="1.8"/><circle cx="2.3" cy="11.7" r="1.7"/><circle cx="1.0" cy="12.0" r="1.8"/><circle cx="-1.1" cy="12.1" r="1.1"/><circle cx="-2.2" cy="11.0" r="1.5"/><circle cx="-3.4" cy="11.3" r="1.8"/><circle cx="-3.8" cy="9.3" r="1.6"/><circle cx="-4.6" cy="8.2" r="1.5"/><circle cx="-4.8" cy="6.1" r="1.3"/><circle cx="-5.3" cy="4.0" r="1.8"/><circle cx="-5.1" cy="0.0" r="1.4"/><circle cx="-5.6" cy="-4.1" r="1.9"/><circle cx="-4.8" cy="-6.1" r="1.1"/><circle cx="-5.0" cy="-8.9" r="1.9"/><circle cx="-4.0" cy="-9.9" r="1.0"/><circle cx="-3.5" cy="-11.8" r="1.3"/><circle cx="-2.5" cy="-12.6" r="1.6"/><circle cx="-1.1" cy="-12.8" r="1.1"/><circle cx="1.1" cy="-12.7" r="1.2"/><circle cx="2.3" cy="-11.7" r="1.8"/><circle cx="3.4" cy="-11.6" r="1.2"/><circle cx="3.9" cy="-9.5" r="1.4"/><circle cx="4.7" cy="-8.4" r="1.3"/><circle cx="4.8" cy="-6.1" r="1.2"/><circle cx="5.5" cy="-4.1" r="1.8"/></g><g fill="#fdfdfd"><circle cx="3.7" cy="2.2" r="1.2"/><circle cx="4.5" cy="2.5" r="0.8"/><circle cx="-3.1" cy="-5.0" r="1.1"/><circle cx="-1.1" cy="7.0" r="1.0"/><circle cx="-3.7" cy="4.2" r="1.0"/><circle cx="-0.7" cy="0.7" r="1.1"/><circle cx="-2.5" cy="0.4" r="1.2"/><circle cx="0.6" cy="-7.7" r="0.8"/><circle cx="-1.6" cy="0.6" r="0.8"/></g><g fill="#c4c4c4"><circle cx="-1.4" cy="1.5" r="1.0"/><circle cx="-1.0" cy="-0.1" r="1.1"/><circle cx="3.8" cy="4.9" r="1.2"/><circle cx="-1.2" cy="-0.2" r="1.0"/><circle cx="-3.6" cy="7.8" r="0.8"/><circle cx="3.2" cy="-9.0" r="1.1"/><circle cx="0.9" cy="-4.7" r="1.3"/><circle cx="-5.0" cy="0.6" r="1.2"/><circle cx="2.3" cy="8.8" r="1.3"/><circle cx="2.8" cy="2.7" r="1.2"/><circle cx="2.6" cy="9.2" r="0.9"/><circle cx="0.8" cy="-4.0" r="1.0"/><circle cx="2.0" cy="-2.5" r="0.9"/></g></g>
<g transform="translate(96.3 735.8) rotate(-27)"><polygon points="5.2,0.0 4.8,3.5 4.6,5.8 4.6,8.2 3.7,9.0 3.0,10.0 2.3,11.5 1.1,12.3 -1.0,11.8 -2.1,10.6 -3.2,10.8 -4.1,9.9 -4.8,8.6 -4.8,6.0 -5.1,3.7 -5.4,0.0 -5.4,-4.0 -5.0,-6.3 -4.5,-8.1 -3.8,-9.2 -2.9,-9.8 -2.3,-11.5 -1.0,-11.7 1.0,-11.0 2.3,-11.6 2.9,-9.8 3.7,-8.9 4.3,-7.7 4.9,-6.2 5.2,-3.9" fill="#ececec"/><g fill="#ececec"><circle cx="5.1" cy="0.0" r="1.3"/><circle cx="4.6" cy="3.4" r="1.2"/><circle cx="4.5" cy="5.6" r="1.8"/><circle cx="4.5" cy="8.0" r="1.8"/><circle cx="3.6" cy="8.7" r="1.7"/><circle cx="2.9" cy="9.7" r="1.5"/><circle cx="2.2" cy="11.2" r="1.3"/><circle cx="1.0" cy="12.0" r="1.5"/><circle cx="-1.0" cy="11.5" r="1.8"/><circle cx="-2.0" cy="10.3" r="1.9"/><circle cx="-3.1" cy="10.4" r="1.4"/><circle cx="-4.0" cy="9.6" r="1.2"/><circle cx="-4.7" cy="8.3" r="1.5"/><circle cx="-4.6" cy="5.8" r="1.7"/><circle cx="-4.9" cy="3.6" r="1.2"/><circle cx="-5.2" cy="0.0" r="1.0"/><circle cx="-5.2" cy="-3.8" r="1.2"/><circle cx="-4.8" cy="-6.1" r="1.9"/><circle cx="-4.4" cy="-7.9" r="1.6"/><circle cx="-3.7" cy="-8.9" r="1.0"/><circle cx="-2.9" cy="-9.5" r="1.1"/><circle cx="-2.2" cy="-11.2" r="1.4"/><circle cx="-1.0" cy="-11.3" r="1.8"/><circle cx="0.9" cy="-10.7" r="1.2"/><circle cx="2.2" cy="-11.2" r="1.0"/><circle cx="2.8" cy="-9.5" r="1.3"/><circle cx="3.6" cy="-8.6" r="1.3"/><circle cx="4.2" cy="-7.4" r="1.5"/><circle cx="4.8" cy="-6.0" r="1.2"/><circle cx="5.1" cy="-3.7" r="1.4"/></g><g fill="#fdfdfd"><circle cx="3.1" cy="7.8" r="0.8"/><circle cx="0.9" cy="2.7" r="1.1"/><circle cx="2.9" cy="-6.9" r="0.9"/><circle cx="-0.0" cy="1.1" r="1.1"/><circle cx="-2.6" cy="-2.4" r="1.1"/><circle cx="-4.3" cy="3.6" r="1.1"/><circle cx="0.0" cy="10.2" r="0.7"/><circle cx="-3.0" cy="-1.3" r="0.8"/><circle cx="3.9" cy="3.4" r="0.7"/></g><g fill="#c4c4c4"><circle cx="-4.4" cy="-3.3" r="0.8"/><circle cx="1.2" cy="7.9" r="1.0"/><circle cx="-2.7" cy="-7.5" r="0.8"/><circle cx="-1.0" cy="5.5" r="0.7"/><circle cx="3.2" cy="-6.1" r="1.1"/><circle cx="4.4" cy="0.4" r="1.1"/><circle cx="-4.0" cy="2.0" r="1.0"/><circle cx="0.2" cy="3.4" r="0.8"/><circle cx="2.7" cy="1.5" r="1.1"/><circle cx="-1.5" cy="-9.3" r="1.1"/><circle cx="-0.4" cy="7.9" r="1.0"/><circle cx="0.8" cy="-7.5" r="0.9"/><circle cx="-2.9" cy="-8.2" r="0.8"/></g></g>
<g transform="translate(114.4 735.1) rotate(-27)"><polygon points="5.7,0.0 5.1,3.8 5.2,6.7 4.8,8.7 4.3,10.5 3.1,10.6 2.4,12.1 1.1,12.5 -1.1,12.2 -2.4,12.2 -3.2,11.0 -4.1,10.0 -4.4,8.0 -4.7,6.0 -5.0,3.8 -5.1,0.0 -5.2,-3.9 -4.7,-6.0 -4.8,-8.6 -4.2,-10.2 -3.1,-10.3 -2.3,-11.6 -1.1,-12.8 1.0,-11.4 2.5,-12.6 3.1,-10.4 3.8,-9.3 4.9,-8.8 5.2,-6.6 5.4,-4.0" fill="#ececec"/><g fill="#ececec"><circle cx="5.5" cy="0.0" r="1.0"/><circle cx="5.0" cy="3.7" r="1.2"/><circle cx="5.1" cy="6.5" r="1.9"/><circle cx="4.7" cy="8.4" r="1.3"/><circle cx="4.1" cy="10.2" r="1.3"/><circle cx="3.1" cy="10.3" r="1.8"/><circle cx="2.3" cy="11.7" r="1.6"/><circle cx="1.1" cy="12.2" r="1.9"/><circle cx="-1.0" cy="11.8" r="1.8"/><circle cx="-2.3" cy="11.8" r="1.8"/><circle cx="-3.1" cy="10.6" r="1.7"/><circle cx="-4.0" cy="9.7" r="1.3"/><circle cx="-4.3" cy="7.8" r="1.6"/><circle cx="-4.6" cy="5.8" r="1.8"/><circle cx="-4.9" cy="3.6" r="1.0"/><circle cx="-4.9" cy="0.0" r="1.8"/><circle cx="-5.0" cy="-3.8" r="1.1"/><circle cx="-4.6" cy="-5.8" r="1.0"/><circle cx="-4.6" cy="-8.4" r="1.6"/><circle cx="-4.0" cy="-9.9" r="1.7"/><circle cx="-3.0" cy="-10.0" r="1.5"/><circle cx="-2.2" cy="-11.2" r="1.7"/><circle cx="-1.1" cy="-12.4" r="1.8"/><circle cx="1.0" cy="-11.1" r="1.8"/><circle cx="2.4" cy="-12.2" r="1.8"/><circle cx="3.0" cy="-10.1" r="1.2"/><circle cx="3.7" cy="-9.1" r="1.0"/><circle cx="4.7" cy="-8.5" r="1.7"/><circle cx="5.0" cy="-6.4" r="1.7"/><circle cx="5.3" cy="-3.9" r="1.3"/></g><g fill="#fdfdfd"><circle cx="1.2" cy="2.1" r="1.2"/><circle cx="0.8" cy="6.1" r="1.0"/><circle cx="2.5" cy="0.7" r="0.9"/><circle cx="-0.6" cy="-6.6" r="0.9"/><circle cx="3.4" cy="-1.8" r="1.2"/><circle cx="-0.6" cy="-1.3" r="0.9"/><circle cx="-4.0" cy="3.8" r="0.9"/><circle cx="-1.0" cy="-7.9" r="0.8"/><circle cx="1.0" cy="-2.6" r="1.2"/></g><g fill="#c4c4c4"><circle cx="0.1" cy="0.4" r="0.8"/><circle cx="0.4" cy="-11.1" r="0.7"/><circle cx="-3.5" cy="0.5" r="1.2"/><circle cx="1.4" cy="7.2" r="0.9"/><circle cx="1.2" cy="-5.0" r="1.3"/><circle cx="-0.5" cy="5.1" r="1.1"/><circle cx="-1.6" cy="0.0" r="1.1"/><circle cx="3.8" cy="4.8" r="1.1"/><circle cx="0.9" cy="-8.7" r="0.9"/><circle cx="-2.5" cy="4.1" r="1.2"/><circle cx="4.0" cy="5.5" r="0.7"/><circle cx="0.7" cy="5.5" r="1.2"/><circle cx="-3.0" cy="-0.1" r="1.2"/></g></g>
<g transform="translate(133.2 735.3) rotate(-27)"><polygon points="5.5,0.0 5.7,4.2 5.6,7.1 4.8,8.7 4.1,10.0 3.6,12.0 2.4,11.9 1.2,13.5 -1.1,12.2 -2.6,13.3 -3.3,11.2 -4.4,10.8 -4.7,8.4 -5.2,6.6 -5.7,4.2 -5.6,0.0 -6.1,-4.5 -5.1,-6.4 -4.7,-8.3 -4.6,-11.3 -3.6,-12.2 -2.4,-12.0 -1.1,-12.2 1.1,-12.8 2.4,-12.4 3.6,-12.1 4.4,-10.7 4.7,-8.4 5.3,-6.7 6.0,-4.5" fill="#ececec"/><g fill="#ececec"><circle cx="5.4" cy="0.0" r="1.4"/><circle cx="5.5" cy="4.1" r="1.7"/><circle cx="5.4" cy="6.9" r="1.6"/><circle cx="4.7" cy="8.4" r="1.3"/><circle cx="4.0" cy="9.7" r="1.8"/><circle cx="3.5" cy="11.7" r="1.7"/><circle cx="2.3" cy="11.6" r="1.4"/><circle cx="1.1" cy="13.1" r="1.5"/><circle cx="-1.0" cy="11.9" r="1.4"/><circle cx="-2.5" cy="12.9" r="1.2"/><circle cx="-3.2" cy="10.9" r="1.3"/><circle cx="-4.3" cy="10.5" r="1.8"/><circle cx="-4.6" cy="8.2" r="1.1"/><circle cx="-5.0" cy="6.4" r="1.3"/><circle cx="-5.5" cy="4.1" r="1.1"/><circle cx="-5.4" cy="0.0" r="1.2"/><circle cx="-5.9" cy="-4.4" r="1.7"/><circle cx="-4.9" cy="-6.2" r="1.9"/><circle cx="-4.5" cy="-8.1" r="1.3"/><circle cx="-4.5" cy="-10.9" r="1.7"/><circle cx="-3.5" cy="-11.8" r="1.4"/><circle cx="-2.3" cy="-11.6" r="1.6"/><circle cx="-1.0" cy="-11.8" r="1.2"/><circle cx="1.1" cy="-12.4" r="1.0"/><circle cx="2.4" cy="-12.0" r="1.7"/><circle cx="3.5" cy="-11.7" r="1.5"/><circle cx="4.3" cy="-10.4" r="1.4"/><circle cx="4.5" cy="-8.1" r="1.5"/><circle cx="5.2" cy="-6.5" r="1.7"/><circle cx="5.8" cy="-4.3" r="1.4"/></g><g fill="#fdfdfd"><circle cx="-4.1" cy="-4.6" r="1.0"/><circle cx="0.6" cy="10.0" r="1.2"/><circle cx="0.7" cy="-9.8" r="1.2"/><circle cx="-1.8" cy="-8.6" r="1.0"/><circle cx="-1.6" cy="8.7" r="0.8"/><circle cx="-4.1" cy="5.1" r="1.1"/><circle cx="-1.8" cy="-4.3" r="1.0"/><circle cx="-4.0" cy="2.6" r="0.9"/><circle cx="-2.3" cy="-10.2" r="0.8"/></g><g fill="#c4c4c4"><circle cx="-2.6" cy="-8.7" r="0.9"/><circle cx="-5.2" cy="0.7" r="0.7"/><circle cx="-2.0" cy="-1.3" r="1.2"/><circle cx="3.5" cy="-3.1" r="0.8"/><circle cx="-3.5" cy="-4.0" r="1.1"/><circle cx="-4.2" cy="-0.7" r="1.2"/><circle cx="-3.3" cy="-1.0" r="1.3"/><circle cx="1.1" cy="9.5" r="0.9"/><circle cx="0.1" cy="-4.1" r="1.3"/><circle cx="-0.8" cy="2.2" r="0.9"/><circle cx="-0.5" cy="0.8" r="1.0"/><circle cx="-3.9" cy="4.8" r="0.9"/><circle cx="-0.2" cy="5.6" r="1.1"/></g></g>
<circle cx="85.9" cy="730.5" r="1" fill="#ddd"/>
<g transform="translate(78.7 761.4) rotate(-27)"><ellipse rx="3.3" ry="9.5" fill="#909090" fill-opacity="0.1"/><g fill="#9a9a9a" fill-opacity="0.75"><circle cx="2.2" cy="-2.5" r="0.43"/><circle cx="0.7" cy="-5.6" r="0.42"/><circle cx="2.0" cy="6.1" r="0.63"/><circle cx="-1.5" cy="-4.9" r="0.55"/><circle cx="0.5" cy="9.2" r="0.47"/><circle cx="-1.9" cy="-6.6" r="0.64"/><circle cx="-1.8" cy="1.0" r="0.54"/><circle cx="2.1" cy="6.1" r="0.47"/><circle cx="1.0" cy="-4.0" r="0.48"/><circle cx="-0.0" cy="6.2" r="0.42"/><circle cx="2.8" cy="0.1" r="0.45"/><circle cx="0.1" cy="5.2" r="0.52"/><circle cx="-2.4" cy="3.3" r="0.58"/><circle cx="-2.1" cy="7.0" r="0.65"/><circle cx="2.8" cy="3.0" r="0.67"/><circle cx="0.3" cy="-3.5" r="0.64"/><circle cx="-0.3" cy="-0.9" r="0.35"/><circle cx="2.6" cy="-2.3" r="0.44"/><circle cx="1.0" cy="2.1" r="0.43"/><circle cx="0.3" cy="-5.5" r="0.40"/><circle cx="2.4" cy="-4.8" r="0.41"/><circle cx="2.0" cy="-4.7" r="0.62"/><circle cx="-1.5" cy="-7.8" r="0.63"/><circle cx="0.8" cy="-3.6" r="0.59"/><circle cx="-2.8" cy="-1.6" r="0.50"/><circle cx="1.8" cy="-4.8" r="0.44"/><circle cx="0.1" cy="3.5" r="0.52"/><circle cx="2.1" cy="2.3" r="0.40"/><circle cx="-2.3" cy="0.4" r="0.54"/><circle cx="0.2" cy="-0.6" r="0.64"/><circle cx="-2.4" cy="1.4" r="0.58"/><circle cx="1.1" cy="-4.9" r="0.50"/><circle cx="0.9" cy="-0.6" r="0.57"/><circle cx="-0.4" cy="-1.2" r="0.56"/><circle cx="-1.3" cy="-8.4" r="0.47"/><circle cx="2.3" cy="-0.8" r="0.52"/><circle cx="0.5" cy="-1.0" r="0.60"/><circle cx="-1.4" cy="-3.9" r="0.65"/><circle cx="-1.5" cy="4.9" r="0.53"/><circle cx="0.2" cy="-4.3" r="0.50"/><circle cx="-2.2" cy="3.3" r="0.64"/><circle cx="-0.8" cy="8.3" r="0.49"/><circle cx="-1.7" cy="-0.1" r="0.53"/><circle cx="2.6" cy="-1.2" r="0.63"/><circle cx="-0.9" cy="4.7" r="0.45"/></g></g>
<g transform="translate(96.8 760.7) rotate(-27)"><ellipse rx="3.6" ry="10.0" fill="#909090" fill-opacity="0.1"/><g fill="#9a9a9a" fill-opacity="0.75"><circle cx="-2.5" cy="-4.1" r="0.62"/><circle cx="3.0" cy="2.1" r="0.66"/><circle cx="-0.8" cy="-0.6" r="0.46"/><circle cx="1.6" cy="0.2" r="0.67"/><circle cx="-2.3" cy="-5.1" r="0.63"/><circle cx="2.4" cy="-4.2" r="0.57"/><circle cx="-2.1" cy="-6.0" r="0.56"/><circle cx="-0.7" cy="-4.2" r="0.58"/><circle cx="-3.0" cy="2.3" r="0.39"/><circle cx="0.3" cy="1.7" r="0.62"/><circle cx="2.5" cy="-4.2" r="0.48"/><circle cx="1.4" cy="-8.0" r="0.55"/><circle cx="-0.1" cy="5.5" r="0.50"/><circle cx="-1.0" cy="6.0" r="0.57"/><circle cx="0.8" cy="-0.9" r="0.55"/><circle cx="1.2" cy="0.8" r="0.63"/><circle cx="-3.1" cy="-4.4" r="0.51"/><circle cx="2.2" cy="0.6" r="0.56"/><circle cx="3.3" cy="-3.8" r="0.52"/><circle cx="-1.0" cy="1.7" r="0.58"/><circle cx="0.3" cy="3.8" r="0.36"/><circle cx="3.0" cy="0.2" r="0.39"/><circle cx="1.0" cy="-0.6" r="0.65"/><circle cx="0.3" cy="1.0" r="0.60"/><circle cx="0.1" cy="8.6" r="0.42"/><circle cx="3.0" cy="2.7" r="0.60"/><circle cx="1.9" cy="-6.7" r="0.38"/><circle cx="-2.1" cy="-6.1" r="0.51"/><circle cx="1.7" cy="-2.1" r="0.69"/><circle cx="-0.1" cy="-1.0" r="0.36"/><circle cx="-1.9" cy="-7.3" r="0.38"/><circle cx="-1.2" cy="7.9" r="0.41"/><circle cx="1.6" cy="-5.3" r="0.37"/><circle cx="-1.8" cy="5.6" r="0.50"/><circle cx="-0.6" cy="-3.4" r="0.63"/><circle cx="-1.9" cy="6.1" r="0.57"/><circle cx="-1.9" cy="3.1" r="0.63"/><circle cx="3.0" cy="-3.0" r="0.55"/><circle cx="-0.2" cy="2.4" r="0.69"/><circle cx="-0.9" cy="-8.7" r="0.47"/><circle cx="-2.8" cy="-6.1" r="0.64"/><circle cx="-1.6" cy="-3.3" r="0.50"/><circle cx="1.7" cy="-4.0" r="0.59"/><circle cx="-2.7" cy="-5.6" r="0.63"/><circle cx="-0.0" cy="0.4" r="0.44"/></g></g>
<g transform="translate(116.9 760.0) rotate(-27)"><ellipse rx="3.8" ry="10.5" fill="#909090" fill-opacity="0.1"/><g fill="#9a9a9a" fill-opacity="0.75"><circle cx="-2.6" cy="3.8" r="0.64"/><circle cx="0.6" cy="-1.4" r="0.64"/><circle cx="1.3" cy="-9.1" r="0.55"/><circle cx="-0.5" cy="9.6" r="0.63"/><circle cx="-1.5" cy="-9.2" r="0.47"/><circle cx="2.4" cy="4.0" r="0.63"/><circle cx="1.0" cy="8.7" r="0.68"/><circle cx="0.3" cy="8.1" r="0.59"/><circle cx="-1.7" cy="1.0" r="0.44"/><circle cx="0.0" cy="-9.3" r="0.51"/><circle cx="2.9" cy="4.9" r="0.62"/><circle cx="0.3" cy="7.9" r="0.66"/><circle cx="2.1" cy="-5.0" r="0.52"/><circle cx="-1.4" cy="-2.4" r="0.42"/><circle cx="1.3" cy="8.0" r="0.48"/><circle cx="-2.2" cy="-2.6" r="0.53"/><circle cx="0.5" cy="1.8" r="0.70"/><circle cx="-0.9" cy="2.4" r="0.57"/><circle cx="0.3" cy="-4.0" r="0.56"/><circle cx="-1.5" cy="6.3" r="0.36"/><circle cx="3.7" cy="2.2" r="0.65"/><circle cx="-2.9" cy="0.7" r="0.44"/><circle cx="0.5" cy="-6.7" r="0.68"/><circle cx="0.4" cy="-9.4" r="0.69"/><circle cx="-0.0" cy="2.0" r="0.42"/><circle cx="0.5" cy="2.8" r="0.37"/><circle cx="-3.3" cy="-3.5" r="0.51"/><circle cx="3.4" cy="-3.3" r="0.37"/><circle cx="-2.0" cy="-3.8" r="0.39"/><circle cx="1.9" cy="-1.3" r="0.55"/><circle cx="-2.4" cy="-7.9" r="0.58"/><circle cx="-2.0" cy="4.4" r="0.41"/><circle cx="3.7" cy="-2.2" r="0.43"/><circle cx="1.9" cy="1.3" r="0.47"/><circle cx="3.0" cy="-5.7" r="0.64"/><circle cx="3.2" cy="2.7" r="0.60"/><circle cx="-2.3" cy="-8.3" r="0.37"/><circle cx="2.0" cy="7.2" r="0.68"/><circle cx="-0.9" cy="-5.1" r="0.56"/><circle cx="0.1" cy="-3.4" r="0.46"/><circle cx="-0.1" cy="3.7" r="0.52"/><circle cx="0.9" cy="4.5" r="0.40"/><circle cx="-0.2" cy="-1.1" r="0.60"/><circle cx="0.2" cy="1.9" r="0.67"/><circle cx="0.7" cy="10.0" r="0.65"/></g></g>
<g transform="translate(134.2 759.3) rotate(-27)"><ellipse rx="4.0" ry="11.0" fill="#909090" fill-opacity="0.1"/><g fill="#9a9a9a" fill-opacity="0.75"><circle cx="1.1" cy="-2.6" r="0.51"/><circle cx="3.2" cy="6.1" r="0.64"/><circle cx="-1.9" cy="-5.3" r="0.47"/><circle cx="1.2" cy="-6.8" r="0.57"/><circle cx="1.2" cy="4.0" r="0.37"/><circle cx="-0.7" cy="-8.0" r="0.40"/><circle cx="1.4" cy="-4.1" r="0.49"/><circle cx="1.2" cy="4.8" r="0.64"/><circle cx="-0.8" cy="3.9" r="0.52"/><circle cx="-1.6" cy="9.5" r="0.39"/><circle cx="0.9" cy="-0.4" r="0.66"/><circle cx="-0.9" cy="-4.4" r="0.52"/><circle cx="-0.5" cy="5.4" r="0.42"/><circle cx="-2.6" cy="8.2" r="0.70"/><circle cx="1.1" cy="-1.6" r="0.45"/><circle cx="0.8" cy="-1.6" r="0.60"/><circle cx="-1.1" cy="10.5" r="0.36"/><circle cx="0.8" cy="-6.0" r="0.40"/><circle cx="3.6" cy="0.1" r="0.53"/><circle cx="1.0" cy="6.7" r="0.67"/><circle cx="0.6" cy="8.1" r="0.40"/><circle cx="1.5" cy="8.7" r="0.60"/><circle cx="0.4" cy="2.9" r="0.38"/><circle cx="-2.2" cy="-4.9" r="0.45"/><circle cx="0.9" cy="8.3" r="0.60"/><circle cx="1.2" cy="-7.8" r="0.42"/><circle cx="3.1" cy="3.8" r="0.49"/><circle cx="-0.2" cy="-2.5" r="0.63"/><circle cx="-1.9" cy="8.7" r="0.65"/><circle cx="-0.5" cy="0.1" r="0.67"/><circle cx="-3.7" cy="1.5" r="0.44"/><circle cx="1.4" cy="9.2" r="0.48"/><circle cx="1.3" cy="5.7" r="0.56"/><circle cx="2.9" cy="0.2" r="0.51"/><circle cx="-1.4" cy="-0.4" r="0.60"/><circle cx="1.5" cy="-9.4" r="0.46"/><circle cx="-0.6" cy="-6.6" r="0.61"/><circle cx="3.5" cy="3.9" r="0.68"/><circle cx="-2.9" cy="0.3" r="0.54"/><circle cx="-0.6" cy="-0.4" r="0.69"/><circle cx="0.3" cy="4.6" r="0.39"/><circle cx="-0.0" cy="9.9" r="0.36"/><circle cx="2.7" cy="5.2" r="0.42"/><circle cx="3.1" cy="0.9" r="0.55"/><circle cx="-3.3" cy="-1.3" r="0.39"/></g></g>
<circle cx="90.4" cy="762.8" r="0.9" fill="#e0e0e0"/>
<circle cx="139.5" cy="769" r="1.4" fill="#bdbdbd"/>
<g transform="translate(80.1 787.1) rotate(-27)"><polygon points="5.8,0.0 5.0,3.4 5.1,5.9 4.6,7.5 4.1,9.0 3.4,10.4 2.2,10.4 1.1,11.7 -1.1,11.9 -2.3,10.8 -3.5,10.8 -4.0,9.0 -4.9,8.1 -4.9,5.7 -5.3,3.6 -5.7,0.0 -5.7,-3.8 -4.8,-5.5 -5.0,-8.3 -4.0,-8.8 -3.4,-10.4 -2.4,-11.0 -1.1,-11.2 1.0,-10.5 2.5,-11.7 3.6,-10.9 4.3,-9.6 5.0,-8.2 5.3,-6.1 5.5,-3.8" fill="#ececec"/><g fill="#ececec"><circle cx="5.6" cy="0.0" r="1.6"/><circle cx="4.9" cy="3.3" r="1.1"/><circle cx="5.0" cy="5.8" r="1.5"/><circle cx="4.4" cy="7.3" r="1.1"/><circle cx="3.9" cy="8.8" r="1.1"/><circle cx="3.3" cy="10.1" r="1.8"/><circle cx="2.2" cy="10.1" r="1.5"/><circle cx="1.1" cy="11.4" r="1.1"/><circle cx="-1.1" cy="11.5" r="1.8"/><circle cx="-2.2" cy="10.4" r="1.4"/><circle cx="-3.4" cy="10.4" r="1.5"/><circle cx="-3.9" cy="8.7" r="1.8"/><circle cx="-4.8" cy="7.8" r="1.3"/><circle cx="-4.8" cy="5.5" r="1.3"/><circle cx="-5.2" cy="3.5" r="1.9"/><circle cx="-5.6" cy="0.0" r="1.8"/><circle cx="-5.5" cy="-3.7" r="1.8"/><circle cx="-4.7" cy="-5.4" r="1.5"/><circle cx="-4.9" cy="-8.0" r="1.8"/><circle cx="-3.8" cy="-8.6" r="1.4"/><circle cx="-3.3" cy="-10.1" r="1.3"/><circle cx="-2.3" cy="-10.7" r="1.1"/><circle cx="-1.0" cy="-10.9" r="1.5"/><circle cx="1.0" cy="-10.2" r="1.1"/><circle cx="2.4" cy="-11.4" r="1.7"/><circle cx="3.4" cy="-10.6" r="1.6"/><circle cx="4.2" cy="-9.3" r="1.8"/><circle cx="4.8" cy="-7.9" r="1.0"/><circle cx="5.1" cy="-5.9" r="1.2"/><circle cx="5.4" cy="-3.6" r="1.2"/></g><g fill="#fdfdfd"><circle cx="-4.7" cy="-2.6" r="1.1"/><circle cx="-0.0" cy="7.5" r="1.0"/><circle cx="2.6" cy="-1.7" r="0.9"/><circle cx="-1.0" cy="-2.9" r="1.1"/><circle cx="3.5" cy="-2.0" r="0.9"/><circle cx="-3.6" cy="1.6" r="0.8"/><circle cx="1.3" cy="2.6" r="0.9"/><circle cx="-2.2" cy="3.1" r="0.8"/><circle cx="3.2" cy="4.0" r="1.2"/></g><g fill="#c4c4c4"><circle cx="-2.9" cy="-5.0" r="1.1"/><circle cx="1.3" cy="8.3" r="1.0"/><circle cx="-3.7" cy="-2.4" r="1.0"/><circle cx="-0.9" cy="4.7" r="0.8"/><circle cx="-3.1" cy="-0.5" r="1.1"/><circle cx="3.0" cy="0.5" r="1.2"/><circle cx="0.3" cy="7.7" r="1.0"/><circle cx="-1.1" cy="10.1" r="0.9"/><circle cx="0.3" cy="-4.1" r="0.7"/><circle cx="2.3" cy="-5.0" r="0.7"/><circle cx="-2.5" cy="4.5" r="1.1"/><circle cx="1.8" cy="3.1" r="1.3"/><circle cx="-0.1" cy="-4.1" r="0.9"/></g></g>
<g transform="translate(97.4 785.0) rotate(-27)"><polygon points="5.3,0.0 5.4,4.1 5.3,6.8 4.8,8.8 4.2,10.5 3.4,11.7 2.5,12.8 1.1,13.1 -1.1,12.9 -2.3,12.0 -3.3,11.4 -4.2,10.5 -4.7,8.6 -5.0,6.5 -5.5,4.2 -5.3,0.0 -5.2,-4.0 -5.3,-6.8 -4.6,-8.5 -3.8,-9.6 -3.1,-10.6 -2.3,-12.2 -1.1,-13.2 1.1,-13.1 2.5,-12.8 3.2,-11.1 3.7,-9.3 4.7,-8.6 5.4,-6.9 5.3,-4.0" fill="#ececec"/><g fill="#ececec"><circle cx="5.1" cy="0.0" r="1.6"/><circle cx="5.2" cy="4.0" r="1.8"/><circle cx="5.1" cy="6.6" r="1.5"/><circle cx="4.7" cy="8.5" r="1.7"/><circle cx="4.1" cy="10.1" r="1.4"/><circle cx="3.3" cy="11.4" r="1.6"/><circle cx="2.4" cy="12.4" r="1.1"/><circle cx="1.1" cy="12.7" r="1.0"/><circle cx="-1.1" cy="12.5" r="1.5"/><circle cx="-2.2" cy="11.7" r="1.9"/><circle cx="-3.2" cy="11.0" r="1.4"/><circle cx="-4.1" cy="10.2" r="1.8"/><circle cx="-4.6" cy="8.4" r="1.3"/><circle cx="-4.9" cy="6.3" r="1.4"/><circle cx="-5.3" cy="4.0" r="1.3"/><circle cx="-5.1" cy="0.0" r="1.5"/><circle cx="-5.1" cy="-3.8" r="1.3"/><circle cx="-5.1" cy="-6.6" r="1.8"/><circle cx="-4.5" cy="-8.2" r="1.4"/><circle cx="-3.7" cy="-9.3" r="1.3"/><circle cx="-3.0" cy="-10.3" r="1.5"/><circle cx="-2.3" cy="-11.8" r="1.1"/><circle cx="-1.1" cy="-12.8" r="1.3"/><circle cx="1.1" cy="-12.7" r="1.8"/><circle cx="2.4" cy="-12.5" r="1.2"/><circle cx="3.1" cy="-10.8" r="1.8"/><circle cx="3.6" cy="-9.0" r="1.0"/><circle cx="4.5" cy="-8.3" r="1.4"/><circle cx="5.2" cy="-6.7" r="1.7"/><circle cx="5.2" cy="-3.9" r="1.9"/></g><g fill="#fdfdfd"><circle cx="-3.5" cy="-0.9" r="1.1"/><circle cx="-2.3" cy="4.4" r="1.1"/><circle cx="-2.8" cy="8.9" r="1.1"/><circle cx="-1.5" cy="-0.6" r="0.9"/><circle cx="-3.0" cy="5.0" r="1.0"/><circle cx="3.5" cy="-7.7" r="1.0"/><circle cx="-3.6" cy="3.3" r="1.3"/><circle cx="-2.0" cy="6.9" r="1.2"/><circle cx="1.3" cy="5.6" r="1.3"/></g><g fill="#c4c4c4"><circle cx="1.6" cy="-7.2" r="0.8"/><circle cx="3.2" cy="-5.8" r="1.2"/><circle cx="4.6" cy="-0.7" r="1.0"/><circle cx="1.5" cy="5.1" r="1.0"/><circle cx="-2.1" cy="-0.2" r="0.8"/><circle cx="-2.6" cy="-6.5" r="0.9"/><circle cx="3.9" cy="-0.4" r="0.7"/><circle cx="-3.7" cy="5.3" r="0.9"/><circle cx="-0.1" cy="-0.7" r="0.9"/><circle cx="2.1" cy="-7.3" r="1.1"/><circle cx="1.1" cy="7.6" r="1.0"/><circle cx="-0.4" cy="9.1" r="1.0"/><circle cx="3.7" cy="-0.2" r="0.9"/></g></g>
<g transform="translate(118.0 785.0) rotate(-27)"><polygon points="5.4,0.0 5.9,4.2 5.1,6.2 5.0,8.7 4.4,10.4 3.3,10.7 2.6,12.7 1.2,13.0 -1.1,12.0 -2.3,11.5 -3.5,11.5 -4.3,10.1 -4.6,8.0 -5.5,6.7 -5.6,4.0 -5.5,0.0 -6.0,-4.3 -5.3,-6.4 -5.2,-9.0 -4.4,-10.4 -3.5,-11.4 -2.4,-11.7 -1.2,-13.0 1.1,-12.2 2.5,-12.2 3.4,-11.0 4.2,-10.0 5.3,-9.2 5.5,-6.7 5.7,-4.1" fill="#ececec"/><g fill="#ececec"><circle cx="5.3" cy="0.0" r="1.1"/><circle cx="5.7" cy="4.1" r="1.1"/><circle cx="4.9" cy="6.0" r="1.2"/><circle cx="4.8" cy="8.4" r="1.7"/><circle cx="4.3" cy="10.1" r="1.7"/><circle cx="3.2" cy="10.3" r="1.0"/><circle cx="2.5" cy="12.3" r="1.3"/><circle cx="1.1" cy="12.6" r="1.3"/><circle cx="-1.0" cy="11.6" r="1.2"/><circle cx="-2.3" cy="11.1" r="1.8"/><circle cx="-3.4" cy="11.2" r="1.3"/><circle cx="-4.2" cy="9.8" r="1.3"/><circle cx="-4.5" cy="7.8" r="1.8"/><circle cx="-5.3" cy="6.5" r="1.9"/><circle cx="-5.5" cy="3.9" r="1.6"/><circle cx="-5.4" cy="0.0" r="1.0"/><circle cx="-5.9" cy="-4.2" r="1.8"/><circle cx="-5.1" cy="-6.2" r="1.8"/><circle cx="-5.0" cy="-8.8" r="1.3"/><circle cx="-4.3" cy="-10.1" r="1.9"/><circle cx="-3.4" cy="-11.1" r="1.9"/><circle cx="-2.3" cy="-11.4" r="1.4"/><circle cx="-1.1" cy="-12.6" r="1.2"/><circle cx="1.1" cy="-11.9" r="1.8"/><circle cx="2.4" cy="-11.8" r="1.7"/><circle cx="3.3" cy="-10.6" r="1.2"/><circle cx="4.1" cy="-9.7" r="1.2"/><circle cx="5.1" cy="-9.0" r="1.3"/><circle cx="5.3" cy="-6.5" r="1.1"/><circle cx="5.5" cy="-4.0" r="1.3"/></g><g fill="#fdfdfd"><circle cx="-1.1" cy="1.7" r="0.8"/><circle cx="1.4" cy="-6.1" r="0.8"/><circle cx="1.0" cy="5.7" r="0.8"/><circle cx="4.2" cy="2.1" r="0.9"/><circle cx="2.5" cy="8.1" r="0.8"/><circle cx="-0.6" cy="10.5" r="0.8"/><circle cx="-4.5" cy="3.7" r="1.2"/><circle cx="1.7" cy="5.8" r="1.1"/><circle cx="-3.7" cy="7.9" r="0.8"/></g><g fill="#c4c4c4"><circle cx="3.6" cy="-2.5" r="0.8"/><circle cx="-1.8" cy="1.2" r="1.1"/><circle cx="-0.3" cy="10.9" r="1.1"/><circle cx="-1.8" cy="4.2" r="1.1"/><circle cx="1.1" cy="10.5" r="0.8"/><circle cx="-3.9" cy="-0.7" r="0.9"/><circle cx="0.4" cy="-7.1" r="1.1"/><circle cx="-2.7" cy="-2.7" r="0.9"/><circle cx="1.9" cy="2.5" r="1.2"/><circle cx="-1.9" cy="8.5" r="0.8"/><circle cx="-2.9" cy="-2.6" r="1.0"/><circle cx="-0.4" cy="2.8" r="0.9"/><circle cx="0.3" cy="4.1" r="1.1"/></g></g>
<g transform="translate(136.3 785.7) rotate(-27)"><polygon points="5.8,0.0 6.2,4.5 5.9,7.2 4.8,8.4 4.1,9.8 3.7,12.0 2.5,12.4 1.2,13.4 -1.2,13.6 -2.6,12.8 -3.4,11.1 -4.6,10.9 -4.8,8.3 -5.3,6.5 -5.7,4.1 -5.5,0.0 -6.0,-4.3 -5.9,-7.2 -5.3,-9.2 -4.4,-10.4 -3.5,-11.5 -2.7,-13.2 -1.1,-12.6 1.2,-13.7 2.4,-11.7 3.4,-11.1 4.3,-10.1 5.3,-9.2 5.7,-7.0 6.1,-4.4" fill="#ececec"/><g fill="#ececec"><circle cx="5.6" cy="0.0" r="1.4"/><circle cx="6.0" cy="4.3" r="1.7"/><circle cx="5.7" cy="7.0" r="1.8"/><circle cx="4.7" cy="8.1" r="1.2"/><circle cx="4.0" cy="9.5" r="1.6"/><circle cx="3.6" cy="11.7" r="1.3"/><circle cx="2.4" cy="12.0" r="1.6"/><circle cx="1.2" cy="13.0" r="1.2"/><circle cx="-1.2" cy="13.2" r="1.3"/><circle cx="-2.5" cy="12.4" r="1.2"/><circle cx="-3.3" cy="10.7" r="1.8"/><circle cx="-4.5" cy="10.6" r="1.6"/><circle cx="-4.6" cy="8.0" r="1.0"/><circle cx="-5.1" cy="6.3" r="1.2"/><circle cx="-5.5" cy="4.0" r="1.3"/><circle cx="-5.4" cy="0.0" r="1.3"/><circle cx="-5.8" cy="-4.2" r="1.2"/><circle cx="-5.7" cy="-6.9" r="1.5"/><circle cx="-5.1" cy="-8.9" r="1.2"/><circle cx="-4.3" cy="-10.1" r="1.6"/><circle cx="-3.4" cy="-11.1" r="1.0"/><circle cx="-2.6" cy="-12.8" r="1.7"/><circle cx="-1.1" cy="-12.2" r="1.0"/><circle cx="1.2" cy="-13.3" r="1.5"/><circle cx="2.3" cy="-11.4" r="1.2"/><circle cx="3.3" cy="-10.7" r="1.7"/><circle cx="4.1" cy="-9.8" r="1.8"/><circle cx="5.1" cy="-8.9" r="1.1"/><circle cx="5.6" cy="-6.8" r="1.4"/><circle cx="5.9" cy="-4.2" r="1.7"/></g><g fill="#fdfdfd"><circle cx="-0.3" cy="3.5" r="1.3"/><circle cx="-4.7" cy="5.3" r="1.1"/><circle cx="-0.4" cy="-10.8" r="1.1"/><circle cx="-1.2" cy="0.8" r="1.1"/><circle cx="-3.5" cy="3.7" r="1.3"/><circle cx="3.3" cy="7.5" r="0.7"/><circle cx="-1.4" cy="-10.2" r="0.9"/><circle cx="-5.1" cy="-3.4" r="1.1"/><circle cx="-2.6" cy="-1.6" r="0.7"/></g><g fill="#c4c4c4"><circle cx="-2.2" cy="5.9" r="0.8"/><circle cx="-0.7" cy="4.1" r="1.1"/><circle cx="-1.3" cy="-5.1" r="0.8"/><circle cx="-3.6" cy="-0.8" r="1.3"/><circle cx="-1.8" cy="5.2" r="1.2"/><circle cx="2.6" cy="6.9" r="0.9"/><circle cx="1.6" cy="-8.1" r="1.2"/><circle cx="2.2" cy="8.5" r="1.1"/><circle cx="-4.6" cy="2.5" r="1.2"/><circle cx="2.2" cy="4.2" r="0.9"/><circle cx="0.4" cy="2.8" r="0.9"/><circle cx="1.5" cy="9.4" r="1.0"/><circle cx="2.4" cy="4.4" r="1.0"/></g></g>
</g>
<text x="107.9" y="690.4" font-size="14.8" text-anchor="middle" textLength="32.8" lengthAdjust="spacingAndGlyphs" style="stroke:#000;stroke-width:0.2;">FOA</text>
<text x="62.0" y="714.9" font-size="14.2" text-anchor="end" textLength="15.6" lengthAdjust="spacingAndGlyphs" style="stroke:#000;stroke-width:0.2;">ev</text>
<text x="62.0" y="741.6" font-size="14.2" text-anchor="end" textLength="43.7" lengthAdjust="spacingAndGlyphs" style="stroke:#000;stroke-width:0.2;">Hsp82</text>
<text x="62.0" y="768" font-size="14.2" text-anchor="end" textLength="46.2" lengthAdjust="spacingAndGlyphs" style="stroke:#000;stroke-width:0.2;">R380A</text>
<text x="62.0" y="794.6" font-size="14.2" text-anchor="end" textLength="46.5" lengthAdjust="spacingAndGlyphs" style="stroke:#000;stroke-width:0.2;">R380K</text>
<text x="-0.7" y="680.2" font-size="19.5" style="stroke:#000;stroke-width:0.5;">g</text>
</g>
<g id="pi">
<defs><filter id="blur2" x="-5%" y="-5%" width="110%" height="110%"><feGaussianBlur stdDeviation="0.4"/></filter></defs>
<g filter="url(#blur2)">
<rect x="411.1" y="725.1" width="128.8" height="88.5" fill="#242424"/>
<rect x="544.1" y="725.1" width="128.3" height="88.5" fill="#1d1d1d"/><rect x="544.1" y="776" width="128.3" height="37.6" fill="#262626"/>
<rect x="411.1" y="783.5" width="128.8" height="0.7" fill="#7a7a7a"/>
<rect x="544.1" y="783.5" width="128.3" height="0.7" fill="#8a8a8a"/>
<circle cx="424.4" cy="738.0" r="10.6" fill="#dadada"/><circle cx="424.4" cy="738.0" r="7.6" fill="#c6c6c6"/>
<circle cx="452.0" cy="738.0" r="9.8" fill="#dadada"/><circle cx="452.0" cy="738.0" r="7.1" fill="#c6c6c6"/><g fill="#8e8e8e"><circle cx="455.9" cy="744.7" r="0.7"/><circle cx="447.7" cy="738.6" r="0.7"/><circle cx="454.4" cy="731.8" r="0.6"/><circle cx="452.0" cy="738.5" r="0.5"/><circle cx="449.9" cy="736.7" r="0.7"/><circle cx="452.5" cy="742.5" r="0.4"/><circle cx="460.0" cy="737.9" r="0.8"/><circle cx="450.7" cy="736.9" r="0.5"/><circle cx="448.8" cy="738.0" r="0.8"/><circle cx="449.5" cy="740.7" r="0.7"/><circle cx="458.3" cy="744.3" r="0.6"/><circle cx="446.8" cy="736.3" r="0.6"/><circle cx="452.7" cy="739.7" r="0.7"/><circle cx="452.8" cy="746.2" r="0.5"/><circle cx="460.6" cy="736.3" r="0.7"/><circle cx="452.6" cy="730.9" r="0.7"/><circle cx="456.6" cy="742.5" r="0.7"/><circle cx="454.7" cy="746.5" r="0.8"/><circle cx="447.3" cy="741.0" r="0.6"/><circle cx="445.0" cy="744.1" r="0.6"/><circle cx="454.8" cy="738.5" r="0.7"/><circle cx="458.6" cy="737.7" r="0.6"/></g><g fill="#eeeeee"><circle cx="444.3" cy="735.5" r="0.5"/><circle cx="446.6" cy="733.6" r="0.6"/><circle cx="453.6" cy="741.5" r="0.5"/><circle cx="456.9" cy="735.6" r="0.6"/><circle cx="451.0" cy="740.8" r="0.4"/><circle cx="455.2" cy="730.4" r="0.5"/><circle cx="448.9" cy="731.0" r="0.8"/><circle cx="457.7" cy="736.5" r="0.8"/><circle cx="458.9" cy="736.3" r="0.8"/><circle cx="446.3" cy="738.3" r="0.5"/><circle cx="454.7" cy="735.4" r="0.4"/><circle cx="454.8" cy="730.3" r="0.6"/><circle cx="453.1" cy="736.2" r="0.5"/><circle cx="450.5" cy="743.8" r="0.5"/><circle cx="456.9" cy="740.3" r="0.8"/><circle cx="460.0" cy="737.2" r="0.6"/><circle cx="451.9" cy="747.1" r="0.6"/><circle cx="451.8" cy="736.4" r="0.5"/></g>
<g fill="#dcdcdc"><circle cx="482.2" cy="731.9" r="1.7"/><circle cx="473.7" cy="735.1" r="1.5"/><circle cx="481.0" cy="734.5" r="1.5"/><circle cx="477.0" cy="745.8" r="1.2"/><circle cx="474.9" cy="730.7" r="1.2"/><circle cx="486.1" cy="736.3" r="1.3"/><circle cx="480.4" cy="739.9" r="1.2"/><circle cx="475.2" cy="739.5" r="1.7"/><circle cx="476.5" cy="735.9" r="1.5"/><circle cx="475.5" cy="743.8" r="1.3"/><circle cx="476.6" cy="732.2" r="1.2"/><circle cx="478.4" cy="737.7" r="1.5"/><circle cx="485.1" cy="741.3" r="1.3"/><circle cx="477.5" cy="740.0" r="1.4"/><circle cx="471.8" cy="738.3" r="1.8"/><circle cx="477.4" cy="730.0" r="1.4"/><circle cx="478.7" cy="743.7" r="1.5"/><circle cx="472.5" cy="732.2" r="1.3"/><circle cx="484.1" cy="733.6" r="1.6"/><circle cx="483.0" cy="738.6" r="1.4"/><circle cx="482.2" cy="741.1" r="1.5"/><circle cx="481.5" cy="744.8" r="1.5"/><circle cx="479.6" cy="730.4" r="1.5"/><circle cx="484.7" cy="743.6" r="1.5"/><circle cx="472.8" cy="744.1" r="1.5"/><circle cx="471.0" cy="740.5" r="1.2"/><circle cx="476.0" cy="741.7" r="1.2"/><circle cx="470.7" cy="735.8" r="1.7"/><circle cx="473.6" cy="741.8" r="1.6"/><circle cx="479.3" cy="745.9" r="1.3"/><circle cx="479.1" cy="733.2" r="1.4"/><circle cx="482.4" cy="736.6" r="1.2"/><circle cx="485.1" cy="739.3" r="1.2"/><circle cx="480.4" cy="736.8" r="1.2"/></g>
<g fill="#dcdcdc"><circle cx="502.1" cy="735.0" r="1.9"/><circle cx="509.6" cy="739.5" r="1.9"/><circle cx="504.8" cy="737.0" r="1.8"/><circle cx="506.4" cy="741.5" r="1.9"/><circle cx="500.0" cy="738.3" r="1.9"/><circle cx="506.2" cy="733.4" r="2.0"/><circle cx="502.4" cy="740.6" r="1.7"/><circle cx="509.8" cy="732.8" r="1.8"/><circle cx="508.8" cy="735.7" r="1.6"/><circle cx="512.0" cy="734.3" r="1.6"/><circle cx="509.2" cy="742.9" r="1.8"/><circle cx="502.9" cy="731.8" r="1.5"/><circle cx="512.7" cy="737.8" r="1.8"/></g>
<g fill="#dedede"><circle cx="521.3" cy="738.8" r="1.7"/><circle cx="524.3" cy="735.5" r="1.7"/><circle cx="527.4" cy="738.2" r="2.0"/><circle cx="530.6" cy="736.7" r="1.9"/><circle cx="531.5" cy="733.4" r="1.7"/><circle cx="529.4" cy="744.5" r="2.3"/><circle cx="527.0" cy="745.5" r="1.7"/></g>
<circle cx="425.4" cy="768.0" r="10.6" fill="#dadada"/><circle cx="425.4" cy="768.0" r="7.6" fill="#c6c6c6"/>
<circle cx="452.4" cy="767.4" r="9.8" fill="#dadada"/><circle cx="452.4" cy="767.4" r="7.1" fill="#c6c6c6"/><g fill="#8e8e8e"><circle cx="459.9" cy="769.8" r="0.7"/><circle cx="447.6" cy="772.8" r="0.4"/><circle cx="451.8" cy="759.8" r="0.7"/><circle cx="443.6" cy="768.9" r="0.6"/><circle cx="455.2" cy="767.5" r="0.5"/><circle cx="453.1" cy="771.8" r="0.4"/><circle cx="447.2" cy="760.3" r="0.8"/><circle cx="448.4" cy="772.6" r="0.6"/><circle cx="446.0" cy="762.7" r="0.6"/><circle cx="457.6" cy="768.0" r="0.4"/><circle cx="448.6" cy="759.1" r="0.6"/><circle cx="449.9" cy="760.8" r="0.8"/><circle cx="455.9" cy="773.5" r="0.5"/><circle cx="448.2" cy="768.5" r="0.7"/><circle cx="450.0" cy="771.6" r="0.7"/><circle cx="456.4" cy="767.8" r="0.8"/><circle cx="450.3" cy="763.8" r="0.5"/><circle cx="448.4" cy="759.9" r="0.8"/><circle cx="459.9" cy="764.5" r="0.4"/><circle cx="453.8" cy="761.4" r="0.6"/><circle cx="453.5" cy="767.6" r="0.6"/><circle cx="449.4" cy="763.6" r="0.8"/></g><g fill="#eeeeee"><circle cx="460.3" cy="771.0" r="0.8"/><circle cx="459.6" cy="771.9" r="0.6"/><circle cx="446.8" cy="769.9" r="0.6"/><circle cx="459.7" cy="763.8" r="0.6"/><circle cx="448.6" cy="768.4" r="0.6"/><circle cx="457.1" cy="761.7" r="0.6"/><circle cx="443.6" cy="770.1" r="0.7"/><circle cx="444.9" cy="766.6" r="0.7"/><circle cx="452.1" cy="774.8" r="0.5"/><circle cx="452.9" cy="762.3" r="0.8"/><circle cx="450.0" cy="761.1" r="0.6"/><circle cx="448.2" cy="765.0" r="0.4"/><circle cx="447.6" cy="768.9" r="0.6"/><circle cx="453.4" cy="771.5" r="0.8"/><circle cx="446.6" cy="773.0" r="0.5"/><circle cx="459.0" cy="771.4" r="0.6"/><circle cx="452.8" cy="766.1" r="0.6"/><circle cx="448.8" cy="764.9" r="0.7"/></g>
<g fill="#dcdcdc"><circle cx="479.6" cy="770.1" r="1.3"/><circle cx="484.0" cy="769.0" r="1.7"/><circle cx="480.1" cy="775.5" r="1.7"/><circle cx="483.8" cy="772.3" r="1.7"/><circle cx="477.3" cy="770.2" r="1.5"/><circle cx="478.1" cy="759.8" r="1.3"/><circle cx="473.0" cy="772.4" r="1.8"/><circle cx="472.1" cy="765.2" r="1.4"/><circle cx="474.1" cy="769.4" r="1.5"/><circle cx="477.5" cy="772.3" r="1.2"/><circle cx="482.8" cy="766.4" r="1.4"/><circle cx="483.2" cy="763.8" r="1.6"/><circle cx="479.5" cy="762.0" r="1.3"/><circle cx="486.8" cy="767.9" r="1.5"/><circle cx="480.3" cy="758.9" r="1.7"/><circle cx="476.1" cy="765.8" r="1.5"/><circle cx="480.6" cy="772.7" r="1.4"/><circle cx="470.9" cy="767.5" r="1.5"/><circle cx="485.3" cy="765.8" r="1.6"/><circle cx="470.9" cy="769.8" r="1.3"/><circle cx="478.9" cy="764.5" r="1.5"/><circle cx="475.6" cy="759.5" r="1.6"/><circle cx="474.4" cy="763.9" r="1.6"/><circle cx="475.5" cy="773.6" r="1.4"/><circle cx="477.4" cy="762.5" r="1.2"/><circle cx="485.7" cy="762.5" r="1.7"/><circle cx="478.2" cy="767.2" r="1.7"/><circle cx="481.8" cy="770.1" r="1.4"/><circle cx="476.6" cy="775.6" r="1.2"/><circle cx="473.2" cy="761.4" r="1.6"/><circle cx="483.0" cy="774.7" r="1.4"/><circle cx="473.6" cy="767.0" r="1.4"/><circle cx="486.6" cy="770.7" r="1.5"/><circle cx="482.1" cy="761.1" r="1.7"/><circle cx="480.8" cy="766.0" r="1.2"/><circle cx="480.9" cy="763.4" r="1.3"/></g>
<g fill="#dcdcdc"><circle cx="507.7" cy="766.1" r="1.5"/><circle cx="505.5" cy="762.0" r="1.9"/><circle cx="507.7" cy="770.0" r="1.7"/><circle cx="499.6" cy="769.7" r="2.0"/><circle cx="503.8" cy="768.0" r="1.8"/><circle cx="499.3" cy="762.7" r="1.8"/><circle cx="501.8" cy="765.7" r="1.8"/><circle cx="500.7" cy="759.9" r="1.5"/><circle cx="502.7" cy="771.7" r="1.7"/><circle cx="505.5" cy="765.2" r="1.4"/><circle cx="509.7" cy="762.8" r="1.5"/><circle cx="505.6" cy="759.2" r="1.6"/><circle cx="503.0" cy="759.4" r="1.7"/><circle cx="512.1" cy="768.3" r="1.7"/><circle cx="509.7" cy="759.8" r="2.0"/><circle cx="502.4" cy="762.4" r="1.9"/><circle cx="512.6" cy="764.8" r="1.8"/><circle cx="509.9" cy="767.0" r="1.6"/></g>
<g fill="#dedede"><circle cx="528.4" cy="760.5" r="2.5"/><circle cx="523.8" cy="766.5" r="1.8"/><circle cx="529.2" cy="768.0" r="1.9"/><circle cx="528.0" cy="773.5" r="2.2"/></g>
<circle cx="423.0" cy="799.7" r="9.3" fill="#dadada"/><circle cx="423.0" cy="799.7" r="6.7" fill="#c6c6c6"/>
<circle cx="448.5" cy="798.7" r="8.4" fill="#7c7c7c"/><g fill="#dedede"><circle cx="446.4" cy="799.1" r="1.2"/><circle cx="446.4" cy="792.7" r="0.9"/><circle cx="452.1" cy="801.3" r="0.9"/><circle cx="448.3" cy="805.3" r="1.2"/><circle cx="451.4" cy="800.0" r="1.0"/><circle cx="448.4" cy="795.5" r="1.0"/><circle cx="455.1" cy="803.8" r="1.0"/><circle cx="445.0" cy="797.6" r="0.9"/><circle cx="445.3" cy="801.8" r="1.0"/><circle cx="441.1" cy="796.8" r="0.9"/><circle cx="456.6" cy="797.3" r="0.9"/><circle cx="445.1" cy="805.8" r="0.9"/><circle cx="442.0" cy="796.1" r="0.9"/><circle cx="440.6" cy="799.2" r="1.1"/><circle cx="454.4" cy="793.8" r="1.0"/><circle cx="448.2" cy="791.3" r="1.1"/><circle cx="443.4" cy="793.4" r="1.0"/><circle cx="451.2" cy="803.7" r="1.0"/><circle cx="446.2" cy="804.8" r="1.1"/><circle cx="451.5" cy="806.1" r="1.1"/><circle cx="447.3" cy="797.3" r="1.1"/><circle cx="451.3" cy="798.2" r="1.2"/><circle cx="453.1" cy="802.5" r="0.9"/><circle cx="452.5" cy="795.3" r="1.2"/><circle cx="455.2" cy="800.0" r="1.2"/><circle cx="449.3" cy="802.5" r="0.9"/><circle cx="446.9" cy="793.8" r="1.0"/><circle cx="456.0" cy="798.4" r="1.0"/><circle cx="447.8" cy="798.7" r="1.0"/><circle cx="449.3" cy="799.5" r="1.0"/><circle cx="453.4" cy="792.1" r="1.2"/><circle cx="447.0" cy="801.9" r="1.2"/><circle cx="453.4" cy="800.5" r="1.0"/><circle cx="444.5" cy="791.9" r="1.0"/><circle cx="444.1" cy="798.4" r="0.9"/><circle cx="446.2" cy="791.1" r="1.0"/><circle cx="454.7" cy="801.7" r="0.9"/><circle cx="450.6" cy="802.3" r="1.1"/><circle cx="451.1" cy="793.0" r="1.0"/><circle cx="442.5" cy="803.2" r="1.2"/><circle cx="447.5" cy="800.2" r="1.0"/><circle cx="443.8" cy="800.3" r="1.1"/><circle cx="442.5" cy="800.8" r="0.9"/><circle cx="451.2" cy="791.1" r="0.9"/><circle cx="449.8" cy="791.3" r="1.0"/><circle cx="444.7" cy="794.2" r="1.0"/><circle cx="446.1" cy="795.7" r="0.9"/><circle cx="448.9" cy="801.0" r="1.2"/><circle cx="454.4" cy="798.0" r="0.9"/><circle cx="443.8" cy="804.4" r="1.0"/><circle cx="442.4" cy="797.5" r="1.1"/><circle cx="449.7" cy="796.4" r="0.9"/><circle cx="450.1" cy="804.7" r="0.9"/><circle cx="444.6" cy="795.7" r="1.1"/><circle cx="445.1" cy="803.2" r="1.1"/><circle cx="454.0" cy="795.9" r="1.2"/><circle cx="443.2" cy="794.7" r="0.9"/><circle cx="447.8" cy="803.8" r="0.9"/><circle cx="449.7" cy="792.5" r="0.9"/><circle cx="441.6" cy="801.9" r="1.0"/><circle cx="452.8" cy="798.8" r="0.9"/><circle cx="451.2" cy="795.8" r="0.9"/><circle cx="450.1" cy="794.7" r="1.1"/><circle cx="453.3" cy="797.3" r="0.9"/><circle cx="442.8" cy="799.1" r="0.9"/><circle cx="447.3" cy="806.5" r="1.2"/><circle cx="452.8" cy="804.3" r="1.0"/><circle cx="450.0" cy="806.5" r="1.2"/><circle cx="442.0" cy="794.5" r="0.9"/><circle cx="456.4" cy="801.2" r="1.0"/></g>
<g fill="#dcdcdc"><circle cx="480.7" cy="798.0" r="1.6"/><circle cx="477.2" cy="795.0" r="1.4"/><circle cx="475.8" cy="802.6" r="1.5"/><circle cx="474.0" cy="804.5" r="1.4"/><circle cx="479.2" cy="793.7" r="1.4"/><circle cx="470.6" cy="800.0" r="1.5"/><circle cx="473.3" cy="798.9" r="1.6"/><circle cx="472.0" cy="802.3" r="1.3"/><circle cx="479.7" cy="796.0" r="1.3"/><circle cx="467.9" cy="796.8" r="1.4"/><circle cx="476.2" cy="798.7" r="1.3"/><circle cx="470.4" cy="806.6" r="1.6"/><circle cx="472.2" cy="792.6" r="1.3"/><circle cx="472.6" cy="807.6" r="1.3"/><circle cx="470.9" cy="797.2" r="1.5"/><circle cx="467.6" cy="800.8" r="1.7"/><circle cx="477.1" cy="806.6" r="1.6"/><circle cx="478.0" cy="804.3" r="1.4"/><circle cx="468.0" cy="804.0" r="1.3"/><circle cx="470.0" cy="793.8" r="1.6"/><circle cx="475.8" cy="793.1" r="1.6"/><circle cx="473.8" cy="795.8" r="1.6"/><circle cx="482.5" cy="799.9" r="1.5"/><circle cx="481.3" cy="802.6" r="1.4"/><circle cx="480.2" cy="805.1" r="1.3"/><circle cx="475.4" cy="807.8" r="1.2"/><circle cx="478.7" cy="799.7" r="1.6"/><circle cx="470.6" cy="803.8" r="1.3"/><circle cx="478.3" cy="802.2" r="1.2"/><circle cx="469.7" cy="802.1" r="1.2"/></g>
<g fill="#dedede"><circle cx="500.5" cy="790.5" r="1.6"/><circle cx="502.8" cy="791.5" r="1.9"/><circle cx="497.5" cy="793.5" r="1.6"/><circle cx="496.0" cy="796.5" r="1.6"/><circle cx="498.5" cy="797.5" r="1.7"/><circle cx="493.0" cy="798.5" r="1.3"/><circle cx="494.5" cy="802.8" r="1.7"/><circle cx="499.5" cy="801.0" r="1.5"/><circle cx="492.5" cy="795.0" r="0.9"/></g>
<g fill="#dedede"><circle cx="525.6" cy="793.6" r="0.8"/><circle cx="527.2" cy="795.3" r="1.1"/><circle cx="529.4" cy="795.6" r="1.3"/><circle cx="531.6" cy="795.5" r="1.2"/></g>
<circle cx="556.3" cy="738.8" r="10.6" fill="#dadada"/><circle cx="556.3" cy="738.8" r="7.6" fill="#c6c6c6"/><g fill="#8e8e8e"><circle cx="560.0" cy="743.9" r="0.6"/><circle cx="556.8" cy="736.2" r="0.4"/><circle cx="563.3" cy="742.9" r="0.5"/><circle cx="553.6" cy="739.1" r="0.6"/><circle cx="554.5" cy="744.8" r="0.5"/><circle cx="563.2" cy="740.8" r="0.6"/><circle cx="551.0" cy="745.9" r="0.7"/><circle cx="551.7" cy="736.2" r="0.6"/><circle cx="554.6" cy="741.7" r="0.4"/><circle cx="562.9" cy="734.9" r="0.8"/><circle cx="547.8" cy="735.7" r="0.5"/><circle cx="556.0" cy="737.8" r="0.5"/><circle cx="557.9" cy="737.1" r="0.4"/><circle cx="559.6" cy="738.1" r="0.7"/><circle cx="560.3" cy="736.2" r="0.8"/><circle cx="561.0" cy="743.4" r="0.5"/><circle cx="559.3" cy="744.4" r="0.8"/><circle cx="556.9" cy="745.9" r="0.5"/><circle cx="562.4" cy="741.6" r="0.8"/><circle cx="558.8" cy="735.5" r="0.6"/><circle cx="552.9" cy="747.7" r="0.5"/><circle cx="559.8" cy="742.9" r="0.6"/></g><g fill="#eeeeee"><circle cx="551.4" cy="731.5" r="0.8"/><circle cx="565.2" cy="741.6" r="0.8"/><circle cx="550.9" cy="741.5" r="0.7"/><circle cx="548.1" cy="741.5" r="0.8"/><circle cx="558.0" cy="732.0" r="0.5"/><circle cx="558.6" cy="739.6" r="0.8"/><circle cx="554.4" cy="738.9" r="0.7"/><circle cx="561.5" cy="745.5" r="0.6"/><circle cx="556.8" cy="729.1" r="0.6"/><circle cx="548.4" cy="743.1" r="0.4"/><circle cx="547.3" cy="739.0" r="0.6"/><circle cx="559.1" cy="746.1" r="0.8"/><circle cx="554.5" cy="732.6" r="0.6"/><circle cx="564.8" cy="744.2" r="0.6"/><circle cx="552.0" cy="744.0" r="0.5"/><circle cx="557.1" cy="737.8" r="0.7"/><circle cx="559.1" cy="730.8" r="0.4"/><circle cx="552.8" cy="733.2" r="0.8"/></g>
<circle cx="582.9" cy="738.8" r="9.6" fill="#7c7c7c"/><g fill="#dedede"><circle cx="580.3" cy="732.9" r="1.1"/><circle cx="591.4" cy="736.8" r="1.1"/><circle cx="577.1" cy="741.8" r="1.2"/><circle cx="582.8" cy="746.5" r="1.0"/><circle cx="583.3" cy="735.5" r="1.1"/><circle cx="576.6" cy="745.6" r="0.9"/><circle cx="584.3" cy="744.2" r="1.1"/><circle cx="582.0" cy="731.9" r="1.0"/><circle cx="588.2" cy="733.0" r="0.9"/><circle cx="574.3" cy="742.2" r="1.1"/><circle cx="588.3" cy="731.2" r="1.2"/><circle cx="581.3" cy="739.9" r="0.9"/><circle cx="589.1" cy="737.5" r="1.0"/><circle cx="588.8" cy="744.7" r="1.2"/><circle cx="581.0" cy="730.4" r="0.9"/><circle cx="582.1" cy="736.6" r="1.0"/><circle cx="590.6" cy="743.1" r="1.1"/><circle cx="586.0" cy="730.4" r="1.2"/><circle cx="579.4" cy="746.3" r="1.2"/><circle cx="577.8" cy="738.4" r="1.1"/><circle cx="583.7" cy="740.3" r="1.1"/><circle cx="579.1" cy="730.4" r="0.9"/><circle cx="588.1" cy="738.7" r="0.9"/><circle cx="582.2" cy="738.1" r="1.1"/><circle cx="586.1" cy="746.9" r="1.1"/><circle cx="577.1" cy="733.5" r="1.0"/><circle cx="579.1" cy="732.6" r="0.9"/><circle cx="582.2" cy="741.3" r="1.1"/><circle cx="588.3" cy="742.8" r="1.2"/><circle cx="579.6" cy="744.7" r="1.2"/><circle cx="586.5" cy="740.6" r="0.9"/><circle cx="583.8" cy="733.3" r="0.9"/><circle cx="590.8" cy="741.2" r="1.2"/><circle cx="584.0" cy="738.4" r="1.0"/><circle cx="586.2" cy="738.5" r="1.0"/><circle cx="584.1" cy="747.5" r="0.9"/><circle cx="587.1" cy="732.6" r="1.0"/><circle cx="580.5" cy="737.0" r="0.9"/><circle cx="587.1" cy="743.9" r="1.1"/><circle cx="586.0" cy="736.5" r="1.2"/><circle cx="582.8" cy="747.9" r="0.9"/><circle cx="587.9" cy="740.4" r="1.1"/><circle cx="579.9" cy="740.5" r="0.9"/><circle cx="584.9" cy="735.0" r="1.1"/><circle cx="585.4" cy="745.6" r="1.0"/><circle cx="580.9" cy="747.2" r="1.0"/><circle cx="587.5" cy="736.4" r="0.9"/><circle cx="591.8" cy="738.9" r="1.1"/><circle cx="576.1" cy="740.3" r="1.2"/><circle cx="575.5" cy="735.1" r="1.2"/><circle cx="591.8" cy="735.2" r="1.0"/><circle cx="581.4" cy="742.6" r="1.2"/><circle cx="574.8" cy="736.5" r="1.0"/><circle cx="577.2" cy="735.7" r="1.1"/><circle cx="586.2" cy="734.0" r="0.9"/><circle cx="585.8" cy="732.1" r="1.1"/><circle cx="589.6" cy="732.8" r="0.9"/><circle cx="575.7" cy="743.1" r="1.2"/><circle cx="578.0" cy="745.7" r="1.0"/><circle cx="585.8" cy="742.4" r="1.0"/><circle cx="590.0" cy="736.2" r="1.2"/><circle cx="582.0" cy="734.0" r="1.2"/><circle cx="578.1" cy="744.1" r="0.9"/><circle cx="589.7" cy="739.6" r="1.2"/><circle cx="575.4" cy="738.3" r="1.0"/><circle cx="579.0" cy="734.2" r="1.2"/><circle cx="582.1" cy="729.9" r="1.0"/><circle cx="583.8" cy="729.3" r="1.2"/><circle cx="584.3" cy="742.1" r="0.9"/><circle cx="578.9" cy="736.3" r="1.1"/><circle cx="587.6" cy="741.6" r="0.9"/><circle cx="584.9" cy="740.9" r="0.9"/><circle cx="582.0" cy="744.8" r="1.1"/><circle cx="585.7" cy="744.4" r="1.0"/><circle cx="577.9" cy="731.2" r="1.0"/><circle cx="580.5" cy="731.6" r="0.9"/><circle cx="581.0" cy="745.7" r="1.0"/><circle cx="574.8" cy="733.9" r="1.0"/><circle cx="584.1" cy="737.1" r="0.9"/><circle cx="589.9" cy="734.2" r="1.1"/><circle cx="587.0" cy="745.3" r="0.9"/><circle cx="578.5" cy="739.7" r="0.9"/><circle cx="582.7" cy="743.4" r="1.1"/><circle cx="587.6" cy="746.3" r="0.9"/><circle cx="579.6" cy="743.1" r="1.0"/></g>
<g fill="#dcdcdc"><circle cx="607.7" cy="730.8" r="1.7"/><circle cx="612.1" cy="739.2" r="1.1"/><circle cx="615.8" cy="738.3" r="1.2"/><circle cx="606.3" cy="733.6" r="1.5"/><circle cx="609.2" cy="743.3" r="1.4"/><circle cx="606.9" cy="740.4" r="1.2"/><circle cx="609.2" cy="735.3" r="1.2"/><circle cx="601.2" cy="739.5" r="1.4"/><circle cx="603.0" cy="737.5" r="1.4"/><circle cx="604.8" cy="736.4" r="1.4"/><circle cx="614.1" cy="744.1" r="1.2"/><circle cx="612.6" cy="736.6" r="1.2"/><circle cx="605.4" cy="743.0" r="1.5"/><circle cx="610.7" cy="736.4" r="1.2"/><circle cx="612.1" cy="741.7" r="1.6"/><circle cx="614.1" cy="731.0" r="1.3"/><circle cx="602.6" cy="733.2" r="1.5"/><circle cx="615.5" cy="735.8" r="1.7"/><circle cx="610.7" cy="730.8" r="1.1"/><circle cx="617.4" cy="741.5" r="1.2"/><circle cx="611.8" cy="732.8" r="1.1"/><circle cx="613.3" cy="746.0" r="1.4"/><circle cx="604.7" cy="740.8" r="1.5"/><circle cx="602.1" cy="742.9" r="1.5"/><circle cx="617.2" cy="734.2" r="1.2"/><circle cx="607.2" cy="735.9" r="1.1"/><circle cx="611.1" cy="744.4" r="1.2"/><circle cx="608.4" cy="746.2" r="1.3"/><circle cx="612.9" cy="734.7" r="1.3"/><circle cx="614.9" cy="732.9" r="1.1"/></g>
<g fill="#dedede"><circle cx="633.2" cy="729.8" r="1.6"/><circle cx="636.5" cy="731.5" r="1.9"/><circle cx="633.0" cy="735.0" r="2.0"/><circle cx="638.5" cy="735.5" r="1.7"/><circle cx="643.5" cy="734.5" r="1.8"/><circle cx="635.5" cy="739.5" r="1.6"/><circle cx="639.0" cy="740.0" r="1.2"/><circle cx="633.0" cy="743.5" r="1.2"/><circle cx="634.0" cy="746.0" r="0.8"/><circle cx="643.0" cy="741.5" r="0.7"/></g>
<g fill="#dedede"><circle cx="661.4" cy="732.4" r="1.7"/><circle cx="665.4" cy="739.6" r="1.8"/><circle cx="662.8" cy="744.2" r="2.1"/><circle cx="657.2" cy="739.5" r="0.6"/></g>
<circle cx="557.0" cy="768.4" r="10.6" fill="#dadada"/><circle cx="557.0" cy="768.4" r="7.6" fill="#c6c6c6"/><g fill="#8e8e8e"><circle cx="555.8" cy="778.2" r="0.6"/><circle cx="559.9" cy="768.3" r="0.4"/><circle cx="566.8" cy="770.4" r="0.8"/><circle cx="549.4" cy="773.5" r="0.6"/><circle cx="557.5" cy="765.7" r="0.5"/><circle cx="562.1" cy="766.6" r="0.5"/><circle cx="556.1" cy="776.5" r="0.5"/><circle cx="551.8" cy="764.0" r="0.7"/><circle cx="561.8" cy="761.3" r="0.5"/><circle cx="552.9" cy="766.9" r="0.7"/><circle cx="550.8" cy="760.7" r="0.8"/><circle cx="551.3" cy="768.0" r="0.6"/><circle cx="559.2" cy="768.2" r="0.8"/><circle cx="556.5" cy="761.1" r="0.7"/><circle cx="556.7" cy="771.9" r="0.5"/><circle cx="564.1" cy="766.9" r="0.5"/><circle cx="554.0" cy="765.0" r="0.4"/><circle cx="562.7" cy="776.0" r="0.6"/><circle cx="553.9" cy="770.3" r="0.6"/><circle cx="550.8" cy="761.4" r="0.6"/><circle cx="553.5" cy="759.1" r="0.4"/><circle cx="554.6" cy="762.2" r="0.7"/></g><g fill="#eeeeee"><circle cx="555.4" cy="759.4" r="0.5"/><circle cx="558.1" cy="761.6" r="0.8"/><circle cx="555.2" cy="761.9" r="0.7"/><circle cx="557.2" cy="773.8" r="0.8"/><circle cx="561.3" cy="769.2" r="0.5"/><circle cx="562.2" cy="766.9" r="0.6"/><circle cx="553.7" cy="768.3" r="0.5"/><circle cx="560.1" cy="759.4" r="0.7"/><circle cx="563.4" cy="775.0" r="0.6"/><circle cx="556.5" cy="769.8" r="0.4"/><circle cx="561.7" cy="770.3" r="0.4"/><circle cx="559.0" cy="774.2" r="0.6"/><circle cx="548.4" cy="763.6" r="0.6"/><circle cx="560.6" cy="771.8" r="0.5"/><circle cx="556.8" cy="769.2" r="0.6"/><circle cx="560.1" cy="773.8" r="0.7"/><circle cx="557.1" cy="776.0" r="0.7"/><circle cx="556.1" cy="776.9" r="0.5"/></g>
<circle cx="583.9" cy="768.0" r="9.6" fill="#7c7c7c"/><g fill="#dedede"><circle cx="575.5" cy="771.4" r="1.2"/><circle cx="589.8" cy="771.3" r="1.2"/><circle cx="582.1" cy="767.7" r="1.2"/><circle cx="583.2" cy="776.3" r="1.1"/><circle cx="581.4" cy="759.2" r="0.9"/><circle cx="578.6" cy="769.6" r="0.9"/><circle cx="585.4" cy="762.4" r="0.9"/><circle cx="580.5" cy="769.3" r="1.0"/><circle cx="586.1" cy="769.3" r="1.2"/><circle cx="582.5" cy="777.4" r="0.9"/><circle cx="585.3" cy="764.5" r="1.1"/><circle cx="593.1" cy="767.3" r="1.2"/><circle cx="591.2" cy="771.7" r="1.1"/><circle cx="589.9" cy="774.3" r="1.1"/><circle cx="582.2" cy="760.8" r="1.0"/><circle cx="577.6" cy="766.6" r="1.2"/><circle cx="577.4" cy="768.3" r="1.2"/><circle cx="583.3" cy="771.8" r="1.0"/><circle cx="591.0" cy="765.6" r="0.9"/><circle cx="578.8" cy="763.5" r="1.1"/><circle cx="587.9" cy="764.4" r="1.1"/><circle cx="586.7" cy="759.2" r="1.2"/><circle cx="590.1" cy="768.1" r="1.2"/><circle cx="590.7" cy="761.4" r="1.2"/><circle cx="583.6" cy="773.7" r="1.0"/><circle cx="585.3" cy="760.3" r="1.0"/><circle cx="579.1" cy="774.2" r="1.2"/><circle cx="579.2" cy="765.2" r="1.2"/><circle cx="589.8" cy="764.0" r="0.9"/><circle cx="585.3" cy="776.8" r="1.2"/><circle cx="591.1" cy="766.9" r="0.9"/><circle cx="575.2" cy="768.6" r="1.2"/><circle cx="586.2" cy="772.7" r="0.9"/><circle cx="577.1" cy="761.9" r="1.2"/><circle cx="577.4" cy="772.7" r="1.0"/><circle cx="581.3" cy="776.9" r="1.1"/><circle cx="587.1" cy="766.9" r="1.2"/><circle cx="584.8" cy="767.5" r="1.2"/><circle cx="580.5" cy="765.5" r="0.9"/><circle cx="584.3" cy="765.7" r="1.2"/><circle cx="577.1" cy="764.2" r="1.1"/><circle cx="583.1" cy="764.6" r="1.2"/><circle cx="587.8" cy="773.4" r="1.2"/><circle cx="585.7" cy="774.4" r="0.9"/><circle cx="583.7" cy="761.2" r="1.1"/><circle cx="592.8" cy="769.3" r="1.1"/><circle cx="591.1" cy="763.9" r="1.0"/><circle cx="587.9" cy="765.7" r="1.0"/><circle cx="577.0" cy="769.8" r="0.9"/><circle cx="578.9" cy="767.6" r="1.2"/><circle cx="588.8" cy="763.1" r="0.9"/><circle cx="579.7" cy="760.7" r="1.2"/><circle cx="578.8" cy="776.1" r="1.0"/><circle cx="581.4" cy="770.6" r="1.0"/><circle cx="583.0" cy="770.0" r="0.9"/><circle cx="587.4" cy="774.7" r="0.9"/><circle cx="582.2" cy="774.9" r="0.9"/><circle cx="588.4" cy="761.0" r="1.1"/><circle cx="584.4" cy="763.3" r="1.1"/><circle cx="583.1" cy="762.3" r="0.9"/><circle cx="582.1" cy="763.2" r="1.2"/><circle cx="588.6" cy="775.6" r="0.9"/><circle cx="580.8" cy="773.3" r="1.2"/><circle cx="591.8" cy="770.3" r="1.0"/><circle cx="588.8" cy="769.1" r="1.0"/><circle cx="592.7" cy="771.3" r="1.1"/><circle cx="575.0" cy="770.0" r="1.1"/><circle cx="586.8" cy="771.4" r="1.2"/><circle cx="583.9" cy="758.4" r="1.0"/><circle cx="588.3" cy="771.8" r="1.0"/><circle cx="586.7" cy="777.2" r="0.9"/><circle cx="574.7" cy="766.1" r="1.2"/><circle cx="585.7" cy="765.7" r="0.9"/><circle cx="587.8" cy="770.5" r="0.9"/><circle cx="584.8" cy="770.7" r="1.1"/><circle cx="579.5" cy="770.9" r="1.0"/><circle cx="586.8" cy="760.7" r="1.1"/><circle cx="577.3" cy="774.3" r="1.2"/><circle cx="580.3" cy="763.8" r="1.0"/><circle cx="586.2" cy="763.3" r="1.0"/><circle cx="584.3" cy="775.3" r="0.9"/><circle cx="584.9" cy="773.1" r="1.0"/><circle cx="580.5" cy="767.3" r="0.9"/><circle cx="575.8" cy="763.0" r="1.2"/><circle cx="577.2" cy="771.1" r="1.0"/></g>
<g fill="#dcdcdc"><circle cx="603.1" cy="774.1" r="1.7"/><circle cx="609.0" cy="766.8" r="1.2"/><circle cx="613.3" cy="761.0" r="1.3"/><circle cx="603.8" cy="771.4" r="1.2"/><circle cx="614.1" cy="775.0" r="1.2"/><circle cx="614.7" cy="767.7" r="1.7"/><circle cx="606.1" cy="763.8" r="1.3"/><circle cx="609.0" cy="770.9" r="1.4"/><circle cx="615.8" cy="772.9" r="1.7"/><circle cx="615.5" cy="765.3" r="1.5"/><circle cx="606.0" cy="768.2" r="1.6"/><circle cx="606.5" cy="761.5" r="1.6"/><circle cx="611.9" cy="766.5" r="1.1"/><circle cx="602.1" cy="770.0" r="1.7"/><circle cx="605.3" cy="765.8" r="1.2"/><circle cx="605.2" cy="775.1" r="1.4"/><circle cx="606.1" cy="772.0" r="1.3"/><circle cx="610.3" cy="772.4" r="1.1"/><circle cx="601.7" cy="763.9" r="1.6"/><circle cx="607.8" cy="775.4" r="1.2"/><circle cx="610.0" cy="760.8" r="1.4"/><circle cx="606.2" cy="759.3" r="1.3"/><circle cx="612.0" cy="770.4" r="1.4"/><circle cx="616.3" cy="762.3" r="1.3"/><circle cx="616.8" cy="769.6" r="1.1"/><circle cx="617.0" cy="767.6" r="1.1"/><circle cx="601.2" cy="766.6" r="1.1"/><circle cx="609.8" cy="775.8" r="1.2"/><circle cx="611.5" cy="759.1" r="1.2"/><circle cx="603.4" cy="760.8" r="1.2"/></g>
<g fill="#dedede"><circle cx="629.5" cy="769.5" r="2.3"/><circle cx="634.5" cy="764.5" r="1.3"/><circle cx="636.5" cy="766.5" r="1.6"/><circle cx="638.6" cy="762.6" r="1.9"/><circle cx="642.5" cy="761.3" r="0.9"/><circle cx="632.5" cy="761.0" r="0.8"/><circle cx="637.5" cy="770.0" r="1.5"/><circle cx="634.0" cy="773.5" r="1.4"/><circle cx="631.5" cy="774.5" r="1.1"/><circle cx="635.0" cy="771.0" r="1.0"/></g>
<g fill="#dedede"><circle cx="660.3" cy="763.5" r="1.6"/><circle cx="663.7" cy="766.2" r="2.1"/><circle cx="658.5" cy="771.0" r="1.6"/><circle cx="664.5" cy="773.0" r="1.4"/><circle cx="669.0" cy="762.0" r="1.2"/></g>
<circle cx="559" cy="800.1" r="1.9" fill="#fff"/>
<circle cx="660.6" cy="813.4" r="1.0" fill="#eee"/>
</g>
<text x="479.9" y="719.9" font-size="15.2" text-anchor="middle" textLength="33.6" lengthAdjust="spacingAndGlyphs" style="stroke:#000;stroke-width:0.3;">YPD</text>
<text x="609.1" y="719.9" font-size="15.2" text-anchor="middle" textLength="38" lengthAdjust="spacingAndGlyphs" style="stroke:#000;stroke-width:0.3;">CFW</text>
<text x="406.2" y="746.3" font-size="14.3" text-anchor="end" textLength="44" lengthAdjust="spacingAndGlyphs" style="stroke:#000;stroke-width:0.3;">Hsp82</text>
<text x="406.2" y="773.1" font-size="14.3" text-anchor="end" textLength="46.5" lengthAdjust="spacingAndGlyphs" style="stroke:#000;stroke-width:0.3;">R380K</text>
<text x="406.2" y="804.8" font-size="14.3" text-anchor="end" textLength="36.8" lengthAdjust="spacingAndGlyphs" style="stroke:#000;stroke-width:0.3;">E33A</text>
<text x="340.4" y="715.6" font-size="19" style="stroke:#000;stroke-width:0.7;">i</text>
</g>
</svg>
</body></html>
